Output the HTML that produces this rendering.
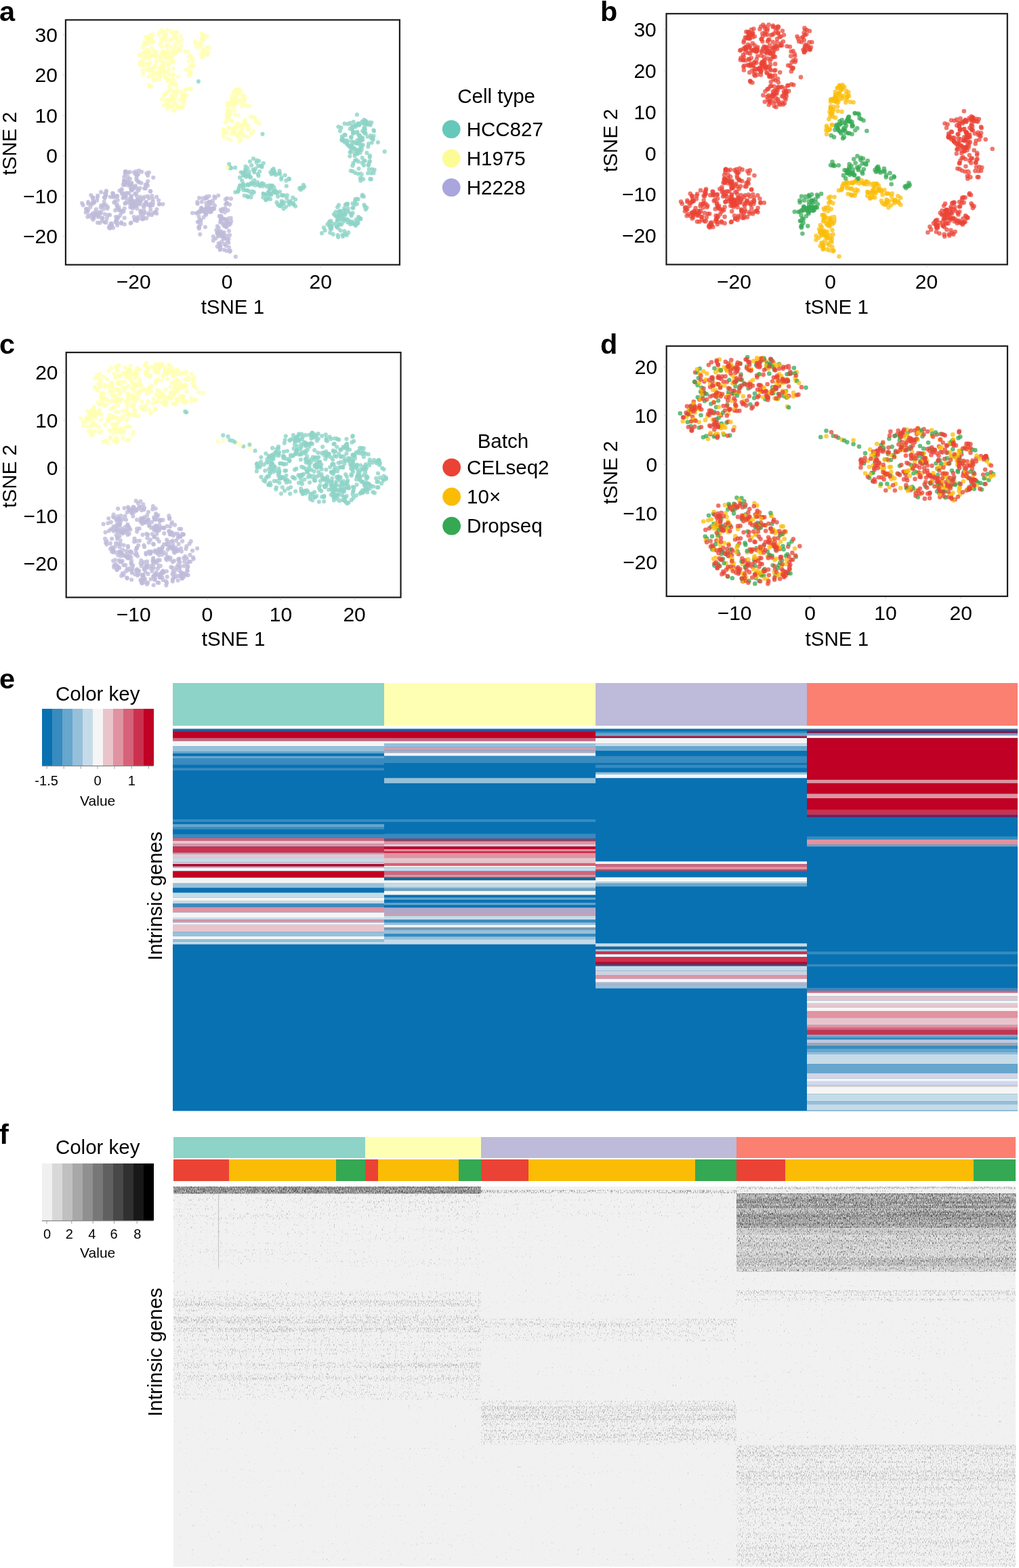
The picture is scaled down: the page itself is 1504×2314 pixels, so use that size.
<!DOCTYPE html>
<html><head><meta charset="utf-8"><title>Figure</title>
<style>
html,body{margin:0;padding:0;background:#fff;}
svg{display:block;}
text{font-family:"Liberation Sans",Arial,Helvetica,sans-serif;fill:#000;}
.tk{font-size:30px;}
.t29{font-size:29.5px;}
.t21{font-size:21px;}
.t20{font-size:20px;}
.pl{font-size:41.5px;font-weight:bold;}
</style></head><body>
<svg width="1504" height="2314" viewBox="0 0 1504 2314">
<rect width="1504" height="2314" fill="#fff"/>
<defs><clipPath id="ca"><rect x="97.9" y="30.4" width="491.0" height="359.3"/></clipPath><clipPath id="cb"><rect x="984.5" y="21.2" width="501.29999999999995" height="368.2"/></clipPath><clipPath id="cc"><rect x="98.7" y="521.1" width="491.8" height="359.5"/></clipPath><clipPath id="cd"><rect x="984.7" y="511.7" width="501.29999999999995" height="367.3"/></clipPath></defs><g class="pa"><g clip-path="url(#ca)" fill="none" stroke-linecap="round" stroke-width="6.2" stroke-opacity="0.8"><path stroke="#8dd3c7" d="M518.8 217.4h0M406.3 281.2h0M363.2 261.0h0M414.4 304.2h0M528.3 183.0h0M496.8 334.6h0M518.7 318.5h0M384.6 244.5h0M545.7 232.3h0M496.2 329.4h0M370.7 271.0h0M358.8 272.7h0M532.1 323.2h0M537.7 195.0h0M523.9 237.0h0M363.1 280.9h0M341.3 248.2h0M404.5 276.6h0M443.9 280.1h0M503.5 188.4h0M367.6 258.1h0M528.6 293.9h0M475.0 344.2h0M412.9 283.0h0M538.3 181.9h0"/><path stroke="#bebada" d="M325.0 328.1h0M219.9 254.6h0M301.1 312.1h0M317.6 292.2h0M153.7 297.7h0M157.7 322.2h0M332.8 294.3h0M209.1 253.7h0M325.8 324.8h0M167.0 336.3h0M339.2 371.3h0M172.2 323.8h0M214.9 277.9h0M303.3 308.5h0M179.5 282.0h0M202.9 320.6h0M194.4 303.9h0M222.4 300.6h0M339.1 347.1h0M134.6 320.5h0M213.6 301.1h0M302.9 335.0h0M179.1 328.2h0M151.4 321.8h0M137.1 291.4h0"/><path stroke="#ffffb3" d="M284.4 89.9h0M362.5 201.2h0M356.0 186.9h0M221.5 127.6h0M308.8 69.8h0M277.6 103.8h0M238.7 44.7h0M223.5 128.1h0M336.4 204.3h0M232.7 109.3h0M235.5 112.8h0M343.9 156.3h0M234.1 51.0h0M269.5 157.9h0M247.5 65.7h0M254.1 77.8h0M259.8 139.0h0M379.5 180.6h0M239.6 97.7h0M355.0 206.8h0M351.4 137.1h0M345.7 193.7h0M249.2 117.9h0M305.7 79.7h0M240.2 75.9h0"/><path stroke="#8dd3c7" d="M375.0 252.0h0M516.7 217.2h0M534.1 206.6h0M488.4 326.2h0M541.4 225.7h0M516.8 327.9h0M385.9 244.7h0M518.9 208.6h0M527.9 226.6h0M362.1 250.1h0M540.5 182.7h0M549.6 204.2h0M377.2 273.4h0M485.6 328.4h0M546.3 264.2h0M374.1 272.6h0M432.2 291.7h0M425.6 297.4h0M415.6 300.2h0M514.8 313.2h0M526.9 169.2h0M365.7 259.8h0M524.2 296.9h0M399.3 254.2h0M357.9 254.8h0"/><path stroke="#bebada" d="M194.6 276.5h0M193.7 279.5h0M322.7 359.1h0M170.2 310.4h0M193.0 297.8h0M217.8 273.9h0M331.4 329.7h0M156.3 287.8h0M194.5 273.5h0M193.5 294.7h0M218.2 267.6h0M136.8 315.7h0M203.8 267.8h0M334.4 370.1h0M192.0 264.0h0M186.7 269.7h0M167.1 285.9h0M320.9 333.8h0M222.3 309.1h0M196.1 279.6h0M200.8 253.1h0M122.7 302.8h0M137.2 324.1h0M188.8 254.9h0M200.1 274.1h0"/><path stroke="#ffffb3" d="M207.0 81.1h0M259.6 50.4h0M258.5 69.8h0M345.3 152.7h0M272.2 143.3h0M345.1 135.7h0M268.6 59.3h0M250.1 59.4h0M228.2 81.3h0M361.3 142.2h0M241.6 47.3h0M335.0 176.6h0M256.3 124.9h0M349.5 199.0h0M243.7 79.7h0M220.2 125.7h0M246.7 146.5h0M350.4 138.8h0M226.5 74.2h0M281.4 108.2h0M279.0 83.2h0M335.5 165.8h0M354.3 205.8h0M260.4 56.7h0M248.6 79.6h0"/><path stroke="#8dd3c7" d="M489.6 334.6h0M412.4 303.9h0M530.2 321.5h0M501.5 315.9h0M428.1 299.3h0M426.9 264.6h0M507.3 322.6h0M518.0 202.6h0M447.8 272.9h0M391.4 287.3h0M352.6 277.0h0M504.4 206.9h0M505.4 204.0h0M530.2 184.8h0M436.0 294.3h0M387.2 270.8h0M388.3 291.3h0M359.2 280.3h0M389.6 271.8h0M534.5 289.5h0M404.0 254.6h0M522.0 209.6h0M427.0 302.0h0M382.2 237.6h0M422.1 305.0h0"/><path stroke="#bebada" d="M320.7 363.8h0M139.3 298.6h0M322.9 342.4h0M337.5 352.8h0M201.4 262.4h0M331.5 351.4h0M222.3 282.4h0M156.7 283.6h0M319.2 339.5h0M196.2 298.7h0M307.4 308.2h0M318.2 352.0h0M162.3 337.0h0M136.5 315.8h0M173.4 320.5h0M218.1 259.1h0M329.7 349.4h0M240.3 301.3h0M335.3 292.7h0M341.0 293.2h0M192.5 300.5h0M150.2 322.0h0M231.4 308.8h0M235.0 301.5h0M327.9 322.2h0"/><path stroke="#ffffb3" d="M307.5 77.2h0M228.1 108.2h0M240.1 91.4h0M249.9 127.2h0M238.9 104.9h0M377.1 179.4h0M345.6 193.6h0M217.7 85.1h0M252.7 146.4h0M251.1 148.8h0M243.7 77.2h0M260.7 127.8h0M330.1 192.7h0M225.8 99.0h0M254.1 90.0h0M241.7 50.1h0M225.7 80.5h0M360.2 148.1h0M236.4 84.3h0M253.6 123.2h0M216.3 64.4h0M298.7 59.3h0M301.3 52.0h0M342.9 190.9h0M358.3 149.8h0"/><path stroke="#8dd3c7" d="M524.4 211.2h0M422.3 266.4h0M410.1 289.9h0M519.3 186.1h0M552.7 250.6h0M407.0 257.9h0M387.9 274.7h0M516.3 230.6h0M423.1 292.4h0M360.6 258.5h0M365.7 272.1h0M517.1 330.9h0M369.0 283.1h0M387.5 197.8h0M402.3 255.1h0M369.4 261.7h0M520.3 307.1h0M510.6 311.3h0M548.3 180.8h0M363.4 258.8h0M372.1 282.4h0M512.7 310.9h0M508.9 210.0h0M426.4 263.5h0M500.0 302.7h0"/><path stroke="#bebada" d="M148.7 306.3h0M289.5 314.5h0M194.6 280.0h0M185.6 252.9h0M330.5 352.5h0M164.3 333.3h0M221.8 282.2h0M296.5 330.3h0M130.1 300.3h0M190.3 285.3h0M336.4 310.4h0M325.7 362.8h0M304.1 316.9h0M171.1 320.0h0M308.5 289.5h0M320.8 343.7h0M219.7 314.4h0M126.9 308.8h0M328.5 344.0h0M293.3 335.6h0M308.2 298.4h0M304.9 290.1h0M121.0 299.8h0M158.4 307.7h0M212.7 311.4h0"/><path stroke="#ffffb3" d="M244.8 137.6h0M213.0 77.5h0M366.3 188.1h0M218.1 62.5h0M266.5 53.5h0M256.1 48.5h0M212.1 103.4h0M362.5 184.2h0M217.3 55.2h0M255.0 110.7h0M206.3 95.5h0M281.8 82.5h0M306.2 80.8h0M275.1 132.1h0M300.1 73.2h0M330.0 202.5h0M210.7 105.0h0M296.1 62.4h0M258.1 75.8h0M298.6 81.7h0M217.2 60.7h0M253.2 148.0h0M255.2 144.9h0M357.8 200.0h0M348.3 132.1h0"/><path stroke="#8dd3c7" d="M521.8 179.8h0M386.6 246.4h0M399.1 293.8h0M520.7 252.9h0M505.2 207.0h0M526.9 227.0h0M544.6 249.9h0M491.7 330.4h0M393.5 274.9h0M502.8 311.7h0M508.2 341.0h0M539.7 309.1h0M546.0 238.1h0M502.5 316.6h0M509.7 316.9h0M498.6 347.0h0M478.0 335.9h0M538.1 196.6h0M541.7 183.8h0M530.8 199.9h0M537.5 302.3h0M537.2 189.7h0M535.2 206.5h0M397.2 287.7h0M415.6 302.6h0"/><path stroke="#bebada" d="M131.4 317.7h0M184.6 300.3h0M141.5 316.5h0M198.9 324.5h0M193.7 280.9h0M202.6 294.8h0M197.5 298.8h0M310.5 313.0h0M183.8 331.0h0M194.9 297.7h0M207.2 290.5h0M169.8 297.1h0M201.2 302.5h0M162.1 317.2h0M203.6 322.8h0M160.8 335.7h0M207.8 311.0h0M179.8 285.8h0M304.8 308.1h0M297.6 308.5h0M293.8 312.1h0M330.5 368.6h0M332.1 313.3h0M219.4 317.1h0M333.3 333.9h0"/><path stroke="#ffffb3" d="M223.7 57.9h0M353.1 151.0h0M351.9 182.0h0M227.6 98.0h0M305.1 69.8h0M245.3 93.2h0M218.1 103.5h0M346.6 196.1h0M371.0 196.7h0M354.8 197.6h0M229.5 94.1h0M238.6 98.7h0M214.6 54.7h0M236.3 110.5h0M263.8 74.3h0M373.7 193.9h0M334.2 170.5h0M350.6 201.2h0M353.2 208.6h0M358.8 153.1h0M290.2 68.7h0M238.3 61.5h0M360.4 180.1h0M230.1 82.2h0M256.9 150.1h0"/><path stroke="#8dd3c7" d="M547.9 255.6h0M531.0 202.3h0M388.9 286.4h0M512.7 213.1h0M399.8 285.5h0M531.7 262.9h0M527.2 329.2h0M520.5 314.4h0M525.0 332.9h0M508.9 315.4h0M498.8 336.4h0M537.0 290.1h0M486.7 326.8h0M512.4 212.2h0M529.0 181.8h0M405.5 255.9h0M518.6 214.1h0M369.8 261.2h0M496.3 319.0h0M532.7 256.3h0M537.9 180.5h0M533.6 257.5h0M359.0 271.2h0M362.5 245.6h0M520.2 330.0h0"/><path stroke="#bebada" d="M172.8 289.1h0M337.6 322.3h0M293.4 319.5h0M334.6 299.7h0M183.7 321.5h0M211.5 293.3h0M166.6 290.6h0M144.1 328.6h0M213.1 278.0h0M204.0 257.0h0M154.4 327.8h0M140.2 315.6h0M310.3 312.2h0M153.5 302.5h0M202.2 257.8h0M141.9 308.9h0M137.7 296.2h0M165.2 333.1h0M199.1 286.1h0M323.8 318.9h0M324.4 364.1h0M340.7 321.9h0M322.2 344.6h0M127.7 308.1h0M205.3 301.5h0"/><path stroke="#ffffb3" d="M256.0 154.9h0M218.5 57.1h0M246.3 66.8h0M217.6 55.2h0M243.7 105.9h0M238.8 146.4h0M250.6 132.9h0M361.8 147.6h0M342.4 154.9h0M269.9 150.5h0M237.9 57.2h0M222.3 58.8h0M221.4 101.2h0M259.5 47.4h0M345.6 162.6h0M297.6 66.8h0M264.3 71.4h0M243.7 113.6h0M285.5 95.8h0M249.6 119.8h0M339.8 166.7h0M266.0 74.4h0M250.4 154.1h0M252.9 91.2h0M347.3 142.7h0"/><path stroke="#8dd3c7" d="M412.5 252.1h0M408.6 285.3h0M532.5 207.0h0M422.8 274.5h0M537.5 176.9h0M538.8 237.3h0M524.9 330.4h0M539.0 191.3h0M395.6 293.6h0M508.7 198.8h0M548.9 249.8h0M360.3 254.6h0M527.6 194.7h0M544.0 243.7h0M551.5 255.2h0M524.4 294.2h0M416.6 298.8h0M511.8 347.0h0M516.6 190.0h0M400.4 274.1h0M527.4 206.8h0M351.0 283.0h0M352.5 280.1h0M548.7 210.6h0M375.5 270.0h0"/><path stroke="#bebada" d="M183.7 307.5h0M300.6 320.7h0M203.8 299.2h0M204.4 281.1h0M179.2 314.0h0M164.4 329.7h0M194.0 289.4h0M333.1 301.7h0M296.0 310.5h0M203.7 294.1h0M147.4 316.7h0M194.0 313.7h0M192.0 272.4h0M174.2 307.3h0M145.7 316.9h0M324.7 368.7h0M198.6 276.0h0M188.8 261.2h0M184.9 267.8h0M192.4 297.0h0M225.7 297.8h0M184.9 254.1h0M207.9 297.1h0M225.9 299.6h0M173.1 307.5h0"/><path stroke="#ffffb3" d="M267.6 68.7h0M335.6 155.6h0M249.1 157.4h0M338.4 177.2h0M252.6 69.2h0M357.0 184.8h0M259.0 79.2h0M296.3 80.8h0M268.6 140.9h0M281.8 106.7h0M250.0 110.3h0M260.7 134.6h0M359.2 182.6h0M205.6 81.8h0M356.2 197.2h0M248.9 133.6h0M289.1 64.6h0M300.2 81.6h0M244.4 85.9h0M298.7 75.3h0M358.2 140.0h0M214.3 83.8h0M356.1 194.0h0M252.6 144.9h0M213.4 85.0h0"/><path stroke="#8dd3c7" d="M514.2 343.2h0M551.4 192.1h0M529.4 199.4h0M373.6 250.3h0M432.5 299.6h0M378.9 236.5h0M380.7 257.0h0M368.9 238.3h0M358.9 258.9h0M403.7 249.2h0M513.1 328.2h0M567.7 223.7h0M358.7 276.9h0M538.2 187.4h0M505.3 346.6h0M512.5 212.5h0M400.3 287.4h0M524.9 187.1h0M504.9 201.4h0M366.0 272.9h0M533.7 213.5h0M380.2 269.2h0M525.8 235.9h0M533.8 217.9h0M540.2 179.3h0"/><path stroke="#bebada" d="M171.4 325.4h0M297.1 306.7h0M202.8 297.3h0M137.0 299.2h0M145.0 320.1h0M147.5 313.0h0M156.3 288.7h0M202.0 278.3h0M198.2 298.3h0M155.0 285.7h0M172.4 303.4h0M214.7 272.9h0M310.1 308.8h0M193.6 328.6h0M231.2 315.1h0M138.6 322.1h0M213.1 290.6h0M229.8 313.0h0M294.2 333.9h0M314.0 296.0h0M197.7 320.0h0M209.1 323.0h0M225.5 293.9h0M135.9 301.1h0M173.7 295.3h0"/><path stroke="#ffffb3" d="M248.5 155.4h0M211.2 110.0h0M346.4 150.1h0M228.7 78.6h0M329.2 196.9h0M283.9 86.6h0M244.6 53.3h0M361.9 177.4h0M232.6 107.9h0M337.3 189.2h0M347.2 188.2h0M218.2 94.0h0M271.2 141.0h0M244.4 148.6h0M279.2 112.0h0M342.3 141.3h0M343.3 150.6h0M257.1 53.5h0M264.4 61.7h0M234.1 106.6h0M210.4 95.8h0M366.4 191.1h0M297.9 84.3h0M269.3 143.5h0M218.9 56.5h0"/><path stroke="#8dd3c7" d="M402.0 273.8h0M542.4 201.5h0M499.2 324.4h0M543.0 255.5h0M506.7 206.3h0M504.7 205.6h0M413.2 256.2h0M417.4 301.2h0M347.3 283.6h0M508.6 182.4h0M524.6 184.7h0M527.3 221.8h0M418.7 308.1h0M508.4 310.1h0M499.4 187.1h0M361.7 273.8h0M520.0 190.8h0M511.1 207.3h0M521.5 195.0h0M547.0 200.1h0M444.3 277.0h0M491.6 345.7h0M534.4 179.3h0M433.3 301.4h0M357.2 266.4h0"/><path stroke="#bebada" d="M341.2 326.6h0M337.9 365.0h0M192.1 305.8h0M229.0 313.2h0M304.9 312.3h0M215.7 298.0h0M153.7 291.3h0M309.8 301.1h0M322.1 348.6h0M212.1 321.4h0M339.0 301.8h0M294.0 292.2h0M225.2 303.0h0M183.5 272.1h0M170.3 328.2h0M198.2 303.4h0M294.5 313.3h0M332.7 323.5h0M309.4 297.9h0M311.7 307.7h0M138.5 299.0h0M216.4 255.7h0M149.4 303.2h0M324.8 347.8h0M193.6 297.4h0"/><path stroke="#ffffb3" d="M342.4 146.0h0M258.0 138.5h0M272.3 147.8h0M242.1 84.4h0M348.7 152.3h0M213.1 62.9h0M260.2 57.1h0M253.0 78.1h0M241.3 155.7h0M258.3 76.1h0M244.8 114.8h0M334.3 196.1h0M206.9 92.6h0M360.5 201.0h0M347.3 145.2h0M305.5 53.6h0M209.9 94.9h0M248.3 74.3h0M261.1 47.6h0M266.4 156.9h0M370.4 172.2h0M349.5 188.1h0M354.6 196.7h0M354.8 193.5h0M258.9 64.9h0"/><path stroke="#8dd3c7" d="M436.0 304.3h0M487.9 336.5h0M536.2 264.5h0M546.7 184.5h0M544.5 180.5h0M492.8 316.1h0M534.7 263.5h0M339.6 246.6h0M366.5 290.6h0M533.6 221.3h0M518.7 202.4h0M523.4 301.9h0M539.6 178.9h0M409.9 301.8h0M526.4 293.5h0M532.2 322.7h0M547.8 264.4h0M526.9 184.3h0M339.0 247.8h0M398.8 278.7h0M502.4 311.7h0M487.4 337.5h0M518.2 224.4h0M524.2 255.0h0M506.0 317.9h0"/><path stroke="#bebada" d="M210.9 316.9h0M302.0 312.0h0M221.3 304.1h0M161.6 333.6h0M175.6 305.8h0M212.3 306.0h0M140.5 314.5h0M200.9 304.1h0M188.3 266.2h0M335.4 300.0h0M195.2 301.4h0M217.8 289.6h0M138.9 319.1h0M293.9 337.2h0M190.7 271.3h0M187.2 296.3h0M216.1 322.1h0M325.9 341.2h0M188.1 268.2h0M162.6 335.2h0M303.5 292.0h0M327.1 311.9h0M291.3 314.3h0M140.0 313.2h0M168.3 298.8h0"/><path stroke="#ffffb3" d="M284.6 98.3h0M340.4 154.8h0M351.7 170.0h0M236.5 101.8h0M220.5 102.1h0M367.7 190.5h0M254.5 133.5h0M238.0 68.8h0M303.6 75.7h0M352.4 133.4h0M220.2 86.3h0M253.0 45.8h0M354.0 195.6h0M293.9 69.4h0M260.8 155.0h0M214.0 96.1h0M358.1 144.5h0M366.2 184.8h0M228.1 83.3h0M264.3 134.8h0M248.6 108.6h0M219.0 95.1h0M250.3 93.8h0M252.9 47.8h0M265.7 134.3h0"/><path stroke="#8dd3c7" d="M504.2 322.7h0M403.5 281.9h0M420.7 258.6h0M504.3 331.1h0M392.7 287.3h0M366.0 259.4h0M362.6 252.8h0M507.2 207.8h0M498.9 323.9h0M364.6 289.6h0M516.6 181.3h0M394.8 291.6h0M499.7 313.2h0M400.7 275.6h0M415.1 264.6h0M519.6 327.0h0M526.6 211.4h0M513.1 208.0h0M419.6 298.7h0M528.5 256.5h0M517.7 252.1h0M354.0 261.9h0M499.2 350.0h0M537.2 237.6h0M506.6 327.0h0"/><path stroke="#bebada" d="M216.7 271.7h0M299.5 292.4h0M126.6 313.6h0M173.1 289.9h0M303.1 314.8h0M330.7 323.3h0M143.6 291.4h0M169.5 290.6h0M224.1 289.2h0M173.4 329.3h0M144.6 318.7h0M303.2 309.7h0M193.6 290.9h0M304.3 299.5h0M322.2 288.5h0M219.8 292.7h0M216.5 302.2h0M156.9 281.6h0M154.7 316.2h0M338.0 332.1h0M301.7 293.3h0M206.6 277.5h0M329.0 308.3h0M338.0 340.8h0M129.3 320.1h0"/><path stroke="#ffffb3" d="M224.1 56.4h0M353.5 147.4h0M217.0 102.5h0M219.3 113.5h0M211.1 91.0h0M222.7 111.2h0M279.8 106.9h0M376.4 174.2h0M235.1 107.5h0M244.7 59.1h0M252.4 59.0h0M346.1 135.8h0M298.1 49.3h0M352.6 131.5h0M353.1 133.2h0M221.7 92.6h0M226.0 116.3h0M273.0 75.5h0M339.9 163.0h0M271.9 140.3h0M229.4 83.4h0M236.1 100.1h0M368.4 156.5h0M249.4 102.3h0M236.3 89.1h0"/><path stroke="#8dd3c7" d="M292.9 120.2h0M523.8 226.5h0M415.8 296.8h0M523.5 219.6h0M535.1 193.4h0M423.8 288.0h0M408.5 298.5h0M535.2 203.3h0M408.4 283.7h0M355.8 273.6h0M488.4 334.5h0M367.8 273.1h0M538.5 304.8h0M530.5 222.3h0M442.1 277.9h0M543.6 243.4h0M392.1 294.2h0M500.6 330.5h0M528.7 329.1h0M397.0 273.7h0M519.5 215.4h0M381.7 272.6h0M528.2 326.1h0M508.6 324.6h0M509.6 345.1h0"/><path stroke="#bebada" d="M220.9 302.8h0M316.3 290.0h0M149.1 283.4h0M339.9 370.1h0M225.7 314.5h0M297.7 298.0h0M312.0 308.6h0M181.4 292.2h0M231.0 290.6h0M144.8 313.6h0M188.5 273.3h0M191.5 253.9h0M322.8 347.7h0M180.5 311.1h0M316.1 308.2h0M166.2 285.1h0M173.2 332.5h0M330.7 343.0h0M189.4 299.3h0M179.1 329.8h0M324.6 319.5h0M325.8 323.3h0M152.5 303.4h0M196.1 305.0h0M183.9 267.0h0"/><path stroke="#ffffb3" d="M275.6 140.3h0M350.9 147.8h0M235.5 112.4h0M336.0 152.7h0M254.5 57.3h0M348.6 143.3h0M335.9 172.8h0M335.8 162.1h0M271.1 144.9h0M301.3 75.1h0M242.2 108.4h0M282.5 131.3h0M278.6 89.8h0M270.4 136.3h0M350.2 134.4h0M222.2 58.2h0M343.1 145.5h0M213.4 79.2h0M227.1 118.4h0M329.9 190.5h0M241.8 140.7h0M342.2 178.5h0M210.1 88.0h0M220.4 125.9h0M248.3 118.4h0"/><path stroke="#8dd3c7" d="M530.1 208.1h0M402.0 251.0h0M523.5 230.0h0M525.6 324.2h0M483.3 331.1h0M397.6 285.3h0M526.2 330.6h0M522.6 218.6h0M428.7 296.9h0M527.8 211.7h0M512.9 300.7h0M378.6 239.6h0M529.6 222.3h0M496.9 334.3h0M374.0 234.1h0M361.6 257.5h0M533.1 203.2h0M381.6 259.4h0M370.6 270.4h0M551.5 200.7h0M521.4 186.4h0M510.2 323.6h0M523.1 331.0h0M359.7 256.1h0M535.8 214.1h0"/><path stroke="#bebada" d="M206.4 300.4h0M308.0 305.0h0M291.3 298.2h0M149.3 313.7h0M325.0 343.5h0M202.2 326.0h0M191.6 293.2h0M183.2 261.3h0M130.2 298.1h0M314.6 300.8h0M183.1 266.4h0M175.1 309.6h0M234.1 295.5h0M327.2 356.7h0M305.2 314.0h0M207.6 317.7h0M305.4 292.3h0M312.2 311.8h0M208.5 270.1h0M330.0 347.7h0M317.0 303.4h0M192.7 276.8h0M129.0 311.7h0M310.0 298.2h0M174.3 321.6h0"/><path stroke="#ffffb3" d="M262.5 62.1h0M342.8 178.8h0M304.9 79.0h0M255.2 139.6h0M258.5 143.7h0M344.1 189.1h0M259.8 152.0h0M221.8 51.8h0M345.9 168.9h0M219.7 76.9h0M230.0 116.8h0M222.3 81.2h0M340.6 206.8h0M218.3 61.3h0M350.0 133.4h0M274.6 103.2h0M226.8 112.5h0M257.6 142.5h0M213.9 80.2h0M332.0 196.8h0M243.1 106.6h0M255.4 74.8h0M223.8 71.2h0M277.3 76.4h0M301.0 58.4h0"/><path stroke="#8dd3c7" d="M375.4 266.0h0M375.4 254.2h0M388.8 240.8h0M386.5 270.7h0M539.7 178.9h0M550.8 205.9h0M524.1 221.5h0M487.2 332.8h0M338.1 242.2h0M530.2 183.3h0M499.5 319.3h0M373.7 267.3h0M371.4 287.0h0M528.2 221.6h0M402.5 251.2h0M383.1 253.2h0M495.5 312.7h0M518.5 220.9h0M449.1 275.6h0M388.6 285.6h0M514.7 325.1h0M400.8 256.9h0M405.1 283.9h0M370.4 291.1h0M506.1 348.9h0"/><path stroke="#bebada" d="M325.8 309.7h0M183.8 272.9h0M152.7 308.4h0M294.9 324.1h0M331.4 360.0h0M184.3 285.3h0M197.1 299.1h0M182.9 268.7h0M224.0 317.3h0M335.7 356.0h0M196.3 307.5h0M194.2 269.9h0M177.3 317.8h0M143.1 295.7h0M321.7 341.6h0M159.0 305.4h0M336.9 329.3h0M183.1 290.5h0M314.8 349.1h0M296.9 312.1h0M194.1 299.7h0M291.8 327.5h0M195.9 302.3h0M167.8 289.2h0M320.5 344.4h0"/><path stroke="#ffffb3" d="M363.4 183.0h0M256.3 110.1h0M214.8 63.6h0M253.3 85.8h0M336.9 152.1h0M247.5 105.5h0M348.1 188.7h0M336.3 152.2h0M249.2 148.0h0M248.6 97.1h0M214.4 76.5h0M282.1 96.0h0M249.2 86.6h0M247.5 119.3h0M267.3 159.7h0M352.6 137.4h0M382.9 182.7h0M230.0 81.5h0M225.3 50.5h0M223.6 81.9h0M245.7 152.5h0M232.2 108.5h0M238.6 78.8h0M235.8 47.3h0M347.8 197.6h0"/><path stroke="#8dd3c7" d="M418.5 288.3h0M360.5 288.6h0M534.7 232.8h0M415.6 288.3h0M365.4 281.1h0M509.7 302.5h0M544.1 212.0h0M354.1 273.6h0M479.7 340.1h0M530.3 200.1h0M537.9 180.3h0M544.9 183.6h0M531.6 225.5h0M365.8 281.0h0M547.5 203.4h0M505.2 318.0h0M512.6 301.9h0M537.0 243.9h0M487.2 343.4h0M397.6 279.1h0M521.9 329.0h0M502.3 340.1h0M404.9 282.1h0M497.6 324.8h0M541.3 306.5h0"/><path stroke="#bebada" d="M172.6 301.6h0M200.0 256.9h0M207.5 312.6h0M235.1 301.1h0M304.7 303.9h0M144.3 288.6h0M154.9 291.9h0M329.1 331.1h0M335.5 328.2h0M295.3 345.8h0M193.6 271.9h0M327.2 345.9h0M159.6 317.3h0M314.3 308.1h0M147.5 328.8h0M199.0 324.3h0M184.7 300.1h0M326.6 318.8h0M181.7 272.5h0M197.2 298.2h0M300.1 309.4h0M181.9 272.3h0M182.5 312.0h0M193.5 271.5h0M136.8 292.2h0"/><path stroke="#ffffb3" d="M263.0 113.3h0M219.7 63.9h0M236.2 65.3h0M343.7 152.0h0M246.2 137.1h0M231.0 89.9h0M231.0 76.9h0M247.5 154.8h0M248.1 117.1h0M345.1 194.9h0M254.5 158.7h0M337.8 188.9h0M246.9 44.6h0M219.6 64.9h0M254.8 162.0h0M240.9 95.8h0M357.2 156.8h0M256.1 117.6h0M225.0 103.3h0M230.7 80.2h0M333.1 180.9h0M236.6 65.6h0M343.5 150.4h0M235.6 116.9h0M254.3 144.5h0"/><path stroke="#8dd3c7" d="M521.4 306.7h0M392.4 295.3h0M501.8 311.6h0M411.2 256.3h0M512.0 323.5h0M539.8 196.8h0M509.7 199.4h0M415.5 261.5h0M529.1 320.0h0M486.3 333.5h0M520.2 191.7h0M514.4 215.1h0M532.0 215.8h0M395.6 284.0h0M545.8 229.7h0M427.7 299.5h0M383.6 274.5h0M502.3 319.7h0M371.2 244.1h0M525.9 195.7h0M498.1 305.8h0M526.8 301.0h0M351.7 281.7h0M521.1 196.9h0M557.9 210.1h0"/><path stroke="#bebada" d="M201.1 285.2h0M297.3 307.7h0M216.1 299.2h0M335.1 351.5h0M192.7 329.5h0M204.5 268.3h0M138.0 318.5h0M284.0 314.3h0M176.8 310.4h0M205.4 269.1h0M332.4 307.7h0M185.6 289.2h0M322.8 336.3h0M334.5 347.8h0M330.9 333.6h0M150.8 326.0h0M182.0 286.8h0M213.7 314.2h0M207.6 312.8h0M314.8 354.9h0M328.2 349.9h0M202.5 258.7h0M194.6 305.4h0M198.6 304.8h0M226.3 262.0h0"/><path stroke="#ffffb3" d="M298.5 78.5h0M355.4 134.3h0M358.0 190.1h0M248.3 83.6h0M360.5 180.4h0M229.3 99.6h0M256.1 101.2h0M279.8 99.0h0M341.9 196.4h0M255.2 80.6h0M348.7 184.0h0M340.2 151.5h0M233.8 108.4h0M375.2 172.7h0M240.7 102.8h0M243.5 104.6h0M242.0 58.5h0M279.5 130.5h0M271.3 152.4h0M255.1 144.2h0M257.4 163.3h0M226.8 61.5h0M219.5 75.3h0M223.8 103.3h0M370.8 172.4h0"/><path stroke="#8dd3c7" d="M365.8 290.5h0M552.0 193.5h0M501.9 193.3h0M367.6 253.6h0M529.0 238.4h0M396.2 283.8h0M521.4 240.9h0M366.9 255.9h0M518.2 316.1h0M383.5 273.2h0M506.8 314.0h0M502.0 324.3h0M535.3 181.9h0M529.5 248.8h0M489.2 337.8h0M377.0 249.1h0M513.3 183.0h0M404.8 252.6h0M365.5 248.4h0M520.4 300.3h0M532.3 266.7h0M531.1 208.2h0M511.0 301.1h0M521.1 195.9h0M530.2 220.9h0"/><path stroke="#bebada" d="M184.6 257.5h0M291.6 300.8h0M162.8 290.5h0M190.1 269.5h0M347.8 378.8h0M184.8 253.3h0M334.8 325.0h0M130.1 310.3h0M156.3 302.6h0M197.7 254.3h0M333.0 333.6h0M333.5 362.6h0M202.2 307.7h0M324.9 367.0h0M337.4 358.2h0M211.6 303.4h0M205.2 251.8h0M293.2 327.6h0M207.3 295.4h0M340.2 330.1h0M324.1 360.3h0M163.3 330.8h0M334.6 327.6h0M185.7 291.5h0M179.8 279.0h0"/><path stroke="#ffffb3" d="M273.8 132.3h0M297.6 84.0h0M348.8 133.1h0M263.3 159.8h0M241.6 55.6h0M263.7 74.6h0M237.5 101.0h0M338.5 170.4h0M335.6 164.5h0M237.3 82.2h0M246.4 83.1h0M362.4 184.0h0M210.6 79.2h0M218.6 78.3h0M346.5 156.6h0M297.4 56.6h0M242.3 76.9h0M287.7 61.4h0M217.1 73.1h0M241.1 100.0h0M225.7 81.7h0M253.4 83.9h0M246.9 160.3h0M223.7 62.4h0M244.0 83.4h0"/><path stroke="#8dd3c7" d="M534.9 287.6h0M501.9 331.2h0M539.3 178.3h0M530.0 210.7h0M516.6 224.5h0M347.1 247.4h0M545.1 239.4h0M534.7 240.4h0M404.5 283.3h0M520.6 244.4h0M499.2 318.1h0M447.3 277.6h0M500.8 312.2h0M374.8 283.7h0M513.7 307.5h0M359.8 257.4h0M508.1 307.6h0M543.4 216.4h0M530.6 205.8h0M381.0 244.9h0M355.6 254.3h0M520.3 244.6h0M528.3 211.5h0M433.1 301.3h0M417.4 288.2h0"/><path stroke="#bebada" d="M314.1 307.9h0M328.2 347.8h0M134.4 301.7h0M296.6 325.2h0M201.7 265.4h0M211.1 323.4h0M172.1 325.8h0M187.8 284.9h0M176.6 281.4h0M196.8 296.2h0M334.3 335.3h0M156.8 327.3h0M202.0 289.5h0M133.2 305.7h0M326.5 326.5h0M156.2 328.4h0M134.3 288.1h0"/><path stroke="#ffffb3" d="M298.7 53.1h0M251.9 118.1h0M240.6 105.1h0M348.5 132.6h0M294.6 63.3h0M238.4 103.4h0M253.0 141.1h0M249.2 86.0h0M241.7 78.8h0M237.7 98.1h0M361.3 177.7h0M334.6 194.9h0M245.4 68.8h0M359.3 183.2h0M220.9 104.2h0M363.9 156.1h0M245.3 50.3h0M267.6 146.8h0M337.9 173.4h0M366.3 202.5h0M211.4 67.7h0M351.0 186.6h0M213.7 78.6h0M341.7 149.4h0M210.9 70.1h0"/><path stroke="#8dd3c7" d="M502.3 315.7h0M495.1 318.3h0"/><path stroke="#ffffb3" d="M261.4 158.4h0M226.3 108.5h0M255.9 90.9h0M335.7 247.1h0M336.6 166.1h0M260.3 134.8h0M259.8 122.7h0M266.0 147.9h0"/></g></g><rect x="96.9" y="29.4" width="493.0" height="361.3" fill="none" stroke="#1c1c1c" stroke-width="2.2"/><line x1="197.2" y1="391.7" x2="197.2" y2="394.7" stroke="#ccc" stroke-width="1"/><text x="197.2" y="426.0" text-anchor="middle" class="tk">−20</text><line x1="335.2" y1="391.7" x2="335.2" y2="394.7" stroke="#ccc" stroke-width="1"/><text x="335.2" y="426.0" text-anchor="middle" class="tk">0</text><line x1="473.2" y1="391.7" x2="473.2" y2="394.7" stroke="#ccc" stroke-width="1"/><text x="473.2" y="426.0" text-anchor="middle" class="tk">20</text><line x1="92.9" y1="51.4" x2="95.9" y2="51.4" stroke="#ccc" stroke-width="1"/><text x="84.9" y="61.9" text-anchor="end" class="tk">30</text><line x1="92.9" y1="110.8" x2="95.9" y2="110.8" stroke="#ccc" stroke-width="1"/><text x="84.9" y="121.3" text-anchor="end" class="tk">20</text><line x1="92.9" y1="170.3" x2="95.9" y2="170.3" stroke="#ccc" stroke-width="1"/><text x="84.9" y="180.8" text-anchor="end" class="tk">10</text><line x1="92.9" y1="229.8" x2="95.9" y2="229.8" stroke="#ccc" stroke-width="1"/><text x="84.9" y="240.3" text-anchor="end" class="tk">0</text><line x1="92.9" y1="289.3" x2="95.9" y2="289.3" stroke="#ccc" stroke-width="1"/><text x="84.9" y="299.8" text-anchor="end" class="tk">−10</text><line x1="92.9" y1="348.8" x2="95.9" y2="348.8" stroke="#ccc" stroke-width="1"/><text x="84.9" y="359.3" text-anchor="end" class="tk">−20</text><text x="343.4" y="463.2" text-anchor="middle" class="t29">tSNE 1</text><text transform="translate(24.1,211.85) rotate(-90)" text-anchor="middle" class="t29">tSNE 2</text><text x="-1" y="31" class="pl">a</text><g class="pb"><g clip-path="url(#cb)" fill="none" stroke-linecap="round" stroke-width="6.6" stroke-opacity="0.72"><path stroke="#ea4335" d="M1414.4 213.3h0M1173.3 82.8h0M1106.9 251.4h0M1424.2 178.1h0M1108.5 121.4h0M1391.7 333.2h0M1038.7 295.5h0M1198.3 62.2h0M1166.2 97.1h0M1414.4 316.7h0M1126.2 36.6h0M1042.8 320.6h0M1110.5 122.0h0M1442.1 228.5h0M1120.0 102.7h0M1095.7 250.4h0M1052.4 335.0h0M1122.9 106.2h0M1391.2 327.9h0M1057.7 322.1h0M1428.1 321.6h0M1121.5 43.0h0M1433.9 190.4h0M1419.6 233.3h0M1101.7 275.2h0"/><path stroke="#fbbc05" d="M1298.6 278.5h0M1215.0 326.6h0M1307.0 302.1h0M1223.0 291.9h0M1215.8 323.2h0M1229.6 370.8h0M1262.0 268.2h0M1249.8 269.9h0M1234.5 150.8h0M1254.2 278.2h0M1229.6 346.0h0M1296.8 273.9h0M1305.4 280.4h0M1212.6 358.3h0M1242.1 131.1h0M1268.7 270.6h0M1221.6 328.2h0M1235.9 147.1h0M1265.6 269.8h0M1325.3 289.3h0M1318.5 295.2h0M1235.7 129.7h0M1308.2 298.0h0M1224.6 369.5h0M1252.3 136.4h0"/><path stroke="#34a853" d="M1254.3 257.9h0M1253.6 196.7h0M1246.9 182.1h0M1190.4 310.2h0M1207.4 289.9h0M1226.7 199.9h0M1276.3 241.0h0M1192.7 306.5h0M1231.8 244.8h0M1337.3 277.4h0M1258.9 255.0h0M1266.5 248.7h0M1271.1 175.7h0M1192.3 333.6h0M1245.9 202.4h0M1277.7 241.2h0M1236.3 189.0h0M1253.2 246.8h0M1256.9 256.7h0M1291.5 250.9h0M1248.9 251.6h0M1240.2 194.5h0M1319.8 261.6h0M1245.1 201.4h0M1341.3 270.1h0"/><path stroke="#ea4335" d="M1065.3 279.5h0M1157.9 152.4h0M1089.4 318.9h0M1080.6 301.8h0M1109.4 298.4h0M1135.3 58.1h0M1019.0 318.8h0M1100.4 299.0h0M1142.0 70.5h0M1398.6 183.6h0M1424.6 291.6h0M1369.4 343.0h0M1434.5 177.0h0M1147.9 133.1h0M1412.2 213.1h0M1430.1 202.3h0M1383.2 324.6h0M1064.9 326.7h0M1036.3 320.2h0M1021.6 289.0h0M1127.1 90.8h0M1080.8 273.8h0M1437.7 221.8h0M1079.9 276.9h0M1412.3 326.4h0"/><path stroke="#fbbc05" d="M1225.3 171.6h0M1210.8 332.4h0M1304.9 301.8h0M1241.2 132.9h0M1321.1 297.1h0M1225.8 160.5h0M1210.6 363.1h0M1212.9 341.2h0M1227.9 351.9h0M1283.3 284.9h0M1243.4 274.3h0M1221.7 350.5h0M1209.0 338.2h0M1329.2 291.9h0M1279.0 268.0h0M1208.1 351.0h0M1280.2 289.0h0M1250.2 277.6h0M1281.5 269.0h0M1219.9 348.4h0M1220.3 188.0h0M1320.0 299.8h0M1225.6 290.4h0M1231.5 290.8h0M1251.2 142.4h0"/><path stroke="#34a853" d="M1196.9 306.3h0M1268.6 174.4h0M1236.2 189.0h0M1296.3 251.3h0M1273.9 234.0h0M1315.2 263.4h0M1233.4 186.2h0M1299.4 254.8h0M1178.5 312.7h0M1257.5 183.3h0M1251.6 255.4h0M1279.3 193.3h0M1185.7 328.9h0M1294.5 251.9h0M1260.7 258.7h0M1253.6 179.3h0M1193.5 315.2h0M1254.5 255.6h0M1198.1 287.1h0M1182.4 334.3h0M1197.7 296.2h0M1194.4 287.7h0M1319.3 260.4h0M1278.4 242.9h0M1200.1 311.1h0"/><path stroke="#ea4335" d="M1414.6 204.3h0M1055.7 308.5h0M1423.8 222.8h0M1137.0 111.5h0M1436.7 177.8h0M1446.1 199.8h0M1079.2 295.6h0M1195.1 72.4h0M1104.7 271.1h0M1127.7 68.6h0M1380.3 326.8h0M1093.5 73.8h0M1147.7 42.5h0M1442.7 261.2h0M1146.6 62.3h0M1041.4 285.4h0M1160.7 137.5h0M1080.8 270.8h0M1079.7 292.4h0M1157.0 51.6h0M1105.1 264.7h0M1021.4 313.9h0M1137.9 51.7h0M1410.3 311.3h0M1115.4 74.0h0"/><path stroke="#fbbc05" d="M1314.9 303.0h0M1302.6 287.5h0M1218.0 320.6h0M1249.3 144.2h0M1279.7 271.9h0M1316.0 290.1h0M1220.7 351.6h0M1256.8 269.3h0M1260.3 280.5h0M1226.7 308.5h0M1215.8 362.1h0M1210.7 342.6h0M1263.5 279.8h0M1218.6 342.9h0M1220.1 198.0h0M1291.3 291.5h0M1285.5 272.1h0M1238.9 126.0h0M1243.9 145.4h0M1289.3 285.2h0M1308.3 300.5h0M1224.5 165.3h0M1280.7 283.9h0M1220.6 368.1h0M1292.0 283.0h0"/><path stroke="#34a853" d="M1248.7 195.5h0M1242.6 177.1h0M1237.2 191.5h0M1262.3 192.2h0M1194.2 306.1h0M1245.7 193.1h0M1265.2 189.2h0M1186.9 306.5h0M1182.9 310.2h0M1241.4 196.7h0M1244.0 204.3h0M1251.4 175.1h0M1182.5 317.7h0M1297.8 252.7h0M1261.2 258.1h0M1199.9 310.3h0M1253.6 242.2h0M1305.0 248.8h0M1315.6 271.7h0M1189.9 319.0h0M1251.4 251.4h0M1185.2 308.6h0M1247.9 180.0h0M1250.1 177.7h0M1247.1 192.7h0"/><path stroke="#ea4335" d="M1090.3 264.9h0M1422.8 164.0h0M1419.9 294.7h0M1078.2 261.0h0M1072.7 266.9h0M1052.5 283.4h0M1129.1 39.2h0M1144.3 118.6h0M1109.3 307.2h0M1131.4 72.4h0M1384.4 333.2h0M1107.2 119.5h0M1426.2 319.8h0M1134.4 140.7h0M1082.3 277.0h0M1396.6 314.0h0M1087.2 249.8h0M1113.7 66.8h0M1006.8 300.7h0M1021.7 322.5h0M1402.6 321.0h0M1170.2 101.6h0M1167.6 76.0h0M1074.8 251.7h0M1148.6 48.9h0"/><path stroke="#fbbc05" d="M1249.8 147.5h0M1222.3 311.5h0M1223.5 332.5h0M1228.0 320.7h0M1224.8 297.5h0M1252.9 141.8h0M1232.9 149.3h0M1213.8 317.2h0M1236.2 157.2h0M1250.0 268.4h0M1301.0 282.8h0M1214.3 363.4h0M1231.2 320.2h0M1212.1 343.5h0M1230.3 161.5h0M1287.7 291.3h0M1238.0 136.9h0M1226.0 150.1h0M1223.3 299.5h0M1228.8 172.2h0M1309.3 296.6h0M1292.6 271.3h0M1241.8 280.5h0M1243.3 277.5h0M1267.0 267.1h0"/><path stroke="#34a853" d="M1265.0 247.0h0M1247.1 189.4h0M1270.5 232.9h0M1272.3 253.8h0M1260.2 234.7h0M1249.9 255.8h0M1296.0 245.8h0M1186.3 304.7h0M1252.9 172.4h0M1237.8 183.5h0M1305.7 253.0h0M1199.7 306.8h0M1337.7 274.3h0M1248.1 263.4h0M1183.3 332.5h0M1257.6 186.4h0M1203.7 293.7h0M1230.0 243.2h0M1251.6 196.5h0M1194.3 310.4h0M1261.7 167.1h0M1240.2 183.3h0M1199.4 299.0h0M1245.5 192.1h0M1245.6 188.8h0"/><path stroke="#ea4335" d="M1086.5 271.3h0M1413.6 198.2h0M1136.4 72.3h0M1196.9 69.8h0M1115.3 101.6h0M1023.9 296.4h0M1127.7 84.4h0M1399.6 202.6h0M1400.6 199.6h0M1426.2 179.9h0M1087.8 259.4h0M1137.8 121.0h0M1109.3 279.8h0M1041.8 281.0h0M1082.5 296.5h0M1126.4 98.2h0M1047.6 335.7h0M1021.1 314.0h0M1059.0 318.8h0M1104.6 78.0h0M1140.6 140.6h0M1138.9 143.1h0M1105.0 256.0h0M1430.6 287.1h0M1131.4 69.8h0"/><path stroke="#fbbc05" d="M1214.7 368.1h0M1249.2 134.1h0M1325.7 297.4h0M1249.6 274.2h0M1237.0 144.4h0M1219.3 192.3h0M1292.5 285.0h0M1257.2 270.1h0M1271.8 266.3h0M1227.6 184.5h0M1294.3 271.0h0M1310.1 299.1h0M1238.0 281.0h0M1311.4 306.2h0M1252.8 271.1h0M1232.8 135.5h0M1233.9 145.0h0M1326.5 299.3h0M1329.3 302.2h0M1232.9 140.2h0M1239.4 146.7h0M1231.6 325.0h0M1257.7 288.2h0M1228.3 364.4h0M1224.6 191.5h0"/><path stroke="#34a853" d="M1229.4 244.4h0M1183.1 289.8h0M1183.7 311.4h0M1198.9 295.7h0M1201.3 305.7h0M1258.9 185.8h0M1191.3 310.1h0M1313.5 255.4h0M1257.2 256.2h0M1253.7 249.5h0M1244.9 191.0h0M1183.0 335.9h0M1307.7 261.6h0M1257.4 179.9h0M1192.9 289.6h0M1180.3 312.5h0M1188.7 290.0h0M1192.5 312.9h0M1267.9 169.1h0M1244.9 258.9h0M1192.6 307.7h0M1193.7 297.3h0M1212.1 286.0h0M1191.1 291.0h0M1335.5 275.3h0"/><path stroke="#ea4335" d="M1148.8 121.6h0M1112.9 92.2h0M1142.0 83.0h0M1417.7 205.3h0M1127.8 299.2h0M1129.3 42.1h0M1112.9 73.2h0M1123.9 77.1h0M1078.7 298.3h0M1035.2 320.3h0M1118.7 306.8h0M1420.2 207.0h0M1141.5 117.0h0M1103.2 56.8h0M1187.9 51.6h0M1122.4 299.4h0M1190.6 44.1h0M1414.9 181.3h0M1449.3 247.3h0M1033.6 304.2h0M1132.5 131.7h0M1411.8 226.8h0M1080.8 277.3h0M1099.7 70.1h0M1071.6 249.6h0"/><path stroke="#fbbc05" d="M1238.0 139.5h0M1302.3 299.7h0M1212.0 347.6h0M1229.4 299.7h0M1290.9 276.1h0M1230.9 149.2h0M1242.5 164.9h0M1222.9 321.9h0M1214.8 346.7h0M1295.8 279.3h0M1243.2 127.4h0M1284.7 284.8h0M1255.8 287.2h0M1286.8 289.2h0M1225.7 297.9h0M1292.9 272.9h0M1249.1 138.7h0M1215.9 340.0h0M1217.1 310.0h0M1312.4 296.5h0M1244.3 141.6h0M1220.9 321.7h0M1236.7 129.9h0M1243.4 125.4h0M1243.9 127.2h0"/><path stroke="#34a853" d="M1206.0 287.6h0M1186.9 295.8h0M1294.3 247.6h0M1201.6 306.6h0M1270.2 236.1h0M1265.4 230.4h0M1252.6 254.4h0M1205.8 306.2h0M1273.2 256.3h0M1234.6 184.3h0M1197.5 303.0h0M1180.4 295.9h0M1231.0 202.4h0M1204.3 298.7h0M1250.7 253.0h0M1266.9 263.1h0M1266.9 251.0h0M1280.7 237.3h0M1194.7 312.1h0M1194.9 289.9h0M1201.8 309.9h0M1206.8 301.4h0M1254.5 178.1h0M1228.5 238.7h0M1199.6 296.0h0"/><path stroke="#ea4335" d="M1412.7 329.4h0M1049.7 331.9h0M1108.9 279.7h0M1105.0 54.8h0M1154.8 45.6h0M1014.5 298.1h0M1076.4 282.7h0M1415.9 305.1h0M1144.1 40.5h0M1098.9 96.7h0M1406.0 309.4h0M1444.8 175.8h0M1104.2 47.4h0M1056.6 318.3h0M1143.0 104.2h0M1092.9 88.6h0M1170.6 75.2h0M1106.6 312.6h0M1011.1 306.8h0M1195.7 73.6h0M1163.7 126.1h0M1189.4 65.8h0M1408.1 309.0h0M1404.2 205.7h0M1005.0 297.6h0"/><path stroke="#fbbc05" d="M1308.5 294.6h0M1316.6 285.5h0M1300.9 296.3h0M1230.3 157.6h0M1228.4 330.7h0M1300.8 281.1h0M1246.7 270.9h0M1259.1 270.3h0M1259.6 151.0h0M1219.1 306.3h0M1228.4 339.6h0M1284.0 291.9h0M1241.7 142.1h0M1289.1 270.9h0M1226.3 147.1h0M1239.2 137.5h0M1226.2 167.6h0M1230.3 369.6h0M1226.1 156.7h0M1273.3 269.8h0M1289.8 282.8h0M1321.7 294.7h0M1240.9 128.4h0M1233.6 139.7h0M1212.8 346.6h0"/><path stroke="#34a853" d="M1265.1 264.4h0M1238.8 183.9h0M1294.8 247.9h0M1274.8 249.9h0M1184.1 322.5h0M1342.7 272.9h0M1293.0 253.7h0M1274.6 177.8h0M1186.1 310.2h0M1180.9 326.0h0M1194.1 301.8h0M1238.4 193.0h0M1235.7 190.3h0M1184.4 344.7h0M1303.7 253.1h0M1204.0 306.1h0M1249.0 185.4h0M1308.1 258.4h0M1251.6 175.5h0M1232.4 191.8h0M1239.4 179.1h0M1189.4 307.4h0M1262.6 240.6h0M1266.7 167.6h0M1186.5 305.7h0"/><path stroke="#ea4335" d="M1097.4 98.4h0M1395.1 300.6h0M1417.5 174.8h0M1185.3 54.7h0M1146.2 68.4h0M1043.6 305.7h0M1099.4 309.5h0M1187.9 74.4h0M1015.8 316.0h0M1104.1 53.0h0M1070.6 298.1h0M1416.3 249.6h0M1400.4 202.7h0M1026.2 314.8h0M1085.2 322.9h0M1079.9 278.3h0M1089.1 292.5h0M1083.8 296.6h0M1141.1 142.4h0M1143.2 139.2h0M1422.8 223.2h0M1441.0 246.5h0M1386.5 328.9h0M1397.9 309.8h0M1069.7 329.6h0"/><path stroke="#fbbc05" d="M1220.0 185.8h0M1232.7 173.5h0M1220.9 341.9h0M1233.3 173.8h0M1214.6 317.8h0M1262.0 267.5h0M1215.8 321.7h0M1236.5 163.7h0M1215.0 342.3h0M1240.7 127.3h0M1222.2 192.3h0M1217.3 355.9h0M1278.3 267.8h0M1220.2 346.7h0M1227.3 146.5h0M1215.8 307.8h0M1262.8 284.5h0M1226.6 146.6h0M1221.5 359.2h0M1226.0 355.2h0M1280.4 283.1h0M1243.4 131.4h0M1211.6 340.3h0M1227.3 327.8h0M1204.5 348.0h0"/><path stroke="#34a853" d="M1172.8 312.5h0M1258.9 250.3h0M1262.2 167.3h0M1258.1 252.7h0M1253.5 179.2h0M1268.5 245.8h0M1180.6 298.7h0M1297.1 249.3h0M1256.7 245.0h0M1252.4 172.7h0M1237.7 244.0h0M1250.3 178.3h0M1182.3 326.1h0M1340.9 274.9h0M1203.8 305.9h0M1257.5 198.0h0M1185.8 323.6h0M1250.8 254.3h0M1241.8 181.8h0M1272.7 241.4h0M1246.5 251.1h0M1226.0 243.7h0"/><path stroke="#ea4335" d="M1081.2 295.5h0M1093.8 288.1h0M1055.3 294.9h0M1087.7 300.4h0M1403.5 339.8h0M1435.9 307.1h0M1110.8 50.1h0M1442.4 234.5h0M1397.7 314.9h0M1047.3 315.5h0M1090.1 321.1h0M1114.8 91.1h0M1046.1 334.3h0M1194.5 62.3h0M1133.0 86.3h0M1405.0 315.1h0M1393.6 345.9h0M1372.4 334.6h0M1105.0 96.8h0M1094.4 309.1h0M1434.3 192.0h0M1438.0 178.9h0M1426.8 195.4h0M1065.6 283.3h0M1116.8 87.2h0"/><path stroke="#fbbc05" d="M1297.4 281.4h0M1261.7 288.7h0M1311.2 285.8h0M1251.6 286.2h0M1210.3 343.3h0M1308.3 285.8h0M1256.5 278.4h0M1245.0 270.8h0M1219.3 329.6h0M1234.2 146.4h0M1225.8 326.6h0M1257.0 278.3h0M1289.7 276.5h0M1228.2 184.1h0M1297.2 279.5h0M1284.3 293.0h0M1248.2 151.3h0M1217.3 344.8h0M1223.4 176.0h0M1234.1 144.8h0M1246.2 128.3h0M1287.6 281.5h0M1216.7 317.1h0M1320.7 297.3h0M1275.3 271.8h0"/><path stroke="#ea4335" d="M1126.1 91.9h0M1433.6 300.2h0M1101.4 46.9h0M1123.7 103.9h0M1152.0 66.9h0M1433.4 185.0h0M1431.3 202.2h0M1444.3 252.4h0M1426.9 197.9h0M1408.2 208.9h0M1106.3 315.4h0M1179.2 61.2h0M1427.7 259.9h0M1423.0 327.7h0M1125.8 53.8h0M1117.4 75.0h0M1058.4 286.7h0M1416.2 312.5h0M1420.8 331.5h0M1404.2 313.5h0M1069.6 319.9h0M1098.2 290.9h0M1144.9 144.4h0M1393.8 335.1h0M1144.0 149.3h0"/><path stroke="#fbbc05" d="M1230.6 145.9h0M1242.5 279.1h0M1257.0 288.1h0M1225.4 350.5h0M1288.3 281.3h0M1239.5 127.0h0M1222.6 305.7h0M1228.9 165.2h0M1275.2 270.4h0M1225.9 159.2h0M1212.7 335.0h0M1224.8 346.8h0M1221.0 332.3h0M1237.1 151.1h0M1204.5 354.0h0M1218.3 348.9h0M1238.5 378.5h0M1225.0 323.4h0M1239.2 126.6h0M1223.2 332.2h0M1223.7 361.9h0M1224.8 190.3h0M1214.9 366.4h0M1227.8 357.3h0M1296.8 280.8h0"/><path stroke="#ea4335" d="M1105.4 49.3h0M1052.0 288.2h0M1433.1 287.7h0M1134.0 59.2h0M1381.4 325.2h0M1407.8 208.0h0M1424.9 176.9h0M1104.5 47.3h0M1028.9 327.1h0M1099.8 275.3h0M1414.3 209.9h0M1131.3 99.2h0M1090.5 253.8h0M1126.3 140.6h0M1138.5 126.8h0M1039.5 326.2h0M1024.9 313.8h0M1158.3 144.8h0M1125.3 49.4h0M1038.5 300.4h0M1088.6 254.7h0M1109.3 51.1h0M1026.6 307.0h0M1022.3 293.9h0M1391.2 317.3h0"/><path stroke="#fbbc05" d="M1255.0 150.6h0M1230.7 328.7h0M1214.1 359.5h0M1224.9 326.0h0M1266.2 281.1h0M1218.3 346.7h0M1228.3 168.3h0M1232.2 143.8h0M1224.5 333.9h0M1216.5 324.9h0M1326.3 299.1h0M1310.0 285.7h0M1226.9 160.8h0"/><path stroke="#ea4335" d="M1108.4 94.4h0M1050.6 331.7h0M1147.7 39.4h0M1428.7 253.1h0M1085.4 283.6h0M1434.0 175.6h0M1429.6 254.4h0M1415.9 328.5h0M1186.8 59.2h0M1428.5 202.6h0M1152.6 64.0h0M1131.4 107.1h0M1012.0 306.1h0M1174.3 88.9h0M1137.4 113.5h0M1091.8 299.3h0M1069.6 305.5h0M1433.7 171.9h0M1435.0 233.7h0M1420.7 329.0h0M1435.2 186.6h0M1090.3 297.0h0M1090.9 278.5h0M1404.0 194.3h0M1154.3 67.0h0"/><path stroke="#ea4335" d="M1445.3 246.4h0M1065.0 312.2h0M1138.3 148.6h0M1423.5 190.1h0M1140.8 84.2h0M1049.8 328.2h0M1155.9 61.2h0M1136.9 151.9h0M1080.2 287.0h0M1440.4 240.2h0M1448.1 252.0h0M1420.2 291.9h0M1090.1 291.8h0M1407.2 345.9h0M1140.5 61.7h0M1032.3 314.9h0M1412.2 185.3h0M1147.1 71.9h0M1185.5 73.5h0M1156.9 135.0h0M1080.2 311.9h0M1423.3 202.4h0M1170.6 100.0h0M1078.1 269.5h0M1137.8 103.7h0"/><path stroke="#ea4335" d="M1148.8 128.6h0M1445.2 206.3h0M1409.7 342.1h0M1092.2 74.6h0M1059.8 305.3h0M1030.6 315.1h0M1448.0 187.4h0M1085.0 273.3h0M1136.7 127.6h0M1178.1 57.0h0M1189.5 74.4h0M1132.0 78.8h0M1187.9 67.9h0M1074.9 258.2h0M1101.1 76.6h0M1070.9 264.9h0M1425.4 194.9h0M1078.6 294.8h0M1112.9 295.5h0M1140.5 139.2h0M1070.8 250.9h0M1100.2 77.8h0M1094.5 294.8h0M1408.6 326.7h0M1464.7 219.8h0"/><path stroke="#ea4335" d="M1113.0 297.5h0M1434.4 182.6h0M1136.2 149.9h0M1097.9 103.4h0M1400.6 345.5h0M1115.9 71.2h0M1058.7 305.5h0M1056.9 323.8h0M1089.3 295.1h0M1407.9 208.3h0M1420.7 182.3h0M1400.2 197.0h0M1429.8 209.3h0M1172.7 79.5h0M1132.3 45.4h0M1021.6 297.0h0M1029.8 318.4h0M1421.7 232.2h0M1032.3 311.1h0M1429.9 213.8h0M1120.0 101.3h0M1436.4 174.3h0M1438.7 197.1h0M1041.4 286.2h0M1394.3 322.8h0"/><path stroke="#ea4335" d="M1439.3 252.2h0M1402.0 201.9h0M1399.9 201.3h0M1088.5 275.6h0M1084.5 296.1h0M1040.1 283.2h0M1058.0 301.3h0M1105.1 87.0h0M1101.5 270.1h0M1079.8 327.0h0M1404.0 177.6h0M1159.7 135.1h0M1420.4 179.9h0M1423.2 217.8h0M1132.0 142.9h0M1118.5 313.3h0M1403.7 308.1h0M1394.5 182.3h0M1167.8 105.5h0M1415.7 186.1h0M1023.2 320.5h0M1406.5 203.0h0M1417.2 190.4h0M1443.5 195.6h0M1386.5 344.6h0"/><path stroke="#ea4335" d="M1099.9 288.2h0M1430.5 174.3h0M1145.1 45.6h0M1152.6 54.0h0M1117.0 311.1h0M1121.4 99.9h0M1097.1 88.9h0M1382.6 335.2h0M1187.1 77.2h0M1084.0 318.3h0M1157.7 137.7h0M1432.4 261.5h0M1095.7 321.4h0M1443.2 179.6h0M1112.7 291.6h0M1105.9 48.6h0M1020.5 298.9h0M1059.3 293.0h0M1440.9 175.5h0M1146.0 132.6h0M1160.7 142.1h0M1129.7 77.2h0M1387.7 314.3h0M1430.8 260.5h0M1099.8 55.2h0"/><path stroke="#ea4335" d="M1148.4 49.3h0M1140.9 70.8h0M1128.8 150.2h0M1146.3 68.8h0M1429.6 217.3h0M1132.5 108.3h0M1414.4 197.9h0M1419.2 299.8h0M1078.3 303.8h0M1093.5 85.6h0M1435.8 173.9h0M1116.3 311.3h0M1194.9 45.7h0M1096.6 88.0h0M1136.1 66.9h0M1102.5 295.8h0M1422.2 291.2h0M1038.7 288.9h0M1149.2 39.6h0M1154.7 151.4h0M1428.2 321.1h0M1444.3 261.4h0M1422.7 179.4h0M1147.0 57.2h0M1098.8 319.7h0"/><path stroke="#ea4335" d="M1173.5 91.5h0M1397.5 309.8h0M1112.4 300.9h0M1069.4 269.2h0M1123.9 95.1h0M1107.4 95.3h0M1055.8 326.7h0M1084.6 301.3h0M1382.1 336.2h0M1023.1 296.8h0M1413.8 220.4h0M1420.0 251.8h0M1103.2 252.5h0M1034.3 301.1h0M1142.5 127.5h0M1079.8 295.1h0M1401.3 316.2h0M1097.6 315.1h0M1399.4 321.0h0M1125.4 61.3h0M1108.3 302.1h0M1193.0 68.3h0M1399.5 329.7h0M1107.2 79.2h0M1046.9 332.2h0"/><path stroke="#ea4335" d="M1061.3 303.8h0M1099.1 304.0h0M1025.2 312.7h0M1087.3 302.0h0M1140.9 37.7h0M1074.3 263.3h0M1402.5 203.5h0M1183.0 61.9h0M1394.0 322.3h0M1412.2 176.4h0M1149.0 149.4h0M1100.7 89.2h0M1081.4 299.3h0M1104.7 287.2h0M1023.5 317.3h0M1394.8 311.3h0M1076.8 268.4h0M1073.2 294.0h0M1103.0 320.4h0M1074.1 265.3h0M1047.9 333.9h0M1415.3 325.5h0M1422.4 207.2h0M1115.3 76.1h0M1152.5 128.8h0"/><path stroke="#ea4335" d="M1136.4 102.0h0M1408.6 203.7h0M1106.0 88.2h0M1138.1 86.8h0M1140.8 39.8h0M1024.6 311.3h0M1053.7 296.6h0M1103.6 268.8h0M1154.0 128.3h0M1111.2 48.6h0M1424.4 253.3h0M1103.9 95.8h0M1010.9 311.8h0M1058.7 287.5h0M1106.3 107.0h0M1097.8 84.0h0M1109.8 104.6h0M1413.3 248.8h0M1168.5 100.2h0M1122.5 100.8h0M1394.2 349.0h0M1028.3 289.0h0M1055.0 288.2h0M1433.4 234.0h0M1132.3 51.3h0"/><path stroke="#ea4335" d="M1111.2 286.8h0M1140.3 51.2h0M1401.9 325.5h0M1182.0 113.9h0M1187.4 41.3h0M1059.0 327.8h0M1029.4 316.9h0M1419.6 222.6h0M1079.8 288.5h0M1106.7 290.3h0M1419.3 215.6h0M1103.4 300.1h0M1042.1 279.0h0M1431.2 188.7h0M1108.8 85.6h0M1039.8 314.4h0M1113.1 109.9h0M1161.5 68.2h0M1431.3 198.9h0M1160.3 134.5h0M1116.7 76.2h0M1123.6 93.3h0M1383.2 333.1h0M1434.7 302.7h0M1426.4 218.4h0"/><path stroke="#ea4335" d="M1093.1 274.8h0M1137.2 95.6h0M1440.0 239.9h0M1013.7 318.4h0M1123.7 82.0h0M1164.2 134.4h0M1395.7 329.1h0M1424.6 327.6h0M1107.8 300.7h0M1122.9 105.9h0M1142.4 49.5h0M1034.0 280.9h0M1415.1 211.2h0M1112.8 312.7h0M1424.1 324.5h0M1159.5 139.1h0M1403.9 323.0h0M1404.9 344.0h0M1426.0 203.8h0M1190.7 67.7h0M1419.3 226.2h0M1421.4 322.6h0M1377.9 329.6h0M1129.8 101.8h0M1171.3 125.2h0"/><path stroke="#ea4335" d="M1422.0 329.1h0M1418.3 214.5h0M1167.2 82.8h0M1158.8 130.3h0M1423.7 207.5h0M1109.2 50.4h0M1408.4 298.5h0M1067.2 289.9h0M1118.3 288.3h0M1425.5 218.3h0M1100.2 71.9h0M1029.6 311.8h0M1074.6 270.5h0M1114.3 112.0h0M1077.7 250.6h0M1391.9 332.9h0M1129.4 134.8h0M1066.3 309.2h0M1096.8 80.9h0M1429.2 198.8h0M1107.4 119.7h0M1136.1 112.0h0M1051.6 282.6h0M1058.8 331.1h0M1075.5 297.1h0"/><path stroke="#ea4335" d="M1150.7 54.5h0M1064.9 328.4h0M1194.3 71.7h0M1143.2 133.7h0M1037.5 301.3h0M1082.4 302.9h0M1069.8 264.0h0M1146.5 137.9h0M1147.9 146.4h0M1448.1 196.2h0M1108.8 43.9h0M1417.1 181.6h0M1092.9 298.3h0M1405.6 322.0h0M1106.7 69.6h0M1117.3 110.4h0M1109.3 73.9h0M1034.2 311.8h0M1105.3 53.6h0M1418.9 329.5h0M1088.6 324.4h0M1163.1 96.5h0M1077.8 290.9h0M1069.1 258.2h0M1113.9 106.0h0"/><path stroke="#ea4335" d="M1014.5 295.9h0M1145.7 136.6h0M1100.7 73.0h0M1069.0 263.5h0M1060.7 307.6h0M1130.7 99.9h0M1431.9 209.9h0M1143.4 67.4h0M1121.4 293.2h0M1110.8 63.7h0M1165.9 69.1h0M1094.3 315.9h0M1435.9 173.9h0M1095.2 267.3h0M1447.4 201.5h0M1190.3 50.6h0M1144.3 103.5h0M1101.6 56.0h0M1419.8 217.5h0M1078.9 274.1h0M1141.2 78.7h0M1381.9 331.4h0M1013.3 309.8h0M1426.1 178.4h0M1394.6 317.5h0"/><path stroke="#ea4335" d="M1059.9 319.9h0M1135.3 98.9h0M1069.7 270.1h0M1037.7 306.4h0M1424.1 217.6h0M1137.0 142.3h0M1070.2 282.7h0M1136.4 90.2h0M1083.4 296.9h0M1101.2 69.1h0M1170.9 89.1h0M1068.8 265.8h0M1390.4 310.8h0M1137.0 79.5h0M1414.1 216.9h0M1111.1 315.6h0M1135.3 112.9h0M1082.6 305.5h0M1155.7 154.3h0M1080.4 267.0h0M1410.2 323.5h0M1063.0 316.1h0M1027.9 293.5h0M1044.2 303.4h0M1069.0 288.1h0"/><path stroke="#ea4335" d="M1117.2 74.3h0M1080.3 297.5h0M1401.3 347.8h0M1082.1 300.2h0M1053.2 286.7h0M1112.4 42.6h0M1430.8 229.1h0M1110.6 74.6h0M1133.4 146.9h0M1058.2 299.4h0M1086.4 253.7h0M1119.5 101.9h0M1405.1 300.4h0M1094.1 310.8h0M1122.5 299.0h0M1440.5 207.8h0M1126.1 71.5h0M1029.1 286.2h0M1040.0 289.6h0M1374.2 338.9h0M1426.2 195.6h0M1123.2 39.3h0M1434.1 175.3h0M1151.2 106.8h0M1106.6 56.2h0"/><path stroke="#ea4335" d="M1123.6 57.7h0M1441.3 178.7h0M1427.6 221.6h0M1134.0 131.1h0M1118.3 82.8h0M1443.9 199.0h0M1118.2 69.5h0M1400.4 316.3h0M1408.1 299.8h0M1135.2 149.3h0M1135.9 110.7h0M1433.2 240.4h0M1381.9 342.3h0M1142.5 153.3h0M1417.6 327.5h0M1134.6 36.5h0M1397.4 338.9h0M1079.8 269.0h0M1106.6 57.2h0M1142.8 156.6h0M1392.6 323.2h0M1437.6 304.4h0M1128.5 88.9h0M1417.1 304.7h0M1397.0 309.7h0"/><path stroke="#ea4335" d="M1144.1 111.2h0M1112.1 96.5h0M1118.0 72.9h0M1044.8 315.5h0M1407.4 321.9h0M1124.1 57.9h0M1123.0 110.5h0M1142.3 138.7h0M1187.7 71.1h0M1436.0 192.3h0M1405.0 194.9h0M1136.1 76.4h0M1425.0 318.3h0M1116.5 92.8h0M1381.0 332.1h0M1144.1 94.4h0M1415.8 187.0h0M1168.5 92.1h0M1409.9 211.0h0M1032.4 327.3h0M1143.2 73.4h0M1428.1 211.7h0M1085.3 322.7h0M1442.2 225.9h0M1070.6 297.9h0"/><path stroke="#ea4335" d="M1067.6 269.7h0M1397.4 318.0h0M1121.2 101.8h0M1083.6 296.0h0M1421.8 191.1h0M1067.7 269.5h0M1393.1 303.7h0M1422.6 298.9h0M1068.4 310.2h0M1079.7 268.7h0M1021.3 289.8h0M1087.5 282.7h0M1416.8 192.4h0M1128.3 96.1h0M1131.1 97.9h0M1103.0 297.0h0M1129.6 50.7h0M1454.7 205.8h0M1168.2 124.4h0M1159.7 146.8h0M1078.9 328.0h0M1091.0 265.4h0M1448.6 188.9h0M1397.0 188.7h0M1143.0 138.4h0"/><path stroke="#ea4335" d="M1145.5 158.0h0M1022.6 316.7h0M1113.9 53.8h0M1106.4 67.9h0M1424.9 234.8h0M1062.5 308.4h0M1110.9 96.5h0M1417.1 237.4h0M1162.3 126.3h0M1186.8 76.8h0M1092.0 266.2h0M1151.5 154.4h0M1129.2 47.8h0M1151.9 67.2h0M1125.0 94.2h0M1071.5 286.8h0M1413.8 314.4h0M1402.1 312.2h0M1124.7 74.9h0M1397.2 322.7h0M1134.2 75.9h0M1097.3 71.9h0M1035.8 324.5h0M1431.4 177.0h0M1067.8 284.3h0"/><path stroke="#ea4335" d="M1425.4 245.5h0M1105.6 71.0h0M1100.4 312.3h0M1094.2 310.9h0M1186.6 48.8h0M1129.9 69.6h0M1088.9 255.6h0M1080.9 303.3h0M1176.6 53.7h0M1383.9 336.5h0M1084.9 302.8h0M1104.0 65.7h0M1128.7 93.2h0M1113.4 259.0h0M1112.8 74.4h0M1408.7 178.1h0M1141.3 76.7h0M1070.5 254.3h0M1134.7 154.8h0M1048.1 288.1h0M1110.8 54.7h0M1131.6 76.2h0M1187.9 45.2h0M1416.0 298.1h0M1076.1 266.6h0"/><path stroke="#ea4335" d="M1428.3 263.7h0M1427.1 203.9h0M1139.8 111.7h0M1406.4 299.0h0M1416.8 191.3h0M1070.8 250.0h0M1426.2 216.9h0M1128.2 98.4h0M1014.4 308.4h0M1183.7 55.6h0M1431.0 285.2h0M1397.0 329.7h0M1041.4 300.5h0M1435.5 173.3h0M1084.1 251.1h0M1125.9 96.7h0M1140.9 135.3h0M1425.9 206.4h0M1137.0 78.9h0M1129.3 71.5h0M1125.2 91.3h0M1088.6 305.8h0M1412.2 220.6h0M1441.5 235.8h0M1133.1 61.2h0"/><path stroke="#ea4335" d="M1107.9 97.5h0M1098.3 301.3h0M1430.8 236.9h0M1416.3 241.0h0M1091.7 248.5h0M1093.9 293.1h0M1048.6 329.3h0M1071.7 289.2h0M1133.0 42.3h0M1394.3 316.3h0M1156.0 141.1h0M1395.9 310.3h0M1065.5 276.4h0M1409.2 305.5h0M1098.1 60.1h0M1018.8 299.6h0M1403.4 305.6h0M1088.1 262.4h0M1097.8 321.8h0M1100.5 71.3h0M1439.7 212.3h0M1426.6 201.5h0M1057.7 324.2h0M1073.8 282.3h0M1062.3 278.8h0"/><path stroke="#ea4335" d="M1083.0 294.0h0M1042.0 325.7h0M1097.6 62.6h0M1088.4 287.1h0M1149.6 152.9h0M1017.6 303.7h0M1113.5 101.9h0M1041.3 326.8h0M1018.8 285.7h0M1415.9 241.1h0M1143.9 83.9h0M1424.2 207.3h0M1397.4 313.9h0M1148.4 128.8h0M1148.0 116.4h0M1390.0 316.6h0M1154.3 142.2h0"/></g></g><rect x="983.5" y="20.2" width="503.29999999999995" height="370.2" fill="none" stroke="#1c1c1c" stroke-width="2.2"/><line x1="1083.5" y1="391.4" x2="1083.5" y2="394.4" stroke="#ccc" stroke-width="1"/><text x="1083.5" y="425.7" text-anchor="middle" class="tk">−20</text><line x1="1225.5" y1="391.4" x2="1225.5" y2="394.4" stroke="#ccc" stroke-width="1"/><text x="1225.5" y="425.7" text-anchor="middle" class="tk">0</text><line x1="1367.5" y1="391.4" x2="1367.5" y2="394.4" stroke="#ccc" stroke-width="1"/><text x="1367.5" y="425.7" text-anchor="middle" class="tk">20</text><line x1="979.5" y1="43.4" x2="982.5" y2="43.4" stroke="#ccc" stroke-width="1"/><text x="968.8" y="53.9" text-anchor="end" class="tk">30</text><line x1="979.5" y1="104.3" x2="982.5" y2="104.3" stroke="#ccc" stroke-width="1"/><text x="968.8" y="114.8" text-anchor="end" class="tk">20</text><line x1="979.5" y1="165.1" x2="982.5" y2="165.1" stroke="#ccc" stroke-width="1"/><text x="968.8" y="175.6" text-anchor="end" class="tk">10</text><line x1="979.5" y1="226.0" x2="982.5" y2="226.0" stroke="#ccc" stroke-width="1"/><text x="968.8" y="236.5" text-anchor="end" class="tk">0</text><line x1="979.5" y1="286.9" x2="982.5" y2="286.9" stroke="#ccc" stroke-width="1"/><text x="968.8" y="297.4" text-anchor="end" class="tk">−10</text><line x1="979.5" y1="347.7" x2="982.5" y2="347.7" stroke="#ccc" stroke-width="1"/><text x="968.8" y="358.2" text-anchor="end" class="tk">−20</text><text x="1235.15" y="463.2" text-anchor="middle" class="t29">tSNE 1</text><text transform="translate(910.9,207.29999999999998) rotate(-90)" text-anchor="middle" class="t29">tSNE 2</text><text x="886" y="31" class="pl">b</text><g class="pc"><g clip-path="url(#cc)" fill="none" stroke-linecap="round" stroke-width="6.2" stroke-opacity="0.8"><path stroke="#ffffb3" d="M174.5 623.4h0M266.6 584.4h0M251.1 584.7h0M140.8 557.8h0M217.2 581.0h0M171.9 629.9h0M131.7 618.6h0M242.8 552.4h0M173.4 565.5h0M261.6 560.6h0M172.5 652.5h0M255.1 549.2h0M140.5 572.1h0M162.6 647.3h0M206.2 568.3h0M194.7 584.8h0M153.8 571.1h0M236.4 585.3h0M140.0 571.4h0M220.3 571.5h0M260.3 588.8h0M153.2 587.3h0M242.2 584.9h0M146.8 609.3h0M173.7 547.1h0"/><path stroke="#8dd3c7" d="M492.5 655.4h0M438.2 665.5h0M479.2 717.6h0M468.5 681.0h0M447.6 689.9h0M513.9 717.0h0M442.1 702.2h0M453.9 695.7h0M273.2 607.3h0M496.6 723.4h0M434.9 656.4h0M383.5 689.5h0M413.8 683.8h0M399.4 688.9h0M488.7 730.1h0M508.3 678.8h0M443.9 678.3h0M403.2 670.8h0M521.6 671.1h0M482.7 707.2h0M492.7 685.0h0M447.1 727.5h0M557.4 680.5h0M495.6 730.9h0M534.0 726.9h0"/><path stroke="#bebada" d="M172.3 840.6h0M212.8 840.1h0M173.7 762.0h0M210.7 848.1h0M252.5 785.8h0M176.3 782.4h0M237.7 811.5h0M178.3 761.0h0M291.1 809.3h0M235.7 852.2h0M152.6 773.4h0M172.4 779.1h0M222.9 778.7h0M180.9 811.4h0M261.0 836.9h0M167.4 777.0h0M198.1 799.6h0M163.5 781.0h0M276.7 842.4h0M192.9 813.8h0M223.0 839.1h0M279.6 802.4h0M171.8 781.7h0M268.2 846.3h0M238.1 814.0h0"/><path stroke="#ffffb3" d="M171.0 592.0h0M177.1 578.3h0M236.0 585.4h0M136.0 642.0h0M243.0 592.1h0M138.1 604.9h0M148.5 585.8h0M158.5 621.3h0M178.1 637.1h0M138.0 627.1h0M161.3 613.0h0M136.9 622.1h0M185.9 630.6h0M215.4 576.2h0M185.5 593.8h0M155.8 568.2h0M150.6 587.5h0M285.4 569.8h0M215.9 535.6h0M177.7 555.2h0M131.4 612.8h0M145.5 565.9h0M225.6 594.9h0M162.4 592.7h0M252.0 579.2h0"/><path stroke="#8dd3c7" d="M490.0 706.0h0M565.4 706.8h0M471.9 681.7h0M566.4 702.5h0M433.4 704.8h0M533.6 661.1h0M420.4 694.7h0M469.7 640.0h0M494.4 716.4h0M456.0 655.6h0M500.1 648.9h0M417.0 683.9h0M502.3 663.4h0M482.4 669.4h0M385.3 674.8h0M379.6 683.8h0M398.1 696.6h0M420.1 724.0h0M413.8 706.2h0M457.9 732.6h0M396.7 692.6h0M511.6 732.0h0M459.4 647.1h0M485.7 710.5h0M478.0 667.8h0"/><path stroke="#bebada" d="M240.6 842.3h0M240.5 767.3h0M167.7 759.4h0M235.0 815.1h0M264.5 824.7h0M209.0 860.0h0M262.5 813.1h0M251.8 808.7h0M233.2 826.5h0M215.6 818.1h0M174.1 750.7h0M245.3 863.8h0M219.4 814.0h0M167.7 783.7h0M257.8 787.7h0M170.9 776.1h0M232.8 783.5h0M195.7 838.9h0M167.0 762.4h0M194.0 832.7h0M230.1 781.0h0M209.9 765.4h0M190.9 820.3h0M207.6 748.5h0M237.8 767.9h0"/><path stroke="#ffffb3" d="M232.7 561.4h0M197.6 587.0h0M267.3 549.9h0M178.0 619.9h0M286.6 557.4h0M123.2 622.7h0M159.3 654.1h0M275.4 578.1h0M274.0 568.0h0M174.1 636.6h0M245.1 593.6h0M246.3 552.4h0M130.8 636.8h0M197.4 613.1h0M154.8 588.3h0M268.4 592.0h0M188.4 589.7h0M170.2 557.6h0M229.7 564.9h0M174.4 575.3h0M188.8 610.5h0M221.4 553.6h0M192.6 540.0h0M266.0 568.3h0M146.8 597.2h0"/><path stroke="#8dd3c7" d="M419.0 685.4h0M485.4 669.7h0M521.1 680.9h0M412.0 697.8h0M488.4 647.7h0M490.6 684.8h0M329.3 642.4h0M458.4 728.5h0M504.0 723.7h0M542.2 726.4h0M498.9 703.9h0M514.5 741.7h0M441.6 648.8h0M513.9 719.8h0M389.3 685.7h0M502.7 704.4h0M491.6 664.9h0M545.3 682.2h0M459.9 703.7h0M555.2 705.9h0M459.8 640.6h0M496.6 673.6h0M462.5 702.4h0M499.5 683.1h0M475.5 703.9h0"/><path stroke="#bebada" d="M223.1 835.1h0M216.2 787.9h0M265.5 842.9h0M184.7 782.9h0M232.5 765.9h0M168.5 763.8h0M187.7 853.5h0M255.5 843.3h0M218.6 846.9h0M225.5 828.8h0M245.0 824.2h0M173.3 773.1h0M268.6 854.0h0M232.1 778.1h0M249.4 784.3h0M165.1 795.1h0M260.0 797.8h0M203.1 820.8h0M213.2 807.2h0M266.1 792.2h0M200.7 739.2h0M259.8 813.8h0M214.3 771.4h0M176.6 767.8h0M217.5 833.7h0"/><path stroke="#ffffb3" d="M271.3 584.8h0M242.7 542.0h0M256.9 565.2h0M141.2 627.2h0M207.9 568.8h0M164.3 565.4h0M143.5 557.8h0M271.3 592.5h0M259.4 564.8h0M196.0 572.3h0M169.6 649.2h0M253.1 587.8h0M204.4 613.5h0M193.6 588.8h0M171.5 625.4h0M234.7 538.0h0M261.5 577.6h0M184.3 542.4h0M241.7 596.7h0M174.4 563.5h0M201.3 556.3h0M218.8 543.0h0M152.9 581.1h0M275.7 559.9h0M254.4 584.5h0"/><path stroke="#8dd3c7" d="M422.4 701.8h0M396.8 674.7h0M466.6 685.2h0M491.2 727.2h0M436.1 669.3h0M540.5 716.3h0M453.1 673.4h0M539.5 692.5h0M443.3 705.3h0M509.5 680.2h0M526.8 704.0h0M483.9 708.1h0M505.4 738.0h0M505.8 725.5h0M402.9 692.8h0M440.4 701.4h0M398.7 698.8h0M485.6 670.3h0M432.9 642.1h0M489.1 697.2h0M412.4 695.4h0M523.5 671.2h0M541.3 723.1h0M410.7 698.3h0M474.7 668.7h0"/><path stroke="#bebada" d="M242.3 779.4h0M236.9 852.1h0M176.3 791.6h0M280.4 818.9h0M228.9 848.1h0M276.3 838.6h0M210.0 857.0h0M264.6 780.6h0M274.3 848.1h0M246.0 843.1h0M284.1 812.7h0M246.7 804.2h0M191.4 753.4h0M204.1 804.8h0M211.2 744.4h0M210.7 852.2h0M230.2 781.4h0M276.2 842.1h0M175.4 764.9h0M271.9 846.4h0M180.2 817.7h0M198.5 794.8h0M236.9 767.3h0M224.8 788.1h0M213.5 859.4h0"/><path stroke="#ffffb3" d="M240.0 580.5h0M135.3 642.1h0M352.0 655.2h0M267.5 570.5h0M128.8 619.5h0M171.8 540.5h0M179.6 563.8h0M156.7 649.9h0M188.4 580.6h0M167.5 616.8h0M185.9 553.2h0M134.3 635.7h0M182.8 576.8h0M168.4 633.8h0M215.0 539.2h0M153.0 586.1h0M239.8 539.0h0M246.8 588.3h0M186.5 571.4h0M209.7 592.5h0M152.8 556.3h0M249.4 538.6h0M254.9 554.0h0M221.4 553.9h0M141.2 610.1h0"/><path stroke="#8dd3c7" d="M512.7 663.6h0M509.6 734.5h0M519.3 652.8h0M527.6 701.7h0M559.1 681.1h0M479.7 707.0h0M445.0 725.5h0M451.3 653.7h0M467.0 643.2h0M436.2 725.1h0M481.4 693.0h0M491.2 678.6h0M538.8 720.4h0M429.1 671.5h0M411.1 672.4h0M482.3 712.2h0M501.0 716.5h0M537.8 713.8h0M532.9 726.9h0M506.4 689.7h0M435.2 649.5h0M499.4 723.1h0M457.9 736.4h0M339.3 649.7h0M384.1 686.2h0"/><path stroke="#bebada" d="M217.5 837.7h0M166.8 810.2h0M205.7 780.0h0M262.6 856.5h0M274.4 810.0h0M194.0 756.6h0M193.4 822.3h0M171.6 767.7h0M202.9 842.1h0M157.5 798.3h0M262.6 793.7h0M256.3 852.0h0M247.8 799.7h0M170.8 832.7h0M204.2 845.5h0M155.1 795.2h0M202.1 767.0h0M180.9 846.1h0M203.8 846.9h0M191.0 814.5h0M171.1 801.5h0M267.2 850.6h0M208.6 835.2h0M233.2 760.4h0M227.2 763.4h0"/><path stroke="#ffffb3" d="M166.1 583.4h0M188.4 617.8h0M272.8 560.5h0M229.1 604.0h0M169.5 590.4h0M236.2 540.6h0M144.2 576.3h0M160.1 547.0h0M190.6 649.0h0M247.7 546.9h0M134.6 615.2h0M172.8 575.5h0M256.7 579.2h0M149.8 579.9h0M127.5 616.2h0M321.2 651.5h0M190.5 549.6h0M204.0 580.3h0M269.2 569.2h0M154.3 599.1h0M162.2 578.8h0M282.2 592.5h0M205.2 577.6h0M199.7 570.8h0M174.0 588.7h0"/><path stroke="#8dd3c7" d="M494.0 672.9h0M531.3 728.5h0M518.8 701.8h0M411.4 669.7h0M448.0 699.8h0M464.7 675.2h0M478.5 705.8h0M472.4 716.4h0M552.9 727.4h0M452.2 655.7h0M412.9 706.0h0M498.8 736.9h0M450.9 728.2h0M431.3 647.5h0M447.9 724.6h0M275.3 608.5h0M410.9 661.6h0M500.8 738.9h0M413.5 703.1h0M467.8 688.2h0M537.1 691.4h0M467.7 650.5h0M399.4 716.0h0M427.5 679.8h0M515.1 680.8h0"/><path stroke="#bebada" d="M236.8 835.2h0M212.9 829.7h0M188.3 841.4h0M181.0 787.2h0M209.8 860.8h0M239.2 778.7h0M177.4 780.9h0M199.3 847.5h0M276.2 832.4h0M266.9 809.3h0M234.8 799.0h0M228.2 855.7h0M232.5 859.6h0M216.5 836.2h0M234.5 834.5h0M230.3 848.5h0M213.0 839.1h0M208.8 753.1h0M247.4 821.9h0M179.2 780.2h0M173.5 835.3h0M172.3 780.3h0M241.8 803.3h0M185.6 843.3h0M265.1 838.0h0"/><path stroke="#ffffb3" d="M200.9 546.8h0M177.9 638.6h0M150.1 583.1h0M171.1 574.2h0M192.5 546.2h0M175.9 588.5h0M151.2 592.0h0M165.3 616.3h0M215.0 549.2h0M246.5 547.9h0M242.7 585.0h0M215.2 598.6h0M176.7 580.3h0M201.9 543.5h0M190.4 581.4h0M147.3 552.4h0M173.3 633.7h0M129.8 617.8h0M243.5 591.0h0M229.4 562.3h0M256.0 554.9h0M157.2 589.2h0M165.9 567.1h0M174.7 555.0h0M136.1 639.5h0"/><path stroke="#8dd3c7" d="M436.5 670.1h0M469.8 647.5h0M417.6 673.1h0M428.1 728.7h0M473.0 709.9h0M420.6 649.3h0M461.6 728.5h0M445.1 702.4h0M402.1 661.2h0M398.6 712.5h0M408.1 694.7h0M453.0 723.5h0M499.3 703.0h0M508.8 738.7h0M521.3 690.4h0M543.7 670.4h0M478.9 708.1h0M525.7 667.9h0M492.9 738.3h0M411.4 691.4h0M527.3 692.2h0M444.9 710.4h0M488.7 722.2h0M525.8 688.1h0M427.5 649.8h0"/><path stroke="#bebada" d="M270.7 788.3h0M250.3 764.7h0M263.4 791.2h0M194.6 755.8h0M178.9 784.6h0M194.7 756.9h0M177.7 797.6h0M271.3 847.4h0M252.8 799.6h0M228.7 814.8h0M218.6 770.5h0M208.0 764.8h0M259.4 808.0h0M271.5 835.1h0M253.9 770.8h0M234.3 810.0h0M186.1 767.0h0M281.8 798.9h0M177.0 815.3h0M227.5 828.7h0M271.2 851.5h0M255.4 803.2h0M173.1 795.3h0M277.7 848.8h0M189.7 750.1h0"/><path stroke="#ffffb3" d="M167.8 615.0h0M175.9 618.3h0M136.5 604.6h0M132.1 610.9h0M284.6 565.5h0M198.3 604.3h0M140.6 612.0h0M148.9 562.5h0M206.0 563.3h0M223.5 577.1h0M198.4 558.6h0M217.5 553.9h0M150.0 589.6h0M275.5 592.0h0M178.1 567.4h0M179.8 589.1h0M218.1 574.5h0M188.1 629.2h0M171.2 587.5h0M258.9 568.9h0M199.1 571.8h0M199.6 606.6h0M234.1 586.0h0M234.4 582.7h0M181.5 571.2h0"/><path stroke="#8dd3c7" d="M499.0 706.3h0M503.8 673.7h0M473.2 688.7h0M524.0 676.4h0M551.9 678.9h0M445.2 667.2h0M460.8 638.5h0M494.6 720.9h0M478.3 731.9h0M396.8 703.0h0M532.1 686.6h0M543.6 714.0h0M520.3 644.4h0M476.3 706.8h0M441.4 650.7h0M423.9 665.5h0M556.0 683.6h0M491.1 696.7h0M525.2 689.6h0M394.3 677.5h0M520.6 681.2h0M507.5 661.4h0M467.3 690.1h0M515.0 720.5h0M446.5 645.1h0"/><path stroke="#bebada" d="M229.3 781.3h0M159.4 772.0h0M262.8 833.4h0M167.6 812.4h0M196.5 748.1h0M179.1 828.8h0M236.8 846.7h0M267.2 780.7h0M229.0 782.8h0M221.8 814.6h0M230.1 758.0h0M227.6 792.1h0M202.2 784.6h0M185.6 821.1h0M187.3 852.6h0M192.3 781.5h0M218.2 859.5h0M224.1 770.4h0M160.2 765.0h0M285.7 824.8h0M178.1 770.0h0M194.1 855.5h0M273.4 821.0h0M199.9 818.4h0M187.9 775.9h0"/><path stroke="#ffffb3" d="M238.9 561.1h0M275.5 550.9h0M262.2 574.5h0M197.9 598.5h0M148.1 596.7h0M261.5 545.8h0M232.0 591.7h0M214.0 605.7h0M174.8 553.3h0M149.7 611.5h0M162.9 636.0h0M238.6 579.3h0M163.8 613.3h0M197.9 610.1h0M173.3 650.5h0M275.0 548.8h0M257.3 547.3h0M159.3 618.1h0M175.9 575.7h0M255.1 595.5h0M183.8 637.7h0M237.8 593.5h0M175.6 538.9h0M254.2 544.4h0M249.3 538.5h0"/><path stroke="#8dd3c7" d="M470.2 696.3h0M493.6 654.9h0M504.4 712.0h0M511.9 655.1h0M503.7 718.9h0M468.4 689.9h0M429.2 673.5h0M437.4 691.7h0M492.8 666.8h0M495.2 734.4h0M464.2 664.4h0M464.8 645.6h0M530.7 702.2h0M438.9 644.7h0M514.6 679.7h0M445.6 648.2h0M481.2 666.3h0M508.3 684.5h0M399.3 675.4h0M520.7 643.0h0M526.9 685.8h0M481.2 717.3h0M435.1 706.2h0M458.1 654.9h0M506.5 659.7h0"/><path stroke="#bebada" d="M251.5 823.2h0M235.3 812.5h0M201.1 752.7h0M207.6 770.0h0M186.0 785.8h0M188.7 782.4h0M187.7 756.0h0M251.5 807.9h0M239.1 809.0h0M203.8 742.5h0M218.3 766.7h0M222.1 796.5h0M250.0 765.6h0M223.3 814.0h0M212.3 850.1h0M227.7 792.6h0M201.6 816.9h0M240.6 856.0h0M168.5 834.4h0M263.6 802.8h0M232.9 839.0h0M185.2 833.8h0M254.9 829.3h0M263.6 827.4h0M235.1 779.5h0"/><path stroke="#ffffb3" d="M160.7 568.9h0M148.6 568.3h0M220.3 574.9h0M144.4 593.8h0M252.2 541.5h0M259.9 595.4h0M173.7 637.0h0M146.4 608.7h0M187.4 550.3h0M165.5 564.8h0M248.2 586.5h0M233.3 550.1h0M172.8 616.7h0M277.6 557.0h0M329.3 650.2h0M173.8 636.1h0M170.9 608.0h0M173.3 546.0h0M175.5 565.9h0M138.6 600.1h0M285.8 562.4h0M277.6 559.7h0M173.7 574.6h0M185.6 551.3h0M162.9 615.6h0"/><path stroke="#8dd3c7" d="M464.2 726.0h0M437.9 663.7h0M416.6 704.7h0M515.6 676.4h0M493.5 693.0h0M560.1 686.2h0M444.2 721.1h0M396.9 672.5h0M528.8 697.2h0M359.3 658.8h0M483.0 650.8h0M521.7 734.7h0M385.0 681.5h0M536.8 667.5h0M379.4 689.9h0M540.8 706.7h0M564.1 690.8h0M478.1 740.0h0M416.8 719.1h0M500.4 704.5h0M465.1 734.0h0M485.1 722.6h0M403.5 696.3h0M534.9 726.8h0M497.7 731.1h0"/><path stroke="#bebada" d="M208.9 767.7h0M241.5 814.9h0M176.5 766.7h0M250.0 807.4h0M219.6 800.6h0M173.4 793.0h0M254.8 855.2h0M177.0 773.2h0M250.7 788.6h0M228.3 765.8h0M263.3 825.0h0M285.0 822.7h0M231.9 813.4h0M231.3 788.1h0M217.1 862.2h0M218.3 788.9h0M207.5 739.8h0M235.0 811.8h0M197.9 748.9h0M194.1 842.4h0M252.4 836.9h0M244.8 817.1h0M235.7 826.7h0M189.0 748.3h0M229.2 766.9h0"/><path stroke="#ffffb3" d="M218.6 554.7h0M173.1 647.0h0M186.2 606.6h0M139.6 609.1h0M169.9 630.3h0M128.8 606.7h0M260.5 570.0h0M187.4 649.5h0M262.6 591.8h0M140.4 607.0h0M147.5 559.5h0M282.9 551.5h0M248.5 547.0h0M210.8 603.1h0M155.1 626.8h0M240.0 554.3h0M146.7 572.8h0M167.4 632.7h0M266.6 586.6h0M274.1 570.2h0M236.3 537.8h0M220.0 604.1h0M223.5 607.8h0M198.5 604.5h0M137.7 611.4h0"/><path stroke="#8dd3c7" d="M454.4 725.8h0M491.2 724.9h0M401.5 671.5h0M492.6 721.8h0M479.4 718.9h0M510.4 659.8h0M475.2 733.2h0M396.4 715.4h0M391.3 710.6h0M443.9 700.8h0M531.0 661.1h0M467.6 703.3h0M448.7 652.3h0M498.1 729.8h0M520.7 718.7h0M438.3 645.7h0M440.3 642.8h0M511.4 669.2h0M491.5 716.5h0M463.9 709.0h0M531.3 708.2h0M407.2 722.1h0M461.2 738.3h0M418.3 676.0h0M499.9 690.7h0"/><path stroke="#bebada" d="M160.8 783.5h0M257.5 815.8h0M179.1 849.8h0M251.0 825.7h0M207.6 856.4h0M220.1 776.1h0M172.3 783.7h0M226.0 747.0h0M253.8 806.9h0M229.7 750.5h0M266.5 850.4h0M239.4 852.0h0M208.3 827.0h0M182.4 782.8h0M239.0 845.0h0M165.1 808.2h0M215.4 816.2h0M155.6 785.6h0M185.9 782.6h0M258.2 811.1h0M156.1 800.7h0M269.1 798.7h0M210.0 773.1h0M202.1 808.5h0M176.3 814.1h0"/><path stroke="#ffffb3" d="M198.5 577.7h0M368.4 661.6h0M180.9 616.2h0M272.5 568.2h0M262.0 546.9h0M199.5 587.6h0M204.0 587.2h0M123.9 623.0h0M168.2 640.5h0M157.4 597.0h0M233.0 544.4h0M168.2 626.6h0M267.3 573.0h0M203.5 585.1h0M197.1 566.3h0M210.7 599.4h0M218.4 592.2h0M161.4 634.8h0M195.6 641.6h0M258.7 562.7h0M202.7 552.3h0M183.4 612.9h0M247.3 549.1h0M146.7 611.3h0M128.2 622.4h0"/><path stroke="#8dd3c7" d="M533.2 710.6h0M511.8 660.7h0M497.2 659.5h0M528.5 667.4h0M483.2 703.3h0M459.0 653.8h0M399.9 683.3h0M419.8 653.8h0M505.0 730.8h0M536.9 661.6h0M441.3 640.3h0M495.1 666.1h0M396.3 681.9h0M450.5 665.6h0M512.7 711.8h0M531.1 708.1h0M413.3 684.1h0M517.9 691.2h0M495.8 717.0h0M444.2 670.5h0M530.5 697.2h0M452.2 677.5h0M405.3 688.4h0M472.4 687.5h0M380.3 688.3h0"/><path stroke="#bebada" d="M194.9 845.4h0M176.9 774.7h0M281.2 828.8h0M208.1 768.5h0M277.5 836.2h0M177.9 802.9h0M200.4 811.8h0M251.8 788.4h0M202.1 780.3h0M203.2 751.3h0M267.6 845.2h0M268.7 788.2h0M217.4 793.9h0M249.5 804.4h0M246.7 851.2h0M259.7 841.0h0M274.6 848.2h0M194.0 827.4h0M228.9 853.9h0M209.8 769.6h0M222.2 816.7h0M186.3 813.3h0M212.5 752.1h0M228.7 812.3h0M271.3 823.4h0"/><path stroke="#ffffb3" d="M205.4 545.0h0M251.9 570.8h0M254.6 579.0h0M237.2 537.0h0M206.5 560.8h0M233.8 548.3h0M211.7 574.8h0M138.6 625.9h0M167.6 601.3h0M289.3 590.0h0M119.1 617.1h0M230.3 549.5h0M220.9 555.4h0M242.9 547.9h0M177.9 591.0h0M148.9 619.7h0M157.6 559.4h0M200.6 554.7h0M191.0 611.0h0M188.6 586.4h0M167.6 650.6h0M187.6 598.7h0M252.3 583.7h0M253.7 565.1h0M147.1 605.6h0"/><path stroke="#8dd3c7" d="M444.5 724.8h0M508.0 725.5h0M540.7 691.0h0M404.8 709.8h0M560.9 683.4h0M535.4 692.7h0M545.7 678.4h0M539.9 685.3h0M421.6 707.1h0M550.4 726.3h0M421.8 677.0h0M457.2 655.6h0M456.1 683.4h0M536.9 674.2h0M531.8 703.7h0M558.4 719.2h0M521.1 725.5h0M495.5 714.1h0M400.3 692.7h0M456.4 659.0h0M535.0 723.7h0M538.4 691.8h0M558.3 710.8h0M558.9 679.0h0M403.5 677.4h0"/><path stroke="#bebada" d="M184.5 761.5h0M262.0 787.6h0M254.8 798.1h0M234.9 819.3h0M212.4 804.7h0M239.4 818.5h0M230.6 760.3h0M256.8 811.3h0M173.3 766.7h0M235.2 782.3h0M168.3 837.2h0M214.6 844.0h0M211.5 771.1h0M209.2 848.5h0M215.2 835.7h0M183.5 749.8h0M249.3 761.2h0M166.8 780.5h0M174.4 802.5h0M257.5 846.8h0M219.0 755.5h0M226.0 802.7h0M235.6 850.5h0M188.7 805.9h0M254.9 838.2h0"/><path stroke="#ffffb3" d="M132.7 613.4h0M260.7 573.6h0M205.9 567.9h0M162.3 574.1h0M287.4 570.2h0M224.7 541.3h0M170.6 646.8h0M165.9 626.2h0M229.5 537.0h0M181.9 647.8h0M255.8 579.0h0M244.3 544.4h0M229.7 602.9h0M182.3 550.5h0M205.3 580.0h0M219.9 579.3h0M270.5 584.9h0M161.2 619.4h0M187.8 549.5h0M186.3 620.4h0M300.1 579.9h0M138.6 614.0h0M228.4 547.2h0M181.0 646.1h0M149.5 636.9h0"/><path stroke="#8dd3c7" d="M521.0 696.2h0M496.4 710.8h0M518.3 685.6h0M496.7 704.3h0M470.2 674.6h0M518.7 737.9h0M343.4 650.4h0M535.2 710.9h0M516.0 663.5h0M502.7 674.1h0M533.5 665.0h0M402.6 685.0h0M411.0 702.1h0M457.0 712.0h0M510.1 700.0h0M392.4 669.3h0M480.8 641.3h0M436.7 666.9h0M425.9 677.5h0M497.9 695.4h0M512.2 742.9h0M520.6 688.8h0M529.7 665.6h0M418.9 666.7h0M399.9 680.0h0"/><path stroke="#bebada" d="M214.1 854.7h0M181.6 765.9h0M193.5 830.7h0M175.1 765.8h0M266.0 835.5h0M174.4 819.4h0M227.0 803.4h0M210.5 789.2h0M254.6 809.6h0M181.5 786.0h0M257.1 827.5h0M207.9 855.9h0M272.4 828.7h0M233.7 848.3h0M226.2 823.6h0M235.6 769.3h0M211.7 764.8h0M227.5 777.4h0M217.1 760.4h0M176.4 807.2h0M210.6 768.8h0M163.8 770.6h0M201.2 753.6h0M246.1 796.5h0M220.4 774.4h0"/><path stroke="#ffffb3" d="M143.3 553.5h0M257.3 595.4h0M151.9 596.0h0M213.3 539.2h0M134.4 615.9h0M167.6 600.6h0M266.9 567.1h0M181.3 606.3h0M141.3 627.9h0M284.1 559.1h0M171.5 542.2h0M171.9 592.0h0M181.7 635.0h0M194.3 550.4h0M239.5 537.2h0M178.8 631.9h0M173.9 598.6h0M189.7 611.6h0M230.5 593.6h0M136.3 627.4h0M166.3 591.2h0M216.7 549.8h0M194.2 562.1h0M267.1 552.4h0M196.3 588.4h0"/><path stroke="#8dd3c7" d="M451.6 682.6h0M481.3 649.6h0M474.3 685.5h0M403.3 675.1h0M509.4 658.6h0M453.9 697.3h0M480.3 677.4h0M446.4 700.6h0M522.5 719.4h0M542.1 721.2h0M559.7 680.2h0M422.2 694.6h0M391.2 694.6h0M444.3 656.2h0M478.3 733.4h0M488.3 715.9h0M419.3 673.5h0M469.2 668.0h0M472.4 688.6h0M378.7 685.1h0M408.8 709.9h0M451.0 656.7h0M420.9 708.3h0M411.8 667.2h0M536.2 725.8h0"/><path stroke="#bebada" d="M194.5 815.8h0M188.5 789.2h0M213.1 749.3h0M171.6 789.8h0M162.8 801.9h0M231.6 780.0h0M196.3 761.8h0M183.6 819.9h0M230.3 775.5h0M189.5 776.8h0M226.8 832.3h0M249.5 783.6h0M177.5 829.2h0M167.2 814.9h0M182.4 848.6h0M214.0 769.6h0M182.2 833.9h0M242.3 787.2h0M196.0 752.0h0M217.1 828.5h0M224.5 842.9h0M239.9 807.2h0M191.6 838.9h0M163.0 809.9h0M190.0 823.8h0"/><path stroke="#ffffb3" d="M139.8 571.2h0M243.9 548.4h0M189.9 548.8h0M130.4 617.9h0M186.4 556.0h0M173.5 589.1h0M355.1 656.3h0M270.9 587.6h0M189.8 568.8h0M201.3 569.1h0M199.3 551.5h0M229.8 540.8h0M205.5 545.4h0M200.8 613.6h0M168.4 551.8h0M189.1 593.7h0M193.3 550.4h0M233.1 576.0h0M239.1 586.3h0M250.9 588.2h0M274.3 570.4h0M191.8 559.4h0M165.5 577.0h0M207.8 601.0h0M244.7 574.9h0"/><path stroke="#8dd3c7" d="M534.9 711.0h0M464.3 707.0h0M508.7 721.6h0M493.5 696.1h0M526.9 687.2h0M414.9 728.6h0M392.9 705.3h0M500.1 669.5h0M453.4 681.3h0M465.2 709.3h0M509.9 740.5h0M519.7 685.5h0M432.8 672.1h0M454.7 655.8h0M570.0 706.8h0M490.3 685.7h0M448.6 669.0h0M494.6 689.8h0M438.1 646.5h0M463.2 733.1h0M464.8 641.3h0M461.3 645.5h0M520.0 693.5h0M427.6 711.2h0M488.7 675.0h0"/><path stroke="#bebada" d="M228.5 848.4h0M254.5 847.4h0M186.9 818.6h0M232.2 816.6h0M245.7 802.5h0M165.1 813.9h0M232.3 795.2h0M188.2 773.8h0M258.6 851.7h0M241.1 778.9h0M231.4 830.3h0M226.4 850.0h0M241.5 845.2h0M225.2 751.5h0M255.9 811.3h0M255.7 808.4h0M256.6 814.1h0M187.7 839.3h0M234.3 860.2h0M262.4 811.2h0M187.9 820.7h0M211.9 855.4h0M246.3 776.6h0M244.9 857.8h0M275.4 806.2h0"/><path stroke="#ffffb3" d="M169.5 636.1h0M229.9 544.3h0M193.9 550.8h0M290.0 573.2h0M218.9 546.6h0M234.4 542.6h0M132.5 613.4h0M282.2 587.3h0M211.4 573.8h0M196.9 584.3h0M163.4 603.5h0M178.3 634.8h0M187.3 592.1h0M250.1 539.7h0M191.0 553.2h0M134.9 607.5h0M251.5 549.3h0M170.9 593.1h0M191.3 554.8h0M207.9 576.7h0M193.6 598.8h0M257.6 581.6h0M245.7 594.4h0M259.4 596.4h0M152.2 651.7h0"/><path stroke="#8dd3c7" d="M468.4 675.8h0M503.5 722.0h0M389.0 708.8h0M522.2 651.0h0M558.0 679.8h0M436.3 646.8h0M541.3 720.8h0M447.6 655.7h0M492.8 729.5h0M537.8 715.7h0M511.4 647.8h0M406.6 667.6h0M463.7 695.5h0M394.6 703.0h0M466.9 675.4h0M415.2 705.5h0M438.8 663.5h0M512.5 659.3h0M407.3 671.6h0M539.4 669.6h0M449.5 707.5h0M444.6 659.5h0M470.8 701.5h0M445.1 688.8h0M450.7 654.0h0"/><path stroke="#bebada" d="M175.6 826.9h0M195.6 751.3h0M278.7 829.0h0M177.1 814.7h0M205.5 747.4h0M207.5 831.3h0M201.0 842.4h0M225.8 826.1h0M251.1 777.1h0M180.7 827.8h0M255.8 790.4h0M182.6 804.6h0M226.7 863.5h0M246.0 826.3h0M190.8 778.9h0M174.8 837.7h0M209.5 831.7h0M169.9 806.6h0M219.0 766.8h0M178.6 820.7h0M180.0 817.0h0M253.0 773.6h0M270.7 789.0h0M222.7 854.6h0M226.8 851.2h0"/><path stroke="#ffffb3" d="M245.3 597.7h0M268.7 586.6h0M256.7 581.9h0M190.2 611.9h0M146.1 629.9h0M217.1 542.9h0M286.9 590.6h0M197.0 571.7h0M162.9 645.2h0M146.3 637.9h0M177.4 592.6h0M271.7 550.0h0M165.5 571.1h0M209.3 603.8h0M191.8 629.6h0M201.1 591.4h0M232.1 576.3h0M140.5 615.9h0M261.5 552.4h0M264.5 563.2h0M122.9 628.5h0M194.7 573.6h0M139.9 636.2h0M164.2 543.1h0M190.7 546.1h0"/><path stroke="#8dd3c7" d="M540.1 712.3h0M421.7 643.5h0M506.2 714.7h0M461.1 639.0h0M385.4 703.9h0M401.6 683.5h0M475.2 643.4h0M543.2 713.3h0M436.9 651.4h0M498.2 648.0h0M509.2 720.3h0M542.0 713.6h0M445.3 640.7h0M522.2 685.5h0M457.1 701.5h0M569.6 704.9h0M396.5 715.3h0M537.3 688.9h0M443.0 670.5h0M547.0 716.9h0M456.4 641.9h0M481.7 715.3h0M559.1 678.9h0M556.9 719.2h0M450.3 724.3h0"/><path stroke="#bebada" d="M201.9 798.3h0M265.6 829.8h0M196.2 834.4h0M232.0 782.2h0M213.2 763.4h0M235.2 775.2h0M248.3 822.8h0M228.4 766.0h0M174.4 774.9h0M179.1 785.9h0M246.3 860.0h0M275.6 824.2h0M189.0 807.8h0M238.1 846.9h0M206.0 798.1h0M231.4 761.0h0M231.9 777.4h0M227.0 781.6h0M254.8 857.9h0M190.4 752.4h0M193.3 752.0h0M258.1 774.7h0M247.5 811.1h0M202.3 840.0h0M157.4 803.6h0"/><path stroke="#ffffb3" d="M224.0 568.7h0M166.8 577.1h0M257.6 573.4h0M271.5 571.6h0M134.8 628.9h0M133.8 606.6h0M232.8 560.2h0M273.8 593.7h0M188.2 544.8h0M248.6 545.3h0M261.7 589.3h0M230.4 582.7h0M186.8 604.7h0M214.9 551.6h0M266.7 571.0h0M235.2 537.9h0M229.8 545.5h0M278.5 559.3h0M129.8 629.7h0M195.8 552.6h0M170.5 583.7h0M226.5 588.5h0M200.7 550.2h0M172.4 587.3h0M200.1 566.5h0"/><path stroke="#8dd3c7" d="M454.9 703.8h0M376.6 665.2h0M436.5 645.7h0M541.3 702.8h0M450.9 677.7h0M459.6 693.4h0M436.0 648.4h0M478.8 717.2h0M488.8 696.5h0M532.7 692.9h0M407.9 719.3h0M470.8 719.8h0M481.9 672.3h0M464.5 688.3h0M521.2 673.7h0M502.5 689.1h0M427.1 680.3h0M512.2 661.4h0M441.0 712.6h0M456.7 687.6h0M526.6 715.3h0M435.1 651.5h0M399.7 686.5h0M458.7 682.5h0M378.9 695.4h0"/><path stroke="#bebada" d="M205.4 842.3h0M167.2 827.7h0M169.8 826.4h0M184.2 778.1h0M267.9 813.8h0M203.0 849.2h0M229.0 779.9h0M190.6 787.5h0M226.9 838.1h0M266.5 791.6h0M253.1 785.5h0M239.7 845.5h0M197.5 756.1h0M188.0 823.4h0M172.8 841.1h0M237.2 811.4h0M221.2 817.3h0M230.7 844.6h0M269.0 852.6h0M239.6 843.8h0M216.5 769.4h0M176.1 838.2h0M174.8 786.3h0M230.7 828.0h0M171.4 815.4h0"/><path stroke="#ffffb3" d="M138.6 603.1h0M293.7 579.2h0M272.4 594.2h0M197.0 637.0h0M134.8 611.9h0M184.1 563.5h0M174.7 607.8h0M186.2 552.4h0M177.6 554.7h0M247.2 559.6h0M254.7 552.9h0M196.7 595.4h0M235.1 576.7h0M222.1 610.0h0"/><path stroke="#8dd3c7" d="M393.3 682.7h0M451.0 658.1h0M510.1 714.4h0M407.0 667.6h0M539.2 697.2h0M461.0 655.1h0M451.5 667.8h0M346.6 652.5h0M491.8 699.6h0M545.8 721.0h0M507.1 710.2h0M503.0 664.0h0M566.6 692.6h0M422.8 712.0h0M513.2 709.0h0M453.9 663.7h0M550.1 682.7h0M438.5 658.4h0M526.1 707.6h0M513.6 676.4h0M425.3 721.1h0M493.6 724.8h0M545.0 686.7h0M493.0 734.5h0M481.7 646.5h0"/><path stroke="#bebada" d="M201.8 808.7h0M236.1 812.5h0M262.7 849.9h0"/><path stroke="#8dd3c7" d="M518.5 700.2h0M499.9 730.3h0M541.6 713.5h0M429.1 719.1h0M533.1 726.7h0M493.7 647.0h0M489.5 716.4h0M535.0 670.0h0M525.7 731.2h0M450.9 642.2h0M518.3 678.3h0M476.1 659.4h0M478.9 706.9h0M474.3 724.7h0M495.9 647.0h0M511.6 714.2h0M422.4 684.5h0M451.2 691.7h0M507.7 733.4h0M538.2 724.2h0M556.4 711.2h0M517.2 685.8h0M410.9 659.2h0M505.7 714.6h0M520.3 671.4h0"/><path stroke="#8dd3c7" d="M491.8 732.8h0M455.2 680.5h0M463.2 678.8h0M478.2 671.6h0M558.0 698.5h0M536.2 726.4h0M502.0 709.2h0M565.8 709.1h0M412.4 712.5h0M505.4 689.7h0M561.0 704.9h0M537.0 701.4h0M486.6 644.5h0M512.0 655.4h0M534.6 727.5h0M542.5 704.6h0M445.9 714.2h0M507.5 673.4h0M483.8 673.5h0M530.9 668.8h0M368.4 656.1h0M501.6 724.9h0M441.1 670.5h0M521.7 723.9h0M408.3 662.9h0"/><path stroke="#8dd3c7" d="M539.8 688.0h0M512.0 703.6h0M452.8 696.1h0M523.3 672.6h0M428.2 649.6h0M510.7 656.8h0M398.9 674.6h0M458.6 678.0h0M470.9 740.5h0M490.4 719.6h0M432.2 672.8h0M435.0 693.2h0M431.8 704.2h0M456.3 692.3h0M405.3 689.4h0M474.5 699.8h0M520.4 729.4h0M467.3 732.0h0M472.0 681.8h0M460.9 641.5h0M490.1 710.8h0M461.8 674.7h0M474.9 692.4h0M556.2 681.2h0M467.0 686.2h0"/><path stroke="#8dd3c7" d="M446.7 729.1h0M563.1 713.6h0M472.2 723.0h0M424.3 708.7h0M470.6 682.7h0M489.0 711.2h0M503.0 682.2h0M433.5 662.0h0M529.0 701.2h0M336.6 644.2h0M551.1 717.9h0M417.6 704.3h0M487.2 689.3h0M464.6 686.5h0M443.2 662.4h0M438.2 665.5h0M545.3 715.0h0"/></g></g><rect x="97.7" y="520.1" width="493.8" height="361.5" fill="none" stroke="#1c1c1c" stroke-width="2.2"/><line x1="197.3" y1="882.6" x2="197.3" y2="885.6" stroke="#ccc" stroke-width="1"/><text x="197.3" y="916.9" text-anchor="middle" class="tk">−10</text><line x1="305.9" y1="882.6" x2="305.9" y2="885.6" stroke="#ccc" stroke-width="1"/><text x="305.9" y="916.9" text-anchor="middle" class="tk">0</text><line x1="414.5" y1="882.6" x2="414.5" y2="885.6" stroke="#ccc" stroke-width="1"/><text x="414.5" y="916.9" text-anchor="middle" class="tk">10</text><line x1="523.1" y1="882.6" x2="523.1" y2="885.6" stroke="#ccc" stroke-width="1"/><text x="523.1" y="916.9" text-anchor="middle" class="tk">20</text><line x1="93.7" y1="549.8" x2="96.7" y2="549.8" stroke="#ccc" stroke-width="1"/><text x="85.5" y="560.3" text-anchor="end" class="tk">20</text><line x1="93.7" y1="620.3" x2="96.7" y2="620.3" stroke="#ccc" stroke-width="1"/><text x="85.5" y="630.8" text-anchor="end" class="tk">10</text><line x1="93.7" y1="690.8" x2="96.7" y2="690.8" stroke="#ccc" stroke-width="1"/><text x="85.5" y="701.3" text-anchor="end" class="tk">0</text><line x1="93.7" y1="761.3" x2="96.7" y2="761.3" stroke="#ccc" stroke-width="1"/><text x="85.5" y="771.8" text-anchor="end" class="tk">−10</text><line x1="93.7" y1="831.8" x2="96.7" y2="831.8" stroke="#ccc" stroke-width="1"/><text x="85.5" y="842.3" text-anchor="end" class="tk">−20</text><text x="344.6" y="953.2" text-anchor="middle" class="t29">tSNE 1</text><text transform="translate(24.1,702.85) rotate(-90)" text-anchor="middle" class="t29">tSNE 2</text><text x="-1" y="521.5" class="pl">c</text><g class="pd"><g clip-path="url(#cd)" fill="none" stroke-linecap="round" stroke-width="6.6" stroke-opacity="0.75"><path stroke="#34a853" d="M1060.7 616.5h0M1373.2 712.5h0M1140.8 782.1h0M1104.5 573.2h0M1327.8 650.1h0M1275.1 683.9h0M1306.2 678.1h0M1291.5 683.2h0M1383.1 725.3h0M1387.1 679.3h0M1453.5 674.7h0M1148.8 581.2h0M1384.4 700.7h0M1057.1 584.5h0M1149.5 834.2h0M1326.3 699.5h0M1053.4 773.1h0M1049.5 777.2h0M1034.1 578.1h0M1023.3 620.2h0M1376.6 663.4h0M1277.0 668.9h0M1168.6 799.1h0M1057.9 777.9h0M1072.4 623.8h0"/><path stroke="#fbbc05" d="M1386.9 649.1h0M1155.1 576.7h0M1097.9 845.7h0M1408.9 711.9h0M1162.0 600.0h0M1150.1 552.4h0M1391.2 718.5h0M1143.3 540.8h0M1093.2 560.2h0M1123.4 849.8h0M1403.2 673.0h0M1124.2 577.6h0M1025.4 563.5h0M1107.6 563.5h0M1416.8 665.1h0M1376.9 701.9h0M1340.4 722.6h0M1038.2 769.5h0M1461.7 701.5h0M1365.8 676.0h0M1312.9 689.2h0M1044.3 614.3h0M1064.4 630.5h0M1312.7 719.0h0M1288.6 687.1h0"/><path stroke="#ea4335" d="M1331.2 659.4h0M1058.5 838.0h0M1100.0 837.5h0M1362.3 675.2h0M1139.2 577.0h0M1026.1 549.6h0M1059.8 757.8h0M1340.8 684.3h0M1335.2 696.8h0M1058.1 623.1h0M1016.8 611.5h0M1130.8 544.0h0M1062.6 778.6h0M1125.6 808.3h0M1347.3 690.2h0M1059.5 557.4h0M1058.6 646.1h0M1064.6 756.8h0M1025.8 564.1h0M1048.5 640.8h0M1081.4 577.1h0M1180.3 806.1h0M1039.5 563.1h0M1337.0 672.4h0M1295.3 664.8h0"/><path stroke="#34a853" d="M1372.1 661.8h0M1416.3 675.1h0M1103.2 527.0h0M1219.5 635.8h0M1437.9 721.5h0M1031.0 557.9h0M1113.2 587.4h0M1140.2 571.4h0M1084.5 579.3h0M1120.5 779.8h0M1053.0 758.3h0M1060.3 629.9h0M1094.6 744.1h0M1157.0 584.4h0M1103.5 784.3h0M1360.3 679.4h0M1074.2 851.1h0M1113.0 826.0h0M1160.0 577.1h0M1095.0 560.8h0M1028.9 549.6h0M1051.0 791.5h0M1100.4 803.9h0M1087.5 734.6h0M1383.4 691.7h0"/><path stroke="#fbbc05" d="M1156.8 843.8h0M1406.5 727.2h0M1041.5 560.2h0M1311.5 679.7h0M1053.8 755.2h0M1304.4 692.3h0M1174.4 561.8h0M1064.0 546.9h0M1016.5 605.6h0M1351.9 723.7h0M1393.5 698.5h0M1102.9 815.0h0M1281.1 680.0h0M1053.8 779.9h0M1120.5 553.2h0M1146.2 784.0h0M1057.0 772.2h0M1175.7 549.2h0M1080.7 829.9h0M1045.1 647.7h0M1117.8 777.2h0M1162.8 560.0h0M1353.4 698.3h0M1134.4 544.1h0M1353.4 634.0h0"/><path stroke="#ea4335" d="M1390.1 726.1h0M1429.4 722.0h0M1058.6 775.2h0M1038.9 579.7h0M1110.3 774.8h0M1130.1 577.2h0M1032.3 602.1h0M1059.9 538.7h0M1462.7 697.1h0M1063.4 570.5h0M1123.8 577.8h0M1067.3 808.2h0M1021.2 635.4h0M1429.1 654.9h0M1131.0 584.5h0M1023.4 597.6h0M1085.0 796.2h0M1363.6 633.4h0M1388.9 711.3h0M1165.6 839.8h0M1079.6 810.7h0M1349.4 649.3h0M1394.7 642.5h0M1110.5 836.4h0M1047.1 605.9h0"/><path stroke="#34a853" d="M1141.3 580.2h0M1436.9 718.1h0M1057.6 618.5h0M1414.4 646.4h0M1423.0 696.3h0M1116.6 845.6h0M1129.6 589.2h0M1360.7 636.7h0M1164.5 551.7h0M1434.4 715.4h0M1321.9 665.5h0M1013.9 612.5h0M1042.4 643.5h0M1428.3 722.0h0M1401.2 684.1h0M1098.4 739.8h0M1229.8 643.3h0M1019.5 629.0h0M1117.9 777.6h0M1054.5 627.1h0M1413.9 696.4h0M1038.6 578.4h0M1043.3 794.8h0M1151.1 790.1h0M1144.6 849.6h0"/><path stroke="#fbbc05" d="M1074.9 582.1h0M1056.3 549.4h0M1071.2 779.1h0M1315.1 696.4h0M1288.8 668.8h0M1346.5 667.5h0M1075.4 603.3h0M1108.8 545.2h0M1133.0 821.2h0M1130.7 533.4h0M1404.4 674.4h0M1026.5 620.4h0M1400.6 720.6h0M1160.0 585.0h0M1082.8 564.4h0M1154.7 788.6h0M1304.8 689.9h0M1148.2 810.7h0M1418.7 665.2h0M1303.0 692.9h0M1130.2 775.6h0M1124.7 849.7h0M1062.5 788.0h0M1404.4 729.8h0M1329.2 720.2h0"/><path stroke="#ea4335" d="M1309.4 678.1h0M1396.9 657.2h0M1271.1 678.1h0M1290.1 691.1h0M1306.2 700.9h0M1351.5 727.8h0M1022.1 615.1h0M1126.0 810.8h0M1102.6 568.3h0M1128.6 839.7h0M1353.0 640.6h0M1071.9 586.2h0M1128.4 763.2h0M1379.9 705.3h0M1379.6 663.7h0M1122.8 812.0h0M1036.1 579.8h0M1153.0 821.7h0M1096.1 857.8h0M1151.0 809.9h0M1382.7 641.3h0M1384.9 679.1h0M1140.0 805.4h0M1398.7 718.8h0M1120.9 823.6h0"/><path stroke="#34a853" d="M1448.9 722.5h0M1091.1 843.0h0M1040.8 791.7h0M1137.6 530.0h0M1143.1 545.7h0M1341.2 719.7h0M1077.6 811.4h0M1164.1 601.3h0M1161.5 552.3h0M1395.4 734.2h0M1361.5 644.1h0M1124.0 532.0h0M1029.6 568.4h0M1077.2 642.6h0M1135.8 538.4h0M1338.3 697.1h0M1035.4 572.1h0M1211.2 645.1h0M1346.4 718.5h0M1091.0 572.5h0M1040.0 591.7h0M1439.4 664.4h0M1092.2 569.7h0M1086.5 562.8h0M1155.5 806.0h0"/><path stroke="#fbbc05" d="M1142.7 576.8h0M1127.9 572.8h0M1242.8 648.9h0M1097.2 854.7h0M1156.1 562.5h0M1153.1 776.8h0M1173.1 809.5h0M1328.1 643.1h0M1394.0 718.1h0M1097.8 849.8h0M1069.2 568.9h0M1085.3 791.2h0M1341.3 694.4h0M1134.9 580.7h0M1372.5 700.5h0M1345.6 649.4h0M1305.3 700.7h0M1096.9 584.9h0M1038.4 548.0h0M1108.8 545.6h0M1026.6 602.9h0M1052.1 575.6h0M1303.2 655.4h0M1095.7 832.5h0M1074.9 610.8h0"/><path stroke="#ea4335" d="M1048.3 585.1h0M1409.5 737.2h0M1334.7 642.3h0M1060.3 746.3h0M1408.9 714.8h0M1133.4 861.6h0M1106.8 810.8h0M1397.4 699.0h0M1385.9 658.8h0M1155.9 541.5h0M1064.3 612.9h0M1082.4 836.2h0M1008.1 615.7h0M1441.0 676.4h0M1164.2 570.3h0M1097.0 761.3h0M1077.5 817.3h0M1133.2 586.1h0M1015.9 630.2h0M1451.2 700.6h0M1084.2 606.0h0M1040.5 580.7h0M1125.6 763.9h0M1110.6 832.3h0M1391.1 667.6h0"/><path stroke="#34a853" d="M1115.8 853.3h0M1120.2 857.3h0M1100.2 836.4h0M1398.5 667.7h0M1036.8 584.4h0M1051.2 609.2h0M1065.5 776.4h0M1102.3 540.8h0M1059.7 832.6h0M1134.6 539.4h0M1288.7 697.7h0M1032.8 544.0h0M1014.9 610.7h0M1316.6 659.4h0M1042.9 581.5h0M1051.9 559.1h0M1385.5 691.2h0M1053.9 607.9h0M1402.3 655.2h0M1410.0 715.5h0M1339.8 638.6h0M1399.2 706.8h0M1362.2 684.2h0M1357.9 658.2h0M1409.6 673.9h0"/><path stroke="#fbbc05" d="M1361.5 682.5h0M1320.2 674.0h0M1410.1 675.0h0M1074.8 838.8h0M1096.9 858.6h0M1059.0 567.6h0M1294.2 655.0h0M1300.3 689.2h0M1393.9 697.7h0M1077.1 541.2h0M1171.2 584.9h0M1064.2 632.0h0M1383.0 717.2h0M1421.1 682.4h0M1035.7 575.4h0M1057.2 566.3h0M1079.2 537.7h0M1393.5 701.0h0M1058.5 776.5h0M1354.4 631.9h0M1153.7 835.3h0M1138.5 760.6h0M1334.5 644.3h0M1061.0 546.7h0M1286.2 671.7h0"/><path stroke="#ea4335" d="M1356.1 697.0h0M1154.1 840.3h0M1394.1 677.4h0M1369.4 698.5h0M1120.2 761.8h0M1054.6 759.6h0M1385.6 722.3h0M1117.4 556.8h0M1329.0 663.3h0M1060.6 567.4h0M1436.1 711.2h0M1435.1 687.0h0M1079.3 531.4h0M1143.9 840.8h0M1106.0 844.4h0M1154.6 560.2h0M1032.3 589.7h0M1059.5 769.1h0M1336.4 699.9h0M1157.2 851.7h0M1422.1 698.6h0M1378.1 702.8h0M1145.2 557.1h0M1119.8 774.2h0M1400.1 733.4h0"/><path stroke="#34a853" d="M1375.3 712.3h0M1166.6 846.3h0M1330.9 657.6h0M1076.3 745.7h0M1150.0 537.3h0M1151.3 830.6h0M1250.3 652.6h0M1083.3 743.6h0M1116.7 779.1h0M1072.1 818.1h0M1105.6 857.3h0M1309.3 714.0h0M1046.0 760.8h0M1174.8 821.8h0M1064.4 766.0h0M1347.8 720.9h0M1080.8 853.2h0M1162.2 818.0h0M1387.0 716.8h0M1373.5 713.8h0M1139.7 820.2h0M1288.4 710.2h0M1283.1 705.3h0M1087.9 748.3h0M1094.7 766.0h0"/><path stroke="#fbbc05" d="M1062.2 611.3h0M1021.7 597.2h0M1141.1 796.2h0M1017.2 603.7h0M1105.9 766.5h0M1173.7 557.5h0M1406.8 648.8h0M1147.8 804.7h0M1160.2 832.4h0M1035.6 582.0h0M1387.2 660.7h0M1358.5 639.1h0M1426.1 696.9h0M1072.6 762.9h0M1147.3 560.9h0M1338.8 641.8h0M1063.3 812.2h0M1291.3 669.5h0M1121.9 578.3h0M1351.6 648.6h0M1401.3 653.5h0M1059.2 791.8h0M1150.7 566.6h0M1309.1 699.4h0M1410.6 670.6h0"/><path stroke="#ea4335" d="M1295.0 687.3h0M1333.4 696.0h0M1050.3 557.3h0M1137.5 780.6h0M1148.4 794.3h0M1290.7 693.3h0M1147.8 556.7h0M1379.8 664.3h0M1055.7 642.8h0M1090.0 817.8h0M1325.7 635.5h0M1101.6 767.4h0M1062.8 763.8h0M1104.8 830.9h0M1368.7 662.6h0M1091.4 606.3h0M1407.7 657.5h0M1080.3 581.2h0M1169.3 815.9h0M1455.2 675.3h0M1373.7 701.7h0M1338.2 720.6h0M1122.5 529.3h0M1149.9 569.7h0M1070.8 533.9h0"/><path stroke="#34a853" d="M1029.8 586.3h0M1074.3 751.7h0M1127.0 805.7h0M1392.7 725.0h0M1415.8 713.6h0M1148.4 587.9h0M1406.3 663.1h0M1088.5 813.8h0M1354.8 733.7h0M1310.8 670.1h0M1057.0 600.8h0M1312.3 647.5h0M1122.9 775.6h0M1343.8 659.5h0M1407.6 706.6h0M1059.6 789.4h0M1115.8 761.7h0M1337.7 719.8h0M1094.5 735.1h0M1457.1 677.6h0M1171.9 543.1h0M1140.6 834.2h0M1136.6 538.5h0M1132.8 814.0h0M1075.6 743.8h0"/><path stroke="#fbbc05" d="M1387.9 687.4h0M1456.3 680.6h0M1117.0 777.5h0M1033.6 589.2h0M1045.2 768.0h0M1061.0 545.0h0M1053.6 809.3h0M1416.9 730.0h0M1124.6 844.2h0M1155.8 776.9h0M1126.5 571.5h0M1084.7 602.9h0M1436.4 701.5h0M1115.2 788.5h0M1089.1 780.8h0M1460.3 685.2h0M1145.6 538.8h0M1062.2 567.8h0M1358.8 729.3h0M1143.4 588.1h0M1111.5 766.3h0M1070.3 631.0h0M1125.6 586.0h0M1061.8 530.3h0M1142.5 535.9h0"/><path stroke="#ea4335" d="M1344.7 647.3h0M1060.6 555.4h0M1088.2 548.1h0M1106.2 534.4h0M1038.6 573.3h0M1375.5 687.4h0M1385.5 672.8h0M1165.1 836.0h0M1020.5 635.5h0M1303.4 666.4h0M1376.5 707.0h0M1163.1 845.6h0M1057.9 531.9h0M1395.7 711.5h0M1065.9 555.6h0M1433.4 708.6h0M1134.1 840.6h0M1134.8 800.9h0M1075.0 572.9h0M1053.5 609.8h0M1351.5 731.7h0M1078.0 749.1h0M1091.1 801.5h0M1072.4 544.9h0M1165.0 839.5h0"/><path stroke="#34a853" d="M1314.2 701.9h0M1350.7 649.3h0M1349.6 677.7h0M1094.7 854.1h0M1107.4 596.8h0M1085.4 569.9h0M1259.6 655.4h0M1067.2 609.1h0M1127.3 849.6h0M1068.8 779.0h0M1126.9 842.5h0M1102.7 813.1h0M1072.4 778.8h0M1089.0 805.2h0M1404.9 694.6h0M1318.6 671.7h0M1092.4 536.5h0M1291.9 674.2h0M1148.1 838.4h0M1163.4 845.7h0M1404.2 652.4h0M1096.9 765.6h0M1093.6 552.6h0M1099.7 747.8h0M1116.4 809.1h0"/><path stroke="#fbbc05" d="M1086.8 815.3h0M1405.2 653.6h0M1337.1 695.4h0M1072.5 782.1h0M1361.4 698.0h0M1075.3 778.6h0M1139.7 804.7h0M1090.8 737.9h0M1109.5 793.0h0M1138.2 761.5h0M1136.3 578.9h0M1115.3 789.0h0M1299.4 717.2h0M1219.5 643.8h0M1128.5 853.7h0M1152.1 799.5h0M1394.5 685.1h0M1428.7 705.4h0M1377.4 698.0h0M1071.7 831.0h0M1291.9 677.5h0M1143.2 826.4h0M1389.6 660.0h0M1288.3 676.2h0M1138.1 804.1h0"/><path stroke="#ea4335" d="M1061.6 760.7h0M1160.7 843.9h0M1275.8 680.5h0M1388.5 666.9h0M1066.5 814.6h0M1426.7 723.7h0M1303.8 663.7h0M1124.8 763.2h0M1112.3 784.4h0M1100.7 857.1h0M1104.8 835.0h0M1102.2 530.6h0M1052.9 807.0h0M1358.4 669.3h0M1092.7 776.1h0M1151.1 854.2h0M1127.7 530.4h0M1163.2 806.7h0M1080.7 752.3h0M1080.1 819.3h0M1057.8 763.7h0M1089.9 839.5h0M1366.3 711.4h0M1135.9 796.3h0M1073.0 563.5h0"/><path stroke="#34a853" d="M1160.0 820.4h0M1003.8 610.0h0M1363.0 662.0h0M1366.3 682.9h0M1034.5 612.7h0M1099.5 801.4h0M1304.1 661.1h0M1430.4 705.8h0M1075.2 578.7h0M1403.5 716.7h0M1053.7 644.2h0M1123.0 778.5h0M1054.4 834.6h0M1017.8 606.2h0M1341.8 663.0h0M1389.0 684.1h0M1358.5 634.7h0M1137.4 757.0h0M1362.1 669.9h0M1176.5 562.3h0M1417.3 644.6h0M1329.3 640.3h0M1123.4 848.0h0M1068.3 641.4h0M1286.5 697.7h0"/><path stroke="#fbbc05" d="M1426.5 702.9h0M1305.6 678.3h0M1413.0 685.6h0M1072.1 542.9h0M1390.3 711.9h0M1138.8 785.0h0M1105.9 546.4h0M1059.2 640.6h0M1119.6 810.2h0M1033.0 551.3h0M1441.5 672.5h0M1080.9 839.8h0M1040.9 619.9h0M1032.2 564.9h0M1314.4 671.2h0M1416.2 720.6h0M1390.0 708.9h0M1434.0 686.2h0M1454.4 705.6h0M1058.4 780.0h0M1085.3 597.2h0M1113.6 742.6h0M1117.3 746.1h0M1413.3 679.9h0M1150.5 538.4h0"/><path stroke="#ea4335" d="M1056.9 829.9h0M1393.4 732.2h0M1089.0 762.9h0M1344.2 723.3h0M1324.1 641.0h0M1067.3 843.6h0M1090.7 844.4h0M1057.3 798.1h0M1155.8 848.2h0M1305.8 697.8h0M1432.7 685.8h0M1291.4 710.9h0M1121.0 756.2h0M1114.8 759.2h0M1124.7 832.5h0M1116.7 596.7h0M1100.1 826.9h0M1329.5 664.1h0M1363.6 641.1h0M1310.1 667.2h0M1055.6 582.8h0M1320.8 723.8h0M1067.4 783.5h0M1045.9 538.6h0M1367.0 704.7h0"/><path stroke="#34a853" d="M1132.4 535.9h0M1435.0 663.6h0M1401.0 709.5h0M1189.5 572.1h0M1116.0 538.7h0M1417.4 679.8h0M1350.6 696.1h0M1466.0 699.5h0M1442.8 711.8h0M1173.1 550.9h0M1453.0 714.2h0M1348.3 698.5h0M1268.0 659.1h0M1081.0 542.0h0M1127.4 528.6h0M1065.1 625.1h0M1060.1 591.2h0M1436.9 697.4h0M1300.1 714.2h0M1083.0 580.7h0M1083.1 757.7h0M1025.1 563.2h0M1117.9 771.6h0M1131.9 539.9h0M1328.0 645.1h0"/><path stroke="#fbbc05" d="M1086.4 579.9h0M1091.0 579.6h0M1364.0 668.7h0M1041.8 797.2h0M1157.8 795.3h0M1155.9 565.0h0M1083.9 558.3h0M1097.8 592.0h0M1284.2 663.3h0M1375.0 634.8h0M1407.1 738.4h0M1087.3 808.6h0M1032.2 604.1h0M1013.3 615.5h0M1425.1 659.5h0M1375.4 643.1h0M1368.3 679.8h0M1142.9 571.2h0M1080.7 824.6h0M1116.5 851.5h0M1109.7 813.6h0M1339.6 695.2h0M1125.0 528.4h0M1314.8 689.1h0M1023.9 619.0h0"/><path stroke="#ea4335" d="M1313.1 642.9h0M1355.2 723.7h0M1019.7 608.1h0M1127.1 774.8h0M1290.6 707.4h0M1145.1 571.3h0M1012.6 609.1h0M1403.7 734.1h0M1416.4 684.7h0M1063.7 777.1h0M1086.1 845.1h0M1165.0 829.6h0M1157.8 561.2h0M1048.1 571.0h0M1373.0 702.9h0M1421.0 661.9h0M1387.3 733.6h0M1060.2 581.0h0M1087.8 538.3h0M1303.7 685.9h0M1122.5 795.5h0M1422.6 686.6h0M1338.1 705.2h0M1103.8 833.5h0M1122.3 831.8h0"/><path stroke="#34a853" d="M1246.0 650.0h0M1068.6 831.1h0M1076.4 560.8h0M1088.2 561.1h0M1237.2 646.1h0M1054.5 543.5h0M1051.1 810.7h0M1163.1 562.4h0M1144.2 808.1h0M1375.8 640.0h0M1413.6 694.7h0M1144.9 811.0h0M1394.5 725.5h0M1388.1 640.5h0M1074.5 817.7h0M1370.1 653.2h0M1164.2 802.8h0M1098.6 565.9h0M1049.4 596.1h0M1094.5 828.5h0M1138.2 531.1h0M1020.1 600.3h0M1139.3 773.2h0M1315.0 678.8h0M1067.0 824.9h0"/><path stroke="#fbbc05" d="M1283.0 689.0h0M1337.5 649.9h0M1071.0 757.3h0M1130.9 539.5h0M1064.2 583.4h0M1043.3 551.2h0M1122.6 816.3h0M1387.9 690.6h0M1422.2 681.6h0M1284.7 700.0h0M1325.7 666.1h0M1466.4 701.5h0M1149.2 565.7h0M1098.7 767.1h0M1096.4 846.0h0M1069.9 745.4h0M1354.9 639.0h0M1320.3 706.0h0M1052.8 776.7h0M1048.2 566.2h0M1060.6 799.2h0M1112.2 532.7h0M1056.7 640.4h0M1051.9 619.3h0M1117.2 528.4h0"/><path stroke="#ea4335" d="M1117.9 846.0h0M1320.3 643.3h0M1062.1 580.9h0M1095.9 748.7h0M1135.5 818.9h0M1367.1 683.1h0M1419.2 670.5h0M1447.8 673.1h0M1338.4 661.1h0M1130.7 577.3h0M1129.8 799.9h0M1389.1 715.9h0M1102.5 591.1h0M1063.0 572.5h0M1072.1 840.8h0M1372.4 727.1h0M1088.8 535.0h0M1077.1 573.6h0M1159.4 784.6h0M1427.6 681.0h0M1439.4 708.8h0M1059.5 627.0h0M1415.4 637.9h0M1151.9 787.6h0M1131.5 583.4h0"/><path stroke="#34a853" d="M1139.7 540.9h0M1344.6 686.2h0M1452.5 706.0h0M1114.3 861.4h0M1077.4 775.1h0M1037.9 645.3h0M1386.2 728.1h0M1356.9 673.0h0M1056.0 803.3h0M1064.9 817.6h0M1145.0 574.1h0M1066.3 813.9h0M1031.8 631.3h0M1457.2 699.6h0M1154.2 827.0h0M1432.5 696.0h0M1380.9 638.0h0M1088.0 583.8h0M1100.4 759.3h0M1136.4 819.8h0M1300.6 656.8h0M1418.5 666.6h0M1320.9 643.2h0M1405.6 650.5h0M1119.6 773.5h0"/><path stroke="#fbbc05" d="M1406.3 641.4h0M1075.3 802.6h0M1331.8 657.3h0M1101.3 852.3h0M1068.7 542.1h0M1342.8 702.2h0M1159.2 577.2h0M1277.1 698.5h0M1145.5 824.6h0M1067.3 639.6h0M1338.5 634.1h0M1161.2 825.8h0M1121.5 845.8h0M1113.7 820.7h0M1028.8 545.1h0M1432.9 683.3h0M1019.5 608.8h0M1053.6 593.2h0M1123.4 765.3h0M1375.8 710.2h0M1098.8 760.6h0M1062.7 803.9h0M1058.1 584.5h0M1343.6 719.4h0M1068.1 628.3h0"/><path stroke="#ea4335" d="M1117.0 554.1h0M1370.3 701.5h0M1144.4 546.6h0M1081.3 751.5h0M1065.2 780.9h0M1081.5 752.6h0M1452.1 677.9h0M1064.0 794.1h0M1021.3 632.9h0M1420.4 684.0h0M1415.7 675.4h0M1160.0 844.9h0M1361.0 684.5h0M1116.3 811.7h0M1095.1 760.7h0M1364.0 690.8h0M1388.1 648.6h0M1085.2 597.0h0M1025.9 604.8h0M1034.5 554.4h0M1093.1 555.2h0M1398.4 713.8h0M1111.0 569.2h0M1085.2 550.4h0M1104.8 545.6h0"/><path stroke="#34a853" d="M1384.7 714.5h0M1120.5 552.0h0M1114.6 777.8h0M1136.7 536.8h0M1073.4 597.4h0M1327.9 687.6h0M1167.4 551.1h0M1014.9 622.9h0M1156.6 810.7h0M1114.4 835.5h0M1155.1 788.0h0M1084.3 751.8h0M1459.4 708.5h0M1366.1 718.0h0M1114.0 580.8h0M1127.5 841.2h0M1397.7 676.4h0M1161.1 586.7h0M1447.0 712.9h0M1062.3 835.5h0M1061.0 782.6h0M1063.9 546.4h0M1381.5 683.7h0M1358.3 680.9h0M1135.3 551.4h0"/><path stroke="#fbbc05" d="M1097.7 764.7h0M1049.8 766.6h0M1107.8 770.4h0M1021.5 620.6h0M1383.1 691.0h0M1075.0 785.5h0M1104.0 541.4h0M1081.0 554.0h0M1119.3 776.2h0M1416.4 667.8h0M1397.2 683.5h0M1076.1 772.9h0M1350.2 682.0h0M1072.9 547.8h0M1053.3 811.8h0M1421.9 710.2h0M1059.7 581.4h0M1104.4 825.6h0M1112.0 840.3h0M1159.6 579.9h0M1354.6 648.7h0M1076.6 820.9h0M1116.1 845.9h0M1117.4 532.2h0M1142.8 844.9h0"/><path stroke="#ea4335" d="M1322.0 667.5h0M1330.4 686.1h0M1164.3 584.4h0M1389.7 729.6h0M1142.2 766.8h0M1064.4 559.3h0M1066.1 581.5h0M1122.0 806.8h0M1105.4 566.6h0M1074.7 622.4h0M1331.9 638.2h0M1057.3 579.9h0M1170.8 795.5h0M1375.3 660.2h0M1085.9 563.8h0M1403.1 678.8h0M1415.9 636.4h0M1115.1 825.9h0M1086.5 599.3h0M1422.2 680.1h0M1159.9 849.1h0M1122.1 574.9h0M1067.9 563.2h0M1126.7 552.9h0M1328.0 700.9h0"/><path stroke="#34a853" d="M1441.1 709.8h0"/><path stroke="#fbbc05" d="M1119.9 813.5h0M1441.6 716.0h0M1315.4 706.8h0M1074.7 769.8h0M1080.0 542.0h0M1147.0 849.3h0M1446.0 676.9h0M1388.0 719.9h0M1387.4 729.7h0M1321.9 714.1h0M1428.5 721.8h0M1150.9 808.0h0M1080.6 542.4h0M1179.2 565.2h0M1430.5 663.9h0M1132.9 855.6h0M1413.4 672.5h0M1017.6 606.3h0M1171.1 579.6h0M1082.4 746.9h0M1064.6 628.1h0M1073.8 584.6h0M1077.7 544.9h0M1113.3 823.2h0M1144.1 786.7h0"/><path stroke="#ea4335" d="M1164.3 542.6h0M1143.7 799.8h0M1084.7 591.1h0M1357.9 721.1h0M1337.3 716.1h0M1288.9 666.5h0M1119.7 584.2h0M1101.3 598.4h0M1424.1 691.8h0M1377.2 644.4h0M1035.3 604.3h0M1065.4 825.9h0M1276.6 675.7h0M1432.4 661.4h0M1270.9 684.2h0M1048.8 629.3h0M1109.2 811.5h0M1049.8 606.1h0M1117.8 753.8h0M1073.8 850.2h0M1079.0 777.7h0M1059.5 644.1h0M1163.8 540.4h0M1045.2 611.1h0M1372.1 735.3h0"/><path stroke="#fbbc05" d="M1402.5 728.7h0M1433.8 719.3h0M1069.0 801.2h0M1412.3 680.1h0M1080.3 591.4h0M1400.5 709.5h0M1147.8 589.0h0M1415.4 665.4h0M1157.3 578.9h0M1348.7 674.7h0M1396.7 704.0h0M1031.6 623.1h0M1462.1 703.9h0M1048.8 638.7h0M1159.3 785.4h0M1083.0 831.6h0M1406.9 649.1h0M1078.4 622.8h0M1025.8 608.8h0M1153.0 555.0h0M1402.3 667.5h0M1007.8 621.7h0M1259.6 649.8h0M1396.3 720.0h0M1116.0 761.9h0"/><path stroke="#ea4335" d="M1395.0 699.2h0M1379.3 717.7h0M1295.6 690.8h0M1430.4 721.9h0M1392.2 726.3h0M1385.5 719.9h0M1293.6 665.6h0M1074.5 772.0h0M1137.4 529.9h0M1369.2 728.5h0M1123.0 809.3h0M1046.6 560.9h0M1034.2 560.3h0M1107.7 567.0h0M1426.4 654.9h0M1140.4 533.0h0M1342.0 646.0h0M1105.6 762.6h0M1331.3 639.2h0M1059.9 630.3h0M1333.4 636.2h0M1031.9 601.5h0M1074.0 541.9h0M1110.8 810.9h0M1051.5 556.7h0"/><path stroke="#fbbc05" d="M1334.2 664.5h0M1060.6 770.9h0M1416.9 719.0h0M1081.4 565.7h0M1346.2 690.6h0M1290.9 668.7h0M1077.3 537.7h0M1111.4 560.7h0M1126.0 844.4h0M1146.0 565.5h0M1119.1 756.8h0M1162.5 586.1h0M1080.0 747.6h0M1135.6 807.9h0M1415.5 724.6h0M1053.2 824.8h0M1123.0 529.3h0M1354.5 635.0h0M1055.8 823.4h0M1141.3 781.8h0M1056.6 576.0h0M1125.0 808.2h0M1360.8 680.5h0M1339.9 724.3h0M1316.9 703.4h0"/><path stroke="#ea4335" d="M1099.4 847.6h0M1385.9 711.4h0M1121.1 541.7h0M1357.5 703.8h0M1426.7 703.0h0M1059.0 609.6h0M1166.4 548.8h0M1060.0 629.4h0M1054.5 831.7h0M1406.7 654.5h0M1120.6 836.4h0M1391.7 653.2h0M1423.9 661.3h0M1352.6 647.5h0M1399.8 726.0h0M1059.5 537.5h0M1061.7 557.8h0M1023.9 592.7h0M1152.1 824.5h0M1174.9 554.2h0M1432.4 655.4h0M1334.4 633.7h0M1096.0 763.7h0M1166.4 551.5h0M1129.4 811.8h0"/><path stroke="#fbbc05" d="M1118.3 842.0h0M1424.4 695.8h0M1023.9 595.8h0M1083.8 630.4h0M1060.9 600.5h0M1072.7 544.0h0M1118.4 825.1h0M1088.8 805.5h0M1123.9 809.3h0M1151.2 847.4h0"/><path stroke="#ea4335" d="M1062.8 762.6h0M1106.9 797.2h0M1059.9 566.7h0M1143.1 852.9h0M1063.3 769.3h0M1048.8 608.5h0M1337.4 664.5h0M1425.9 691.7h0M1345.5 671.6h0M1297.5 682.8h0M1366.3 681.8h0M1151.8 822.1h0M1271.8 682.6h0M1402.8 720.5h0M1174.0 819.7h0M1072.7 599.3h0M1025.0 601.9h0M1436.4 685.4h0M1056.0 623.5h0M1013.9 599.5h0M1148.9 562.0h0M1118.9 784.5h0M1073.9 643.1h0M1104.4 860.0h0M1151.0 584.2h0"/><path stroke="#ea4335" d="M1025.7 599.7h0M1105.7 785.3h0M1122.8 808.6h0M1296.9 704.5h0M1430.9 687.2h0M1084.8 744.5h0M1123.5 823.8h0M1097.9 595.8h0M1127.9 546.0h0M1435.5 679.6h0M1446.3 721.4h0M1116.9 762.8h0M1046.7 779.8h0M1145.9 812.7h0M1432.5 668.3h0M1053.4 625.9h0M1427.3 698.3h0M1155.2 578.9h0M1162.9 562.2h0M1454.6 714.2h0M1065.4 847.4h0M1139.2 822.8h0M1292.3 687.2h0M1349.9 652.7h0M1430.6 718.8h0"/><path stroke="#ea4335" d="M1124.1 529.1h0M1107.4 772.2h0M1455.0 673.1h0M1111.0 600.6h0M1295.6 671.5h0M1022.9 604.2h0M1416.2 690.7h0M1390.9 705.6h0M1142.1 803.6h0M1155.1 848.0h0M1161.3 560.2h0M1391.2 699.0h0M1095.3 824.1h0M1051.0 804.9h0M1041.3 781.9h0M1413.8 733.2h0M1008.8 616.0h0M1234.0 644.0h0M1430.7 705.7h0M1054.3 633.9h0M1146.5 807.9h0M1411.0 657.4h0M1043.2 589.5h0M1397.3 668.2h0M1120.8 535.9h0"/><path stroke="#ea4335" d="M1097.2 769.1h0M1054.3 619.7h0M1429.0 658.9h0M1294.7 679.3h0M1090.5 577.4h0M1303.3 696.7h0M1350.5 706.9h0M1062.5 811.0h0M1105.8 584.7h0M1047.3 628.1h0M1081.6 842.8h0M1063.2 770.8h0M1329.7 660.9h0M1170.2 826.0h0M1095.2 764.4h0M1166.3 833.5h0M1082.4 635.0h0M1064.2 799.5h0M1147.1 554.5h0M1392.4 689.9h0M1089.6 544.0h0M1069.9 605.7h0M1135.4 540.7h0M1140.0 784.7h0M1089.0 776.4h0"/><path stroke="#ea4335" d="M1090.1 746.9h0M1415.7 683.2h0M1156.2 842.6h0M1157.3 784.5h0M1104.7 790.4h0M1137.7 801.0h0M1311.4 660.6h0M1134.8 848.8h0M1344.9 676.9h0M1140.1 562.8h0M1295.4 669.2h0M1347.3 691.8h0M1374.4 671.5h0M1072.8 810.2h0M1417.7 714.4h0M1437.8 716.2h0M1121.5 539.9h0M1455.8 674.4h0M1098.9 566.9h0M1053.6 594.0h0M1372.3 728.6h0M1382.6 710.8h0M1311.8 667.6h0M1178.5 582.4h0M1118.0 541.1h0"/><path stroke="#ea4335" d="M1108.3 547.1h0M1270.2 679.4h0M1150.5 783.9h0M1143.1 794.6h0M1301.1 704.6h0M1344.3 650.4h0M1313.4 703.1h0M1127.3 815.5h0M1118.2 756.1h0M1431.7 720.9h0M1145.2 808.1h0M1087.5 546.4h0M1077.7 603.8h0M1059.5 762.6h0M1358.0 701.7h0M1074.2 591.2h0M1307.3 723.7h0M1140.6 576.0h0M1394.7 663.5h0M1346.8 675.6h0M1359.0 704.1h0M1141.9 557.0h0M1032.6 598.3h0M1404.8 735.9h0M1101.9 841.4h0"/><path stroke="#ea4335" d="M1414.8 679.8h0M1348.1 649.5h0M1384.6 680.0h0M1102.5 833.0h0M1331.1 640.0h0M1356.8 728.4h0M1415.1 688.0h0M1383.1 669.1h0M1092.9 559.8h0M1398.2 717.0h0M1280.8 703.6h0M1454.1 674.0h0M1145.9 844.3h0M1437.0 715.8h0M1340.9 649.4h0M1106.3 751.2h0M1113.5 799.4h0M1387.3 724.7h0M1433.4 710.6h0M1298.7 661.6h0M1357.3 690.0h0M1144.1 571.2h0M1360.6 669.5h0M1307.6 700.2h0M1407.5 653.0h0"/><path stroke="#ea4335" d="M1117.4 595.5h0M1299.5 665.6h0M1143.2 835.5h0M1068.0 761.8h0M1080.2 827.9h0M1061.3 761.7h0M1154.5 832.8h0M1060.6 816.3h0M1092.4 572.2h0M1337.7 653.3h0M1364.6 696.1h0M1107.3 571.5h0M1338.3 683.1h0M1344.0 647.7h0M1114.6 800.0h0M1435.7 707.1h0M1314.3 636.9h0M1047.1 612.4h0M1097.6 785.6h0M1074.4 541.1h0M1142.9 806.3h0M1072.8 613.4h0M1354.7 632.4h0M1067.9 782.3h0M1293.7 677.7h0"/><path stroke="#ea4335" d="M1023.9 606.9h0M1369.1 636.8h0M1438.9 708.1h0M1329.9 645.1h0M1392.8 641.5h0M1404.1 715.3h0M1437.7 708.5h0M1094.9 853.6h0M1288.5 710.2h0M1035.0 630.2h0M1145.6 587.9h0M1037.6 588.5h0M1100.5 530.5h0M1336.2 664.5h0M1349.9 635.3h0M1155.5 559.0h0M1455.3 673.1h0M1067.7 599.1h0M1026.6 621.0h0M1115.1 773.5h0M1057.6 533.7h0M1104.4 756.2h0M1329.4 639.2h0M1076.3 604.4h0M1344.3 671.9h0"/><path stroke="#ea4335" d="M1118.2 586.1h0M1088.1 749.3h0M1134.1 793.0h0M1081.3 812.7h0M1353.1 687.8h0M1052.3 583.7h0M1329.0 641.9h0M1372.9 712.2h0M1428.1 687.3h0M1100.3 744.9h0M1057.7 786.2h0M1048.7 798.5h0M1364.6 714.8h0M1155.7 544.1h0M1376.1 666.4h0M1358.2 682.7h0M1319.8 674.5h0M1407.2 655.2h0M1070.1 816.9h0M1334.1 707.4h0M1114.4 829.5h0M1076.5 540.4h0M1015.5 610.8h0M1137.6 779.9h0M1063.8 826.3h0"/><path stroke="#ea4335" d="M1068.8 846.1h0M1291.8 680.8h0M1352.3 676.7h0M1101.3 765.6h0M1270.4 689.9h0M1285.2 677.0h0M1130.2 783.5h0M1344.3 651.8h0M1405.0 709.3h0M1082.8 747.6h0M1127.8 803.9h0M1078.3 836.3h0M1299.2 661.6h0M1434.8 691.8h0M1048.9 806.7h0M1086.1 543.1h0M1344.9 661.7h0M1073.5 815.5h0M1092.5 536.9h0M1386.2 694.2h0M1087.7 606.5h0M1133.7 799.1h0M1401.9 705.0h0M1397.6 657.9h0M1120.0 791.7h0"/><path stroke="#ea4335" d="M1462.9 687.0h0M1408.1 703.8h0M1075.7 586.2h0M1347.3 657.5h0M1331.5 652.2h0M1421.4 702.4h0M1120.8 568.2h0M1126.9 578.6h0M1408.5 670.5h0M1129.0 775.0h0M1139.1 580.6h0M1318.0 716.1h0M1119.1 827.4h0M1114.0 847.5h0M1078.4 551.2h0M1129.4 842.7h0M1440.7 681.0h0M1112.8 747.1h0M1144.0 805.1h0M1051.5 569.1h0M1094.9 593.6h0M1437.3 708.3h0M1132.7 567.0h0M1074.3 836.6h0M1122.1 857.9h0"/><path stroke="#ea4335" d="M1055.6 629.4h0M1383.9 711.3h0M1117.5 535.8h0M1106.2 538.2h0M1099.0 853.0h0M1420.9 726.4h0M1122.2 534.0h0M1134.4 772.7h0M1344.2 635.6h0M1372.9 701.6h0M1061.8 824.0h0M1167.6 826.2h0M1368.3 719.8h0M1063.4 811.6h0M1083.7 576.5h0M1092.6 742.9h0M1390.4 640.5h0M1406.5 709.1h0M1087.9 839.9h0M1057.0 585.6h0M1078.0 546.5h0M1095.0 568.8h0M1146.0 573.8h0M1133.8 586.9h0M1303.2 652.9h0"/><path stroke="#ea4335" d="M1134.0 823.4h0M1133.4 590.2h0M1061.0 835.0h0M1096.6 828.9h0M1106.4 762.7h0M1372.2 665.6h0M1454.1 693.1h0M1431.7 721.5h0M1076.8 604.7h0M1104.4 534.3h0M1304.7 707.4h0M1176.0 583.0h0M1083.8 563.7h0M1141.3 769.6h0M1110.2 852.2h0M1400.1 684.1h0M1114.3 848.8h0M1088.8 794.8h0M1063.7 585.0h0M1160.4 541.6h0M1051.5 563.1h0M1096.4 596.5h0M1119.7 778.4h0M1430.1 722.6h0M1438.2 699.3h0"/><path stroke="#ea4335" d="M1339.1 709.1h0M1119.8 568.5h0M1149.9 544.1h0M1378.0 667.6h0M1426.3 662.8h0M1123.0 771.2h0M1065.4 782.2h0M1435.5 682.4h0M1406.9 698.3h0M1025.2 629.6h0M1050.1 534.5h0M1134.4 857.8h0M1164.4 821.2h0M1352.2 672.1h0M1075.6 804.6h0M1364.8 735.9h0M1093.0 794.6h0M1052.9 569.3h0M1160.2 563.6h0M1020.0 622.0h0M1019.0 599.3h0M1074.8 536.3h0M1143.1 855.6h0M1325.1 666.8h0M1077.0 748.0h0"/><path stroke="#ea4335" d="M1150.1 581.7h0M1118.0 575.0h0M1146.5 770.8h0M1324.7 698.9h0M1349.8 686.7h0M1297.4 683.7h0M1368.5 694.3h0M1102.1 543.2h0M1089.3 837.4h0M1155.3 563.0h0M1361.1 727.2h0M1043.1 800.2h0M1092.4 839.7h0M1365.9 676.0h0M1117.4 537.0h0M1070.6 774.2h0M1090.0 846.7h0M1116.6 776.1h0M1077.3 783.8h0M1384.5 705.6h0M1082.5 544.3h0M1355.4 668.7h0M1368.8 686.8h0M1127.6 843.0h0M1452.2 675.4h0"/><path stroke="#ea4335" d="M1074.6 820.4h0M1058.9 838.4h0M1108.6 814.2h0M1364.5 677.0h0M1383.4 706.0h0M1087.6 541.8h0M1157.7 850.3h0M1058.6 579.6h0M1087.0 558.4h0M1326.3 655.8h0M1227.0 637.7h0M1183.0 571.4h0M1103.8 765.4h0M1020.0 604.7h0M1070.6 555.4h0M1310.1 699.0h0M1057.6 812.3h0M1336.4 656.2h0M1142.9 544.6h0M1331.2 659.4h0M1083.5 587.9h0M1122.9 568.9h0M1109.5 602.8h0"/></g></g><rect x="983.7" y="510.7" width="503.29999999999995" height="369.3" fill="none" stroke="#1c1c1c" stroke-width="2.2"/><line x1="1084.1" y1="881" x2="1084.1" y2="884" stroke="#ccc" stroke-width="1"/><text x="1084.1" y="915.3" text-anchor="middle" class="tk">−10</text><line x1="1195.5" y1="881" x2="1195.5" y2="884" stroke="#ccc" stroke-width="1"/><text x="1195.5" y="915.3" text-anchor="middle" class="tk">0</text><line x1="1306.9" y1="881" x2="1306.9" y2="884" stroke="#ccc" stroke-width="1"/><text x="1306.9" y="915.3" text-anchor="middle" class="tk">10</text><line x1="1418.3" y1="881" x2="1418.3" y2="884" stroke="#ccc" stroke-width="1"/><text x="1418.3" y="915.3" text-anchor="middle" class="tk">20</text><line x1="979.7" y1="541.4" x2="982.7" y2="541.4" stroke="#ccc" stroke-width="1"/><text x="970.2" y="551.9" text-anchor="end" class="tk">20</text><line x1="979.7" y1="613.3" x2="982.7" y2="613.3" stroke="#ccc" stroke-width="1"/><text x="970.2" y="623.8" text-anchor="end" class="tk">10</text><line x1="979.7" y1="685.2" x2="982.7" y2="685.2" stroke="#ccc" stroke-width="1"/><text x="970.2" y="695.7" text-anchor="end" class="tk">0</text><line x1="979.7" y1="757.1" x2="982.7" y2="757.1" stroke="#ccc" stroke-width="1"/><text x="970.2" y="767.6" text-anchor="end" class="tk">−10</text><line x1="979.7" y1="829.0" x2="982.7" y2="829.0" stroke="#ccc" stroke-width="1"/><text x="970.2" y="839.5" text-anchor="end" class="tk">−20</text><text x="1235.35" y="953.2" text-anchor="middle" class="t29">tSNE 1</text><text transform="translate(910.9,697.35) rotate(-90)" text-anchor="middle" class="t29">tSNE 2</text><text x="886" y="521.5" class="pl">d</text><text x="732.6" y="152" class="t29" text-anchor="middle">Cell type</text><circle cx="666.2" cy="190.7" r="13.4" fill="#66c8b9"/><text x="688.7" y="200.7" class="t29">HCC827</text><circle cx="666.2" cy="233.7" r="13.4" fill="#fcfc96"/><text x="688.7" y="243.7" class="t29">H1975</text><circle cx="666.2" cy="276.7" r="13.4" fill="#aaa5dc"/><text x="688.7" y="286.7" class="t29">H2228</text><text x="742.4" y="661" class="t29" text-anchor="middle">Batch</text><circle cx="666.6" cy="689.8" r="13.4" fill="#ea4335"/><text x="689.1" y="699.8" class="t29">CELseq2</text><circle cx="666.6" cy="733.0" r="13.4" fill="#fbbc05"/><text x="689.1" y="743.0" class="t29">10×</text><circle cx="666.6" cy="776.1999999999999" r="13.4" fill="#34a853"/><text x="689.1" y="786.1999999999999" class="t29">Dropseq</text><g shape-rendering="crispEdges"><rect x="255" y="1007.5" width="312.0" height="63.5" fill="#8dd3c7"/><rect x="567" y="1007.5" width="312.0" height="63.5" fill="#ffffb3"/><rect x="879" y="1007.5" width="312.0" height="63.5" fill="#bebada"/><rect x="1191" y="1007.5" width="311.0" height="63.5" fill="#fb8072"/></g><g><rect x="255" y="1075.5" width="312.0" height="564.0" fill="#0871b2"/><rect x="255" y="1078.2" width="312.0" height="1.9" fill="#5a3a80"/><rect x="255" y="1080.1" width="312.0" height="9.1" fill="#c00024"/><rect x="255" y="1089.2" width="312.0" height="4.5" fill="#d56278"/><rect x="255" y="1093.7" width="312.0" height="7.8" fill="#f5f5f5"/><rect x="255" y="1101.5" width="312.0" height="7.8" fill="#96c0da"/><rect x="255" y="1109.3" width="312.0" height="2.6" fill="#67a6cd"/><rect x="255" y="1115.8" width="312.0" height="3.8" fill="#67a6cd"/><rect x="255" y="1119.6" width="312.0" height="9.1" fill="#378bbf"/><rect x="255" y="1133.3" width="312.0" height="3.8" fill="#378bbf"/><rect x="255" y="1209.1" width="312.0" height="3.9" fill="#378bbf"/><rect x="255" y="1216.2" width="312.0" height="4.6" fill="#67a6cd"/><rect x="255" y="1220.8" width="312.0" height="3.2" fill="#378bbf"/><rect x="255" y="1231.1" width="312.0" height="5.9" fill="#378bbf"/><rect x="255" y="1237.0" width="312.0" height="3.9" fill="#d56278"/><rect x="255" y="1240.9" width="312.0" height="4.5" fill="#eac4cb"/><rect x="255" y="1245.4" width="312.0" height="3.9" fill="#e093a1"/><rect x="255" y="1249.3" width="312.0" height="9.1" fill="#cb314e"/><rect x="255" y="1258.4" width="312.0" height="1.9" fill="#e093a1"/><rect x="255" y="1260.3" width="312.0" height="5.8" fill="#eac4cb"/><rect x="255" y="1266.1" width="312.0" height="6.5" fill="#c6dbe8"/><rect x="255" y="1272.6" width="312.0" height="2.6" fill="#eac4cb"/><rect x="255" y="1275.2" width="312.0" height="3.3" fill="#c00024"/><rect x="255" y="1278.5" width="312.0" height="1.9" fill="#e093a1"/><rect x="255" y="1280.4" width="312.0" height="5.2" fill="#f5f5f5"/><rect x="255" y="1285.6" width="312.0" height="9.7" fill="#c00024"/><rect x="255" y="1295.3" width="312.0" height="8.4" fill="#f5f5f5"/><rect x="255" y="1303.7" width="312.0" height="6.5" fill="#96c0da"/><rect x="255" y="1317.4" width="312.0" height="7.1" fill="#c6dbe8"/><rect x="255" y="1324.5" width="312.0" height="4.5" fill="#f5f5f5"/><rect x="255" y="1329.0" width="312.0" height="4.6" fill="#c6dbe8"/><rect x="255" y="1333.6" width="312.0" height="5.1" fill="#378bbf"/><rect x="255" y="1338.7" width="312.0" height="7.8" fill="#e093a1"/><rect x="255" y="1346.5" width="312.0" height="7.5" fill="#f5f5f5"/><rect x="255" y="1354.0" width="312.0" height="3.4" fill="#c6dbe8"/><rect x="255" y="1357.4" width="312.0" height="4.0" fill="#e093a1"/><rect x="255" y="1361.4" width="312.0" height="3.4" fill="#f5f5f5"/><rect x="255" y="1364.8" width="312.0" height="10.7" fill="#eac4cb"/><rect x="255" y="1375.5" width="312.0" height="6.0" fill="#96c0da"/><rect x="255" y="1381.5" width="312.0" height="4.7" fill="#f5f5f5"/><rect x="255" y="1386.2" width="312.0" height="3.4" fill="#96c0da"/><rect x="255" y="1389.6" width="312.0" height="4.0" fill="#c6dbe8"/><rect x="567" y="1075.5" width="312.0" height="564.0" fill="#0871b2"/><rect x="567" y="1078.2" width="312.0" height="1.9" fill="#5a3a80"/><rect x="567" y="1080.1" width="312.0" height="9.1" fill="#c00024"/><rect x="567" y="1089.2" width="312.0" height="4.5" fill="#d56278"/><rect x="567" y="1093.7" width="312.0" height="3.3" fill="#f5f5f5"/><rect x="567" y="1097.0" width="312.0" height="5.8" fill="#96c0da"/><rect x="567" y="1102.8" width="312.0" height="4.5" fill="#d0a0b0"/><rect x="567" y="1107.3" width="312.0" height="3.9" fill="#a8b0c8"/><rect x="567" y="1111.2" width="312.0" height="4.5" fill="#f5f5f5"/><rect x="567" y="1115.7" width="312.0" height="10.4" fill="#378bbf"/><rect x="567" y="1148.2" width="312.0" height="7.7" fill="#96c0da"/><rect x="567" y="1209.1" width="312.0" height="3.9" fill="#378bbf"/><rect x="567" y="1230.5" width="312.0" height="7.1" fill="#378bbf"/><rect x="567" y="1237.6" width="312.0" height="3.9" fill="#904060"/><rect x="567" y="1241.5" width="312.0" height="3.9" fill="#e093a1"/><rect x="567" y="1245.4" width="312.0" height="3.9" fill="#eac4cb"/><rect x="567" y="1249.3" width="312.0" height="3.9" fill="#c00024"/><rect x="567" y="1253.2" width="312.0" height="3.2" fill="#e093a1"/><rect x="567" y="1256.4" width="312.0" height="2.6" fill="#cb314e"/><rect x="567" y="1259.0" width="312.0" height="7.1" fill="#e093a1"/><rect x="567" y="1266.1" width="312.0" height="7.8" fill="#eac4cb"/><rect x="567" y="1273.9" width="312.0" height="3.9" fill="#d56278"/><rect x="567" y="1277.8" width="312.0" height="2.6" fill="#f5f5f5"/><rect x="567" y="1280.4" width="312.0" height="5.2" fill="#c6dbe8"/><rect x="567" y="1285.6" width="312.0" height="5.2" fill="#d56278"/><rect x="567" y="1290.8" width="312.0" height="3.9" fill="#e093a1"/><rect x="567" y="1294.7" width="312.0" height="4.5" fill="#1a6890"/><rect x="567" y="1299.2" width="312.0" height="4.5" fill="#f5f5f5"/><rect x="567" y="1303.7" width="312.0" height="5.3" fill="#c6dbe8"/><rect x="567" y="1309.0" width="312.0" height="2.5" fill="#96c0da"/><rect x="567" y="1311.5" width="312.0" height="3.3" fill="#70a0b8"/><rect x="567" y="1314.8" width="312.0" height="5.8" fill="#f5f5f5"/><rect x="567" y="1324.5" width="312.0" height="3.3" fill="#67a6cd"/><rect x="567" y="1332.3" width="312.0" height="3.2" fill="#67a6cd"/><rect x="567" y="1339.4" width="312.0" height="8.6" fill="#b0a8c8"/><rect x="567" y="1348.0" width="312.0" height="3.4" fill="#c8a0b0"/><rect x="567" y="1351.4" width="312.0" height="6.0" fill="#c6dbe8"/><rect x="567" y="1357.4" width="312.0" height="4.0" fill="#378bbf"/><rect x="567" y="1361.4" width="312.0" height="3.4" fill="#96c0da"/><rect x="567" y="1364.8" width="312.0" height="4.0" fill="#f5f5f5"/><rect x="567" y="1368.8" width="312.0" height="3.4" fill="#7898b0"/><rect x="567" y="1372.2" width="312.0" height="6.0" fill="#96c0da"/><rect x="567" y="1378.2" width="312.0" height="4.0" fill="#378bbf"/><rect x="567" y="1382.2" width="312.0" height="4.0" fill="#96c0da"/><rect x="567" y="1386.2" width="312.0" height="7.4" fill="#c6dbe8"/><rect x="879" y="1075.5" width="312.0" height="564.0" fill="#0871b2"/><rect x="879" y="1079.4" width="312.0" height="2.6" fill="#378bbf"/><rect x="879" y="1082.0" width="312.0" height="3.3" fill="#67a6cd"/><rect x="879" y="1085.3" width="312.0" height="1.3" fill="#a0a0b0"/><rect x="879" y="1086.6" width="312.0" height="2.6" fill="#c00024"/><rect x="879" y="1089.2" width="312.0" height="8.4" fill="#f5f5f5"/><rect x="879" y="1097.6" width="312.0" height="3.9" fill="#c6dbe8"/><rect x="879" y="1101.5" width="312.0" height="6.5" fill="#67a6cd"/><rect x="879" y="1115.8" width="312.0" height="10.3" fill="#378bbf"/><rect x="879" y="1128.7" width="312.0" height="4.6" fill="#378bbf"/><rect x="879" y="1139.7" width="312.0" height="3.3" fill="#96c0da"/><rect x="879" y="1143.0" width="312.0" height="5.2" fill="#f5f5f5"/><rect x="879" y="1271.3" width="312.0" height="3.9" fill="#f5f5f5"/><rect x="879" y="1275.2" width="312.0" height="3.9" fill="#d56278"/><rect x="879" y="1279.1" width="312.0" height="3.9" fill="#e093a1"/><rect x="879" y="1283.0" width="312.0" height="2.6" fill="#a05070"/><rect x="879" y="1294.7" width="312.0" height="6.5" fill="#f5f5f5"/><rect x="879" y="1301.2" width="312.0" height="2.5" fill="#c6dbe8"/><rect x="879" y="1303.7" width="312.0" height="4.6" fill="#67a6cd"/><rect x="879" y="1392.2" width="312.0" height="4.7" fill="#c6dbe8"/><rect x="879" y="1396.9" width="312.0" height="4.1" fill="#1a6898"/><rect x="879" y="1401.0" width="312.0" height="3.3" fill="#96c0da"/><rect x="879" y="1404.3" width="312.0" height="4.0" fill="#cb314e"/><rect x="879" y="1408.3" width="312.0" height="4.0" fill="#f5f5f5"/><rect x="879" y="1412.3" width="312.0" height="7.4" fill="#cb314e"/><rect x="879" y="1419.7" width="312.0" height="3.3" fill="#c00024"/><rect x="879" y="1423.0" width="312.0" height="2.7" fill="#3a4a80"/><rect x="879" y="1425.7" width="312.0" height="6.7" fill="#c6dbe8"/><rect x="879" y="1432.4" width="312.0" height="6.7" fill="#d0d0e0"/><rect x="879" y="1439.1" width="312.0" height="5.4" fill="#e093a1"/><rect x="879" y="1444.5" width="312.0" height="5.3" fill="#f5f5f5"/><rect x="879" y="1449.8" width="312.0" height="4.1" fill="#b0b4cc"/><rect x="879" y="1453.9" width="312.0" height="4.7" fill="#96c0da"/><rect x="1191" y="1075.5" width="311.0" height="564.0" fill="#0871b2"/><rect x="1191" y="1078.2" width="311.0" height="3.8" fill="#802050"/><rect x="1191" y="1082.0" width="311.0" height="3.3" fill="#8098c0"/><rect x="1191" y="1085.3" width="311.0" height="3.9" fill="#f5f5f5"/><rect x="1191" y="1089.2" width="311.0" height="61.6" fill="#c00024"/><rect x="1191" y="1150.8" width="311.0" height="5.1" fill="#e093a1"/><rect x="1191" y="1155.9" width="311.0" height="15.6" fill="#c00024"/><rect x="1191" y="1171.5" width="311.0" height="6.5" fill="#e093a1"/><rect x="1191" y="1178.0" width="311.0" height="16.8" fill="#c00024"/><rect x="1191" y="1194.8" width="311.0" height="7.8" fill="#cb314e"/><rect x="1191" y="1202.6" width="311.0" height="3.3" fill="#702060"/><rect x="1191" y="1234.4" width="311.0" height="4.5" fill="#378bbf"/><rect x="1191" y="1238.9" width="311.0" height="7.8" fill="#e093a1"/><rect x="1191" y="1246.7" width="311.0" height="2.6" fill="#67a6cd"/><rect x="1191" y="1404.3" width="311.0" height="4.0" fill="#378bbf"/><rect x="1191" y="1423.0" width="311.0" height="3.4" fill="#378bbf"/><rect x="1191" y="1457.9" width="311.0" height="4.0" fill="#378bbf"/><rect x="1191" y="1461.9" width="311.0" height="3.3" fill="#d56278"/><rect x="1191" y="1465.2" width="311.0" height="5.4" fill="#f5f5f5"/><rect x="1191" y="1470.6" width="311.0" height="6.0" fill="#eac4cb"/><rect x="1191" y="1476.6" width="311.0" height="3.4" fill="#f5f5f5"/><rect x="1191" y="1480.0" width="311.0" height="2.0" fill="#c6dbe8"/><rect x="1191" y="1482.0" width="311.0" height="4.7" fill="#eac4cb"/><rect x="1191" y="1486.7" width="311.0" height="5.3" fill="#f5f5f5"/><rect x="1191" y="1492.0" width="311.0" height="10.1" fill="#e093a1"/><rect x="1191" y="1502.1" width="311.0" height="10.7" fill="#eac4cb"/><rect x="1191" y="1512.8" width="311.0" height="4.0" fill="#e093a1"/><rect x="1191" y="1516.8" width="311.0" height="3.4" fill="#d56278"/><rect x="1191" y="1520.2" width="311.0" height="6.7" fill="#cb314e"/><rect x="1191" y="1526.9" width="311.0" height="2.0" fill="#a0a8b8"/><rect x="1191" y="1528.9" width="311.0" height="2.7" fill="#67a6cd"/><rect x="1191" y="1531.6" width="311.0" height="2.6" fill="#378bbf"/><rect x="1191" y="1534.2" width="311.0" height="5.4" fill="#c0c8e0"/><rect x="1191" y="1539.6" width="311.0" height="4.0" fill="#98a8b8"/><rect x="1191" y="1543.6" width="311.0" height="4.0" fill="#378bbf"/><rect x="1191" y="1547.6" width="311.0" height="5.4" fill="#67a6cd"/><rect x="1191" y="1553.0" width="311.0" height="2.7" fill="#96c0da"/><rect x="1191" y="1555.7" width="311.0" height="14.7" fill="#c6dbe8"/><rect x="1191" y="1570.4" width="311.0" height="13.4" fill="#67a6cd"/><rect x="1191" y="1583.8" width="311.0" height="8.0" fill="#d4d4e6"/><rect x="1191" y="1591.8" width="311.0" height="4.1" fill="#f5f5f5"/><rect x="1191" y="1595.9" width="311.0" height="5.3" fill="#d0d8f0"/><rect x="1191" y="1601.2" width="311.0" height="2.7" fill="#e0d0c8"/><rect x="1191" y="1603.9" width="311.0" height="10.7" fill="#f5f5f5"/><rect x="1191" y="1614.6" width="311.0" height="10.7" fill="#c6dbe8"/><rect x="1191" y="1625.3" width="311.0" height="4.1" fill="#96c0da"/><rect x="1191" y="1629.4" width="311.0" height="8.6" fill="#c6dbe8"/><rect x="1191" y="1638.0" width="311.0" height="1.5" fill="#96c0da"/></g><g shape-rendering="crispEdges"><rect x="61.80" y="1045.6" width="15.28" height="84.5" fill="#0871b2"/><rect x="76.78" y="1045.6" width="15.28" height="84.5" fill="#378bbf"/><rect x="91.76" y="1045.6" width="15.28" height="84.5" fill="#67a6cd"/><rect x="106.75" y="1045.6" width="15.28" height="84.5" fill="#96c0da"/><rect x="121.73" y="1045.6" width="15.28" height="84.5" fill="#c6dbe8"/><rect x="136.71" y="1045.6" width="15.28" height="84.5" fill="#f5f5f5"/><rect x="151.69" y="1045.6" width="15.28" height="84.5" fill="#eac4cb"/><rect x="166.67" y="1045.6" width="15.28" height="84.5" fill="#e093a1"/><rect x="181.65" y="1045.6" width="15.28" height="84.5" fill="#d56278"/><rect x="196.64" y="1045.6" width="15.28" height="84.5" fill="#cb314e"/><rect x="211.62" y="1045.6" width="15.28" height="84.5" fill="#c00024"/></g><line x1="61.8" y1="1130.3999999999999" x2="226.6" y2="1130.3999999999999" stroke="#888" stroke-width="1.2"/><line x1="69.2" y1="1130.6" x2="69.2" y2="1134.6" stroke="#999" stroke-width="1"/><line x1="94.2" y1="1130.6" x2="94.2" y2="1134.6" stroke="#999" stroke-width="1"/><line x1="119.2" y1="1130.6" x2="119.2" y2="1134.6" stroke="#999" stroke-width="1"/><line x1="143.9" y1="1130.6" x2="143.9" y2="1134.6" stroke="#999" stroke-width="1"/><line x1="169" y1="1130.6" x2="169" y2="1134.6" stroke="#999" stroke-width="1"/><line x1="194.2" y1="1130.6" x2="194.2" y2="1134.6" stroke="#999" stroke-width="1"/><line x1="219.3" y1="1130.6" x2="219.3" y2="1134.6" stroke="#999" stroke-width="1"/><text x="68.6" y="1158.7" text-anchor="middle" class="t20">-1.5</text><text x="144" y="1158.7" text-anchor="middle" class="t20">0</text><text x="194.2" y="1158.7" text-anchor="middle" class="t20">1</text><text x="144.2" y="1034" text-anchor="middle" class="t29">Color key</text><text x="144.2" y="1189" text-anchor="middle" class="t21">Value</text><g shape-rendering="crispEdges"><rect x="61.80" y="1716.8" width="15.28" height="84.5" fill="#f0f0f0"/><rect x="76.78" y="1716.8" width="15.28" height="84.5" fill="#d8d8d8"/><rect x="91.76" y="1716.8" width="15.28" height="84.5" fill="#c0c0c0"/><rect x="106.75" y="1716.8" width="15.28" height="84.5" fill="#a8a8a8"/><rect x="121.73" y="1716.8" width="15.28" height="84.5" fill="#909090"/><rect x="136.71" y="1716.8" width="15.28" height="84.5" fill="#787878"/><rect x="151.69" y="1716.8" width="15.28" height="84.5" fill="#606060"/><rect x="166.67" y="1716.8" width="15.28" height="84.5" fill="#484848"/><rect x="181.65" y="1716.8" width="15.28" height="84.5" fill="#303030"/><rect x="196.64" y="1716.8" width="15.28" height="84.5" fill="#181818"/><rect x="211.62" y="1716.8" width="15.28" height="84.5" fill="#000000"/></g><line x1="61.8" y1="1801.6" x2="226.6" y2="1801.6" stroke="#888" stroke-width="1.2"/><line x1="69" y1="1801.8" x2="69" y2="1805.8" stroke="#999" stroke-width="1"/><line x1="105.8" y1="1801.8" x2="105.8" y2="1805.8" stroke="#999" stroke-width="1"/><line x1="137.2" y1="1801.8" x2="137.2" y2="1805.8" stroke="#999" stroke-width="1"/><line x1="168.5" y1="1801.8" x2="168.5" y2="1805.8" stroke="#999" stroke-width="1"/><line x1="202.2" y1="1801.8" x2="202.2" y2="1805.8" stroke="#999" stroke-width="1"/><text x="69.6" y="1827.6" text-anchor="middle" class="t20">0</text><text x="102.4" y="1827.6" text-anchor="middle" class="t20">2</text><text x="135.9" y="1827.6" text-anchor="middle" class="t20">4</text><text x="168.1" y="1827.6" text-anchor="middle" class="t20">6</text><text x="202.9" y="1827.6" text-anchor="middle" class="t20">8</text><text x="144.2" y="1702.5" text-anchor="middle" class="t29">Color key</text><text x="144.2" y="1856" text-anchor="middle" class="t21">Value</text><text x="-1" y="1016.3" class="pl">e</text><text x="-1" y="1688" class="pl">f</text><text transform="translate(238.5,1322.4) rotate(-90)" text-anchor="middle" class="t29">Intrinsic genes</text><text transform="translate(238.5,1995.5) rotate(-90)" text-anchor="middle" class="t29">Intrinsic genes</text><g shape-rendering="crispEdges"><rect x="255.9" y="1678.4" width="283.1" height="30.8" fill="#8dd3c7"/><rect x="539" y="1678.4" width="171.0" height="30.8" fill="#ffffb3"/><rect x="710" y="1678.4" width="377.0" height="30.8" fill="#bebada"/><rect x="1087" y="1678.4" width="412.4" height="30.8" fill="#fb8072"/><rect x="255.9" y="1711" width="82.1" height="31.5" fill="#ea4335"/><rect x="338" y="1711" width="158.3" height="31.5" fill="#fbbc05"/><rect x="496.3" y="1711" width="42.7" height="31.5" fill="#34a853"/><rect x="539" y="1711" width="18.9" height="31.5" fill="#ea4335"/><rect x="557.9" y="1711" width="118.6" height="31.5" fill="#fbbc05"/><rect x="676.5" y="1711" width="33.5" height="31.5" fill="#34a853"/><rect x="710" y="1711" width="70.0" height="31.5" fill="#ea4335"/><rect x="780" y="1711" width="246.0" height="31.5" fill="#fbbc05"/><rect x="1026" y="1711" width="61.0" height="31.5" fill="#34a853"/><rect x="1087" y="1711" width="71.8" height="31.5" fill="#ea4335"/><rect x="1158.8" y="1711" width="278.2" height="31.5" fill="#fbbc05"/><rect x="1437" y="1711" width="62.4" height="31.5" fill="#34a853"/><rect x="255.9" y="1750.9" width="1243.5" height="560.9" fill="#f1f1f1"/></g><defs><filter id="z1" x="0" y="0" width="1" height="1" color-interpolation-filters="sRGB"><feTurbulence type="fractalNoise" baseFrequency="0.9 0.3" numOctaves="2" seed="8" result="a"/><feTurbulence type="fractalNoise" baseFrequency="0.004 0.25" numOctaves="1" seed="18" result="b"/><feColorMatrix in="a" type="matrix" values="0 0 0 0 0 0 0 0 0 0 0 0 0 0 0 1 0 0 0 0" result="a1"/><feColorMatrix in="b" type="matrix" values="0 0 0 0 0 0 0 0 0 0 0 0 0 0 0 1 0 0 0 0" result="b1"/><feComposite in="a1" in2="b1" operator="arithmetic" k1="0" k2="6" k3="1.5" k4="-3.6" result="c"/><feGaussianBlur stdDeviation="0.45" result="d"/><feComposite in="SourceGraphic" in2="d" operator="in"/></filter><filter id="z2" x="0" y="0" width="1" height="1" color-interpolation-filters="sRGB"><feTurbulence type="fractalNoise" baseFrequency="0.9 0.3" numOctaves="2" seed="15" result="a"/><feTurbulence type="fractalNoise" baseFrequency="0.004 0.25" numOctaves="1" seed="31" result="b"/><feColorMatrix in="a" type="matrix" values="0 0 0 0 0 0 0 0 0 0 0 0 0 0 0 1 0 0 0 0" result="a1"/><feColorMatrix in="b" type="matrix" values="0 0 0 0 0 0 0 0 0 0 0 0 0 0 0 1 0 0 0 0" result="b1"/><feComposite in="a1" in2="b1" operator="arithmetic" k1="0" k2="6" k3="1.5" k4="-4.1" result="c"/><feGaussianBlur stdDeviation="0.45" result="d"/><feComposite in="SourceGraphic" in2="d" operator="in"/></filter><filter id="z3" x="0" y="0" width="1" height="1" color-interpolation-filters="sRGB"><feTurbulence type="fractalNoise" baseFrequency="0.9 0.3" numOctaves="2" seed="22" result="a"/><feTurbulence type="fractalNoise" baseFrequency="0.004 0.25" numOctaves="1" seed="44" result="b"/><feColorMatrix in="a" type="matrix" values="0 0 0 0 0 0 0 0 0 0 0 0 0 0 0 1 0 0 0 0" result="a1"/><feColorMatrix in="b" type="matrix" values="0 0 0 0 0 0 0 0 0 0 0 0 0 0 0 1 0 0 0 0" result="b1"/><feComposite in="a1" in2="b1" operator="arithmetic" k1="0" k2="6" k3="1.5" k4="-4.5" result="c"/><feGaussianBlur stdDeviation="0.45" result="d"/><feComposite in="SourceGraphic" in2="d" operator="in"/></filter><filter id="z4" x="0" y="0" width="1" height="1" color-interpolation-filters="sRGB"><feTurbulence type="fractalNoise" baseFrequency="0.9 0.3" numOctaves="2" seed="29" result="a"/><feTurbulence type="fractalNoise" baseFrequency="0.004 0.25" numOctaves="1" seed="57" result="b"/><feColorMatrix in="a" type="matrix" values="0 0 0 0 0 0 0 0 0 0 0 0 0 0 0 1 0 0 0 0" result="a1"/><feColorMatrix in="b" type="matrix" values="0 0 0 0 0 0 0 0 0 0 0 0 0 0 0 1 0 0 0 0" result="b1"/><feComposite in="a1" in2="b1" operator="arithmetic" k1="0" k2="6" k3="1.5" k4="-4.75" result="c"/><feGaussianBlur stdDeviation="0.45" result="d"/><feComposite in="SourceGraphic" in2="d" operator="in"/></filter><filter id="z5" x="0" y="0" width="1" height="1" color-interpolation-filters="sRGB"><feTurbulence type="fractalNoise" baseFrequency="0.9 0.3" numOctaves="2" seed="36" result="a"/><feTurbulence type="fractalNoise" baseFrequency="0.004 0.25" numOctaves="1" seed="70" result="b"/><feColorMatrix in="a" type="matrix" values="0 0 0 0 0 0 0 0 0 0 0 0 0 0 0 1 0 0 0 0" result="a1"/><feColorMatrix in="b" type="matrix" values="0 0 0 0 0 0 0 0 0 0 0 0 0 0 0 1 0 0 0 0" result="b1"/><feComposite in="a1" in2="b1" operator="arithmetic" k1="0" k2="6" k3="1.5" k4="-5.1" result="c"/><feGaussianBlur stdDeviation="0.45" result="d"/><feComposite in="SourceGraphic" in2="d" operator="in"/></filter><filter id="z6" x="0" y="0" width="1" height="1" color-interpolation-filters="sRGB"><feTurbulence type="fractalNoise" baseFrequency="0.9 0.3" numOctaves="2" seed="43" result="a"/><feTurbulence type="fractalNoise" baseFrequency="0.004 0.25" numOctaves="1" seed="83" result="b"/><feColorMatrix in="a" type="matrix" values="0 0 0 0 0 0 0 0 0 0 0 0 0 0 0 1 0 0 0 0" result="a1"/><feColorMatrix in="b" type="matrix" values="0 0 0 0 0 0 0 0 0 0 0 0 0 0 0 1 0 0 0 0" result="b1"/><feComposite in="a1" in2="b1" operator="arithmetic" k1="0" k2="6" k3="1.5" k4="-4.3" result="c"/><feGaussianBlur stdDeviation="0.45" result="d"/><feComposite in="SourceGraphic" in2="d" operator="in"/></filter><filter id="z7" x="0" y="0" width="1" height="1" color-interpolation-filters="sRGB"><feTurbulence type="fractalNoise" baseFrequency="0.9 0.3" numOctaves="2" seed="50" result="a"/><feTurbulence type="fractalNoise" baseFrequency="0.004 0.25" numOctaves="1" seed="96" result="b"/><feColorMatrix in="a" type="matrix" values="0 0 0 0 0 0 0 0 0 0 0 0 0 0 0 1 0 0 0 0" result="a1"/><feColorMatrix in="b" type="matrix" values="0 0 0 0 0 0 0 0 0 0 0 0 0 0 0 1 0 0 0 0" result="b1"/><feComposite in="a1" in2="b1" operator="arithmetic" k1="0" k2="6" k3="1.5" k4="-3.8" result="c"/><feGaussianBlur stdDeviation="0.45" result="d"/><feComposite in="SourceGraphic" in2="d" operator="in"/></filter><filter id="z8" x="0" y="0" width="1" height="1" color-interpolation-filters="sRGB"><feTurbulence type="fractalNoise" baseFrequency="0.9 0.3" numOctaves="2" seed="57" result="a"/><feTurbulence type="fractalNoise" baseFrequency="0.004 0.25" numOctaves="1" seed="109" result="b"/><feColorMatrix in="a" type="matrix" values="0 0 0 0 0 0 0 0 0 0 0 0 0 0 0 1 0 0 0 0" result="a1"/><feColorMatrix in="b" type="matrix" values="0 0 0 0 0 0 0 0 0 0 0 0 0 0 0 1 0 0 0 0" result="b1"/><feComposite in="a1" in2="b1" operator="arithmetic" k1="0" k2="6" k3="1.5" k4="-4.4" result="c"/><feGaussianBlur stdDeviation="0.45" result="d"/><feComposite in="SourceGraphic" in2="d" operator="in"/></filter><filter id="z9" x="0" y="0" width="1" height="1" color-interpolation-filters="sRGB"><feTurbulence type="fractalNoise" baseFrequency="0.9 0.3" numOctaves="2" seed="64" result="a"/><feTurbulence type="fractalNoise" baseFrequency="0.004 0.25" numOctaves="1" seed="122" result="b"/><feColorMatrix in="a" type="matrix" values="0 0 0 0 0 0 0 0 0 0 0 0 0 0 0 1 0 0 0 0" result="a1"/><feColorMatrix in="b" type="matrix" values="0 0 0 0 0 0 0 0 0 0 0 0 0 0 0 1 0 0 0 0" result="b1"/><feComposite in="a1" in2="b1" operator="arithmetic" k1="0" k2="6" k3="1.5" k4="-3.75" result="c"/><feGaussianBlur stdDeviation="0.45" result="d"/><feComposite in="SourceGraphic" in2="d" operator="in"/></filter><filter id="z10" x="0" y="0" width="1" height="1" color-interpolation-filters="sRGB"><feTurbulence type="fractalNoise" baseFrequency="0.9 0.3" numOctaves="2" seed="71" result="a"/><feTurbulence type="fractalNoise" baseFrequency="0.004 0.25" numOctaves="1" seed="135" result="b"/><feColorMatrix in="a" type="matrix" values="0 0 0 0 0 0 0 0 0 0 0 0 0 0 0 1 0 0 0 0" result="a1"/><feColorMatrix in="b" type="matrix" values="0 0 0 0 0 0 0 0 0 0 0 0 0 0 0 1 0 0 0 0" result="b1"/><feComposite in="a1" in2="b1" operator="arithmetic" k1="0" k2="6" k3="1.5" k4="-4.25" result="c"/><feGaussianBlur stdDeviation="0.45" result="d"/><feComposite in="SourceGraphic" in2="d" operator="in"/></filter><filter id="z11" x="0" y="0" width="1" height="1" color-interpolation-filters="sRGB"><feTurbulence type="fractalNoise" baseFrequency="0.9 0.3" numOctaves="2" seed="78" result="a"/><feTurbulence type="fractalNoise" baseFrequency="0.004 0.25" numOctaves="1" seed="148" result="b"/><feColorMatrix in="a" type="matrix" values="0 0 0 0 0 0 0 0 0 0 0 0 0 0 0 1 0 0 0 0" result="a1"/><feColorMatrix in="b" type="matrix" values="0 0 0 0 0 0 0 0 0 0 0 0 0 0 0 1 0 0 0 0" result="b1"/><feComposite in="a1" in2="b1" operator="arithmetic" k1="0" k2="6" k3="1.5" k4="-4.35" result="c"/><feGaussianBlur stdDeviation="0.45" result="d"/><feComposite in="SourceGraphic" in2="d" operator="in"/></filter><filter id="z12" x="0" y="0" width="1" height="1" color-interpolation-filters="sRGB"><feTurbulence type="fractalNoise" baseFrequency="0.9 0.3" numOctaves="2" seed="85" result="a"/><feTurbulence type="fractalNoise" baseFrequency="0.004 0.25" numOctaves="1" seed="161" result="b"/><feColorMatrix in="a" type="matrix" values="0 0 0 0 0 0 0 0 0 0 0 0 0 0 0 1 0 0 0 0" result="a1"/><feColorMatrix in="b" type="matrix" values="0 0 0 0 0 0 0 0 0 0 0 0 0 0 0 1 0 0 0 0" result="b1"/><feComposite in="a1" in2="b1" operator="arithmetic" k1="0" k2="6" k3="1.5" k4="-4.05" result="c"/><feGaussianBlur stdDeviation="0.45" result="d"/><feComposite in="SourceGraphic" in2="d" operator="in"/></filter><filter id="z13" x="0" y="0" width="1" height="1" color-interpolation-filters="sRGB"><feTurbulence type="fractalNoise" baseFrequency="0.9 0.3" numOctaves="2" seed="92" result="a"/><feTurbulence type="fractalNoise" baseFrequency="0.004 0.25" numOctaves="1" seed="174" result="b"/><feColorMatrix in="a" type="matrix" values="0 0 0 0 0 0 0 0 0 0 0 0 0 0 0 1 0 0 0 0" result="a1"/><feColorMatrix in="b" type="matrix" values="0 0 0 0 0 0 0 0 0 0 0 0 0 0 0 1 0 0 0 0" result="b1"/><feComposite in="a1" in2="b1" operator="arithmetic" k1="0" k2="6" k3="1.5" k4="-4.45" result="c"/><feGaussianBlur stdDeviation="0.45" result="d"/><feComposite in="SourceGraphic" in2="d" operator="in"/></filter><filter id="z14" x="0" y="0" width="1" height="1" color-interpolation-filters="sRGB"><feTurbulence type="fractalNoise" baseFrequency="0.9 0.3" numOctaves="2" seed="99" result="a"/><feTurbulence type="fractalNoise" baseFrequency="0.004 0.25" numOctaves="1" seed="187" result="b"/><feColorMatrix in="a" type="matrix" values="0 0 0 0 0 0 0 0 0 0 0 0 0 0 0 1 0 0 0 0" result="a1"/><feColorMatrix in="b" type="matrix" values="0 0 0 0 0 0 0 0 0 0 0 0 0 0 0 1 0 0 0 0" result="b1"/><feComposite in="a1" in2="b1" operator="arithmetic" k1="0" k2="6" k3="1.5" k4="-3.85" result="c"/><feGaussianBlur stdDeviation="0.45" result="d"/><feComposite in="SourceGraphic" in2="d" operator="in"/></filter><filter id="z15" x="0" y="0" width="1" height="1" color-interpolation-filters="sRGB"><feTurbulence type="fractalNoise" baseFrequency="0.9 0.3" numOctaves="2" seed="106" result="a"/><feTurbulence type="fractalNoise" baseFrequency="0.004 0.25" numOctaves="1" seed="200" result="b"/><feColorMatrix in="a" type="matrix" values="0 0 0 0 0 0 0 0 0 0 0 0 0 0 0 1 0 0 0 0" result="a1"/><feColorMatrix in="b" type="matrix" values="0 0 0 0 0 0 0 0 0 0 0 0 0 0 0 1 0 0 0 0" result="b1"/><feComposite in="a1" in2="b1" operator="arithmetic" k1="0" k2="6" k3="1.5" k4="-3.95" result="c"/><feGaussianBlur stdDeviation="0.45" result="d"/><feComposite in="SourceGraphic" in2="d" operator="in"/></filter><filter id="z16" x="0" y="0" width="1" height="1" color-interpolation-filters="sRGB"><feTurbulence type="fractalNoise" baseFrequency="0.9 0.3" numOctaves="2" seed="113" result="a"/><feTurbulence type="fractalNoise" baseFrequency="0.004 0.25" numOctaves="1" seed="213" result="b"/><feColorMatrix in="a" type="matrix" values="0 0 0 0 0 0 0 0 0 0 0 0 0 0 0 1 0 0 0 0" result="a1"/><feColorMatrix in="b" type="matrix" values="0 0 0 0 0 0 0 0 0 0 0 0 0 0 0 1 0 0 0 0" result="b1"/><feComposite in="a1" in2="b1" operator="arithmetic" k1="0" k2="6" k3="1.5" k4="-5.2" result="c"/><feGaussianBlur stdDeviation="0.45" result="d"/><feComposite in="SourceGraphic" in2="d" operator="in"/></filter><filter id="z17" x="0" y="0" width="1" height="1" color-interpolation-filters="sRGB"><feTurbulence type="fractalNoise" baseFrequency="0.9 0.3" numOctaves="2" seed="120" result="a"/><feTurbulence type="fractalNoise" baseFrequency="0.004 0.25" numOctaves="1" seed="226" result="b"/><feColorMatrix in="a" type="matrix" values="0 0 0 0 0 0 0 0 0 0 0 0 0 0 0 1 0 0 0 0" result="a1"/><feColorMatrix in="b" type="matrix" values="0 0 0 0 0 0 0 0 0 0 0 0 0 0 0 1 0 0 0 0" result="b1"/><feComposite in="a1" in2="b1" operator="arithmetic" k1="0" k2="6" k3="1.5" k4="-4.8" result="c"/><feGaussianBlur stdDeviation="0.45" result="d"/><feComposite in="SourceGraphic" in2="d" operator="in"/></filter><filter id="z18" x="0" y="0" width="1" height="1" color-interpolation-filters="sRGB"><feTurbulence type="fractalNoise" baseFrequency="0.9 0.3" numOctaves="2" seed="127" result="a"/><feTurbulence type="fractalNoise" baseFrequency="0.004 0.25" numOctaves="1" seed="239" result="b"/><feColorMatrix in="a" type="matrix" values="0 0 0 0 0 0 0 0 0 0 0 0 0 0 0 1 0 0 0 0" result="a1"/><feColorMatrix in="b" type="matrix" values="0 0 0 0 0 0 0 0 0 0 0 0 0 0 0 1 0 0 0 0" result="b1"/><feComposite in="a1" in2="b1" operator="arithmetic" k1="0" k2="6" k3="1.5" k4="-4.0" result="c"/><feGaussianBlur stdDeviation="0.45" result="d"/><feComposite in="SourceGraphic" in2="d" operator="in"/></filter><filter id="z19" x="0" y="0" width="1" height="1" color-interpolation-filters="sRGB"><feTurbulence type="fractalNoise" baseFrequency="0.9 0.3" numOctaves="2" seed="134" result="a"/><feTurbulence type="fractalNoise" baseFrequency="0.004 0.25" numOctaves="1" seed="252" result="b"/><feColorMatrix in="a" type="matrix" values="0 0 0 0 0 0 0 0 0 0 0 0 0 0 0 1 0 0 0 0" result="a1"/><feColorMatrix in="b" type="matrix" values="0 0 0 0 0 0 0 0 0 0 0 0 0 0 0 1 0 0 0 0" result="b1"/><feComposite in="a1" in2="b1" operator="arithmetic" k1="0" k2="6" k3="1.5" k4="-5.15" result="c"/><feGaussianBlur stdDeviation="0.45" result="d"/><feComposite in="SourceGraphic" in2="d" operator="in"/></filter><filter id="z20" x="0" y="0" width="1" height="1" color-interpolation-filters="sRGB"><feTurbulence type="fractalNoise" baseFrequency="0.9 0.3" numOctaves="2" seed="141" result="a"/><feTurbulence type="fractalNoise" baseFrequency="0.004 0.25" numOctaves="1" seed="265" result="b"/><feColorMatrix in="a" type="matrix" values="0 0 0 0 0 0 0 0 0 0 0 0 0 0 0 1 0 0 0 0" result="a1"/><feColorMatrix in="b" type="matrix" values="0 0 0 0 0 0 0 0 0 0 0 0 0 0 0 1 0 0 0 0" result="b1"/><feComposite in="a1" in2="b1" operator="arithmetic" k1="0" k2="6" k3="1.5" k4="-4.1" result="c"/><feGaussianBlur stdDeviation="0.45" result="d"/><feComposite in="SourceGraphic" in2="d" operator="in"/></filter><filter id="z21" x="0" y="0" width="1" height="1" color-interpolation-filters="sRGB"><feTurbulence type="fractalNoise" baseFrequency="0.9 0.3" numOctaves="2" seed="148" result="a"/><feTurbulence type="fractalNoise" baseFrequency="0.004 0.25" numOctaves="1" seed="278" result="b"/><feColorMatrix in="a" type="matrix" values="0 0 0 0 0 0 0 0 0 0 0 0 0 0 0 1 0 0 0 0" result="a1"/><feColorMatrix in="b" type="matrix" values="0 0 0 0 0 0 0 0 0 0 0 0 0 0 0 1 0 0 0 0" result="b1"/><feComposite in="a1" in2="b1" operator="arithmetic" k1="0" k2="6" k3="1.5" k4="-4.2" result="c"/><feGaussianBlur stdDeviation="0.45" result="d"/><feComposite in="SourceGraphic" in2="d" operator="in"/></filter><filter id="z22" x="0" y="0" width="1" height="1" color-interpolation-filters="sRGB"><feTurbulence type="fractalNoise" baseFrequency="0.9 0.3" numOctaves="2" seed="155" result="a"/><feTurbulence type="fractalNoise" baseFrequency="0.004 0.25" numOctaves="1" seed="291" result="b"/><feColorMatrix in="a" type="matrix" values="0 0 0 0 0 0 0 0 0 0 0 0 0 0 0 1 0 0 0 0" result="a1"/><feColorMatrix in="b" type="matrix" values="0 0 0 0 0 0 0 0 0 0 0 0 0 0 0 1 0 0 0 0" result="b1"/><feComposite in="a1" in2="b1" operator="arithmetic" k1="0" k2="6" k3="1.5" k4="-3.9" result="c"/><feGaussianBlur stdDeviation="0.45" result="d"/><feComposite in="SourceGraphic" in2="d" operator="in"/></filter><filter id="z23" x="0" y="0" width="1" height="1" color-interpolation-filters="sRGB"><feTurbulence type="fractalNoise" baseFrequency="0.9 0.3" numOctaves="2" seed="162" result="a"/><feTurbulence type="fractalNoise" baseFrequency="0.004 0.25" numOctaves="1" seed="304" result="b"/><feColorMatrix in="a" type="matrix" values="0 0 0 0 0 0 0 0 0 0 0 0 0 0 0 1 0 0 0 0" result="a1"/><feColorMatrix in="b" type="matrix" values="0 0 0 0 0 0 0 0 0 0 0 0 0 0 0 1 0 0 0 0" result="b1"/><feComposite in="a1" in2="b1" operator="arithmetic" k1="0" k2="6" k3="1.5" k4="-3.4" result="c"/><feGaussianBlur stdDeviation="0.45" result="d"/><feComposite in="SourceGraphic" in2="d" operator="in"/></filter><filter id="z24" x="0" y="0" width="1" height="1" color-interpolation-filters="sRGB"><feTurbulence type="fractalNoise" baseFrequency="0.9 0.3" numOctaves="2" seed="169" result="a"/><feTurbulence type="fractalNoise" baseFrequency="0.004 0.25" numOctaves="1" seed="317" result="b"/><feColorMatrix in="a" type="matrix" values="0 0 0 0 0 0 0 0 0 0 0 0 0 0 0 1 0 0 0 0" result="a1"/><feColorMatrix in="b" type="matrix" values="0 0 0 0 0 0 0 0 0 0 0 0 0 0 0 1 0 0 0 0" result="b1"/><feComposite in="a1" in2="b1" operator="arithmetic" k1="0" k2="6" k3="1.5" k4="-4.6" result="c"/><feGaussianBlur stdDeviation="0.45" result="d"/><feComposite in="SourceGraphic" in2="d" operator="in"/></filter><filter id="z25" x="0" y="0" width="1" height="1" color-interpolation-filters="sRGB"><feTurbulence type="fractalNoise" baseFrequency="0.9 0.3" numOctaves="2" seed="176" result="a"/><feTurbulence type="fractalNoise" baseFrequency="0.004 0.25" numOctaves="1" seed="330" result="b"/><feColorMatrix in="a" type="matrix" values="0 0 0 0 0 0 0 0 0 0 0 0 0 0 0 1 0 0 0 0" result="a1"/><feColorMatrix in="b" type="matrix" values="0 0 0 0 0 0 0 0 0 0 0 0 0 0 0 1 0 0 0 0" result="b1"/><feComposite in="a1" in2="b1" operator="arithmetic" k1="0" k2="6" k3="1.5" k4="-3.9" result="c"/><feGaussianBlur stdDeviation="0.45" result="d"/><feComposite in="SourceGraphic" in2="d" operator="in"/></filter><filter id="z26" x="0" y="0" width="1" height="1" color-interpolation-filters="sRGB"><feTurbulence type="fractalNoise" baseFrequency="0.9 0.3" numOctaves="2" seed="183" result="a"/><feTurbulence type="fractalNoise" baseFrequency="0.004 0.25" numOctaves="1" seed="343" result="b"/><feColorMatrix in="a" type="matrix" values="0 0 0 0 0 0 0 0 0 0 0 0 0 0 0 1 0 0 0 0" result="a1"/><feColorMatrix in="b" type="matrix" values="0 0 0 0 0 0 0 0 0 0 0 0 0 0 0 1 0 0 0 0" result="b1"/><feComposite in="a1" in2="b1" operator="arithmetic" k1="0" k2="6" k3="1.5" k4="-3.85" result="c"/><feGaussianBlur stdDeviation="0.45" result="d"/><feComposite in="SourceGraphic" in2="d" operator="in"/></filter><filter id="z27" x="0" y="0" width="1" height="1" color-interpolation-filters="sRGB"><feTurbulence type="fractalNoise" baseFrequency="0.9 0.3" numOctaves="2" seed="190" result="a"/><feTurbulence type="fractalNoise" baseFrequency="0.004 0.25" numOctaves="1" seed="356" result="b"/><feColorMatrix in="a" type="matrix" values="0 0 0 0 0 0 0 0 0 0 0 0 0 0 0 1 0 0 0 0" result="a1"/><feColorMatrix in="b" type="matrix" values="0 0 0 0 0 0 0 0 0 0 0 0 0 0 0 1 0 0 0 0" result="b1"/><feComposite in="a1" in2="b1" operator="arithmetic" k1="0" k2="6" k3="1.5" k4="-3.82" result="c"/><feGaussianBlur stdDeviation="0.45" result="d"/><feComposite in="SourceGraphic" in2="d" operator="in"/></filter><filter id="z28" x="0" y="0" width="1" height="1" color-interpolation-filters="sRGB"><feTurbulence type="fractalNoise" baseFrequency="0.9 0.3" numOctaves="2" seed="197" result="a"/><feTurbulence type="fractalNoise" baseFrequency="0.004 0.25" numOctaves="1" seed="369" result="b"/><feColorMatrix in="a" type="matrix" values="0 0 0 0 0 0 0 0 0 0 0 0 0 0 0 1 0 0 0 0" result="a1"/><feColorMatrix in="b" type="matrix" values="0 0 0 0 0 0 0 0 0 0 0 0 0 0 0 1 0 0 0 0" result="b1"/><feComposite in="a1" in2="b1" operator="arithmetic" k1="0" k2="6" k3="1.5" k4="-4.02" result="c"/><feGaussianBlur stdDeviation="0.45" result="d"/><feComposite in="SourceGraphic" in2="d" operator="in"/></filter><filter id="z29" x="0" y="0" width="1" height="1" color-interpolation-filters="sRGB"><feTurbulence type="fractalNoise" baseFrequency="0.9 0.3" numOctaves="2" seed="204" result="a"/><feTurbulence type="fractalNoise" baseFrequency="0.004 0.25" numOctaves="1" seed="382" result="b"/><feColorMatrix in="a" type="matrix" values="0 0 0 0 0 0 0 0 0 0 0 0 0 0 0 1 0 0 0 0" result="a1"/><feColorMatrix in="b" type="matrix" values="0 0 0 0 0 0 0 0 0 0 0 0 0 0 0 1 0 0 0 0" result="b1"/><feComposite in="a1" in2="b1" operator="arithmetic" k1="0" k2="6" k3="1.5" k4="-3.77" result="c"/><feGaussianBlur stdDeviation="0.45" result="d"/><feComposite in="SourceGraphic" in2="d" operator="in"/></filter><filter id="z30" x="0" y="0" width="1" height="1" color-interpolation-filters="sRGB"><feTurbulence type="fractalNoise" baseFrequency="0.9 0.3" numOctaves="2" seed="211" result="a"/><feTurbulence type="fractalNoise" baseFrequency="0.004 0.25" numOctaves="1" seed="395" result="b"/><feColorMatrix in="a" type="matrix" values="0 0 0 0 0 0 0 0 0 0 0 0 0 0 0 1 0 0 0 0" result="a1"/><feColorMatrix in="b" type="matrix" values="0 0 0 0 0 0 0 0 0 0 0 0 0 0 0 1 0 0 0 0" result="b1"/><feComposite in="a1" in2="b1" operator="arithmetic" k1="0" k2="6" k3="1.5" k4="-4.07" result="c"/><feGaussianBlur stdDeviation="0.45" result="d"/><feComposite in="SourceGraphic" in2="d" operator="in"/></filter></defs><rect x="255.9" y="1751" width="454.1" height="10.5" fill="#9a9a9a"/><rect x="255.9" y="1751" width="454.1" height="10.5" fill="#5a5a5a" filter="url(#z1)"/><rect x="255.9" y="1751" width="454.1" height="10.5" fill="#d8d8d8" filter="url(#z2)"/><rect x="255.9" y="1761.5" width="454.1" height="38.5" fill="#bdbdbd" filter="url(#z3)"/><rect x="255.9" y="1800" width="454.1" height="70.0" fill="#bdbdbd" filter="url(#z4)"/><rect x="255.9" y="1870" width="454.1" height="35.0" fill="#bdbdbd" filter="url(#z5)"/><rect x="255.9" y="1905" width="454.1" height="14.0" fill="#bdbdbd" filter="url(#z6)"/><rect x="255.9" y="1919" width="454.1" height="9.0" fill="#bdbdbd" filter="url(#z7)"/><rect x="255.9" y="1928" width="454.1" height="15.0" fill="#bdbdbd" filter="url(#z8)"/><rect x="255.9" y="1943" width="454.1" height="10.0" fill="#bdbdbd" filter="url(#z9)"/><rect x="255.9" y="1953" width="454.1" height="6.0" fill="#bdbdbd" filter="url(#z10)"/><rect x="255.9" y="1959" width="454.1" height="7.0" fill="#bdbdbd" filter="url(#z7)"/><rect x="255.9" y="1966" width="454.1" height="24.0" fill="#bdbdbd" filter="url(#z11)"/><rect x="255.9" y="1990" width="454.1" height="4.0" fill="#bdbdbd" filter="url(#z12)"/><rect x="255.9" y="1994" width="454.1" height="17.0" fill="#bdbdbd" filter="url(#z13)"/><rect x="255.9" y="2011" width="454.1" height="8.0" fill="#bdbdbd" filter="url(#z14)"/><rect x="255.9" y="2019" width="454.1" height="10.0" fill="#bdbdbd" filter="url(#z11)"/><rect x="255.9" y="2029" width="454.1" height="9.0" fill="#bdbdbd" filter="url(#z15)"/><rect x="255.9" y="2038" width="454.1" height="28.0" fill="#bdbdbd" filter="url(#z8)"/><rect x="255.9" y="2066" width="454.1" height="245.8" fill="#bdbdbd" filter="url(#z16)"/><rect x="710" y="1756" width="377.0" height="5.0" fill="#a0a0a0" filter="url(#z1)"/><rect x="710" y="1761" width="377.0" height="39.0" fill="#bdbdbd" filter="url(#z17)"/><rect x="710" y="1800" width="377.0" height="146.0" fill="#bdbdbd" filter="url(#z5)"/><rect x="710" y="1946" width="377.0" height="10.0" fill="#bdbdbd" filter="url(#z18)"/><rect x="710" y="1956" width="377.0" height="24.0" fill="#bdbdbd" filter="url(#z8)"/><rect x="710" y="1980" width="377.0" height="87.0" fill="#bdbdbd" filter="url(#z19)"/><rect x="710" y="2067" width="377.0" height="8.0" fill="#bdbdbd" filter="url(#z20)"/><rect x="710" y="2075" width="377.0" height="7.0" fill="#bdbdbd" filter="url(#z1)"/><rect x="710" y="2082" width="377.0" height="6.0" fill="#bdbdbd" filter="url(#z18)"/><rect x="710" y="2088" width="377.0" height="8.0" fill="#bdbdbd" filter="url(#z1)"/><rect x="710" y="2096" width="377.0" height="14.0" fill="#bdbdbd" filter="url(#z21)"/><rect x="710" y="2110" width="377.0" height="15.0" fill="#bdbdbd" filter="url(#z22)"/><rect x="710" y="2125" width="377.0" height="7.0" fill="#bdbdbd" filter="url(#z6)"/><rect x="710" y="2132" width="377.0" height="179.8" fill="#bdbdbd" filter="url(#z16)"/><rect x="1087" y="1751.5" width="412.4" height="3.0" fill="#a0a0a0" filter="url(#z23)"/><rect x="1087" y="1754.5" width="412.4" height="6.5" fill="#b8b8b8" filter="url(#z24)"/><rect x="1087" y="1761.0" width="412.4" height="4.0" fill="#a8a8a8"/><rect x="1087" y="1761.0" width="412.4" height="4.0" fill="#555555" filter="url(#z14)"/><rect x="1087" y="1761.0" width="412.4" height="4.0" fill="#dadada" filter="url(#z25)"/><rect x="1087" y="1765.0" width="412.4" height="3.0" fill="#b2b2b2"/><rect x="1087" y="1765.0" width="412.4" height="3.0" fill="#555555" filter="url(#z14)"/><rect x="1087" y="1765.0" width="412.4" height="3.0" fill="#dadada" filter="url(#z25)"/><rect x="1087" y="1768.0" width="412.4" height="5.0" fill="#9e9e9e"/><rect x="1087" y="1768.0" width="412.4" height="5.0" fill="#555555" filter="url(#z14)"/><rect x="1087" y="1768.0" width="412.4" height="5.0" fill="#dadada" filter="url(#z25)"/><rect x="1087" y="1773.0" width="412.4" height="3.0" fill="#969696"/><rect x="1087" y="1773.0" width="412.4" height="3.0" fill="#555555" filter="url(#z14)"/><rect x="1087" y="1773.0" width="412.4" height="3.0" fill="#dadada" filter="url(#z25)"/><rect x="1087" y="1776.0" width="412.4" height="3.0" fill="#b2b2b2"/><rect x="1087" y="1776.0" width="412.4" height="3.0" fill="#555555" filter="url(#z14)"/><rect x="1087" y="1776.0" width="412.4" height="3.0" fill="#dadada" filter="url(#z25)"/><rect x="1087" y="1779.0" width="412.4" height="4.5" fill="#969696"/><rect x="1087" y="1779.0" width="412.4" height="4.5" fill="#555555" filter="url(#z14)"/><rect x="1087" y="1779.0" width="412.4" height="4.5" fill="#dadada" filter="url(#z25)"/><rect x="1087" y="1783.5" width="412.4" height="4.0" fill="#bebebe"/><rect x="1087" y="1783.5" width="412.4" height="4.0" fill="#555555" filter="url(#z14)"/><rect x="1087" y="1783.5" width="412.4" height="4.0" fill="#dadada" filter="url(#z25)"/><rect x="1087" y="1787.5" width="412.4" height="4.5" fill="#a8a8a8"/><rect x="1087" y="1787.5" width="412.4" height="4.5" fill="#555555" filter="url(#z14)"/><rect x="1087" y="1787.5" width="412.4" height="4.5" fill="#dadada" filter="url(#z25)"/><rect x="1087" y="1792.0" width="412.4" height="4.0" fill="#969696"/><rect x="1087" y="1792.0" width="412.4" height="4.0" fill="#555555" filter="url(#z14)"/><rect x="1087" y="1792.0" width="412.4" height="4.0" fill="#dadada" filter="url(#z25)"/><rect x="1087" y="1796.0" width="412.4" height="4.5" fill="#9e9e9e"/><rect x="1087" y="1796.0" width="412.4" height="4.5" fill="#555555" filter="url(#z14)"/><rect x="1087" y="1796.0" width="412.4" height="4.5" fill="#dadada" filter="url(#z25)"/><rect x="1087" y="1800.5" width="412.4" height="3.0" fill="#a8a8a8"/><rect x="1087" y="1800.5" width="412.4" height="3.0" fill="#555555" filter="url(#z14)"/><rect x="1087" y="1800.5" width="412.4" height="3.0" fill="#dadada" filter="url(#z25)"/><rect x="1087" y="1803.5" width="412.4" height="4.5" fill="#9e9e9e"/><rect x="1087" y="1803.5" width="412.4" height="4.5" fill="#555555" filter="url(#z14)"/><rect x="1087" y="1803.5" width="412.4" height="4.5" fill="#dadada" filter="url(#z25)"/><rect x="1087" y="1808.0" width="412.4" height="4.0" fill="#a8a8a8"/><rect x="1087" y="1808.0" width="412.4" height="4.0" fill="#555555" filter="url(#z14)"/><rect x="1087" y="1808.0" width="412.4" height="4.0" fill="#dadada" filter="url(#z25)"/><rect x="1087" y="1812" width="412.4" height="10.0" fill="#d2d2d2"/><rect x="1087" y="1812" width="412.4" height="10.0" fill="#8a8a8a" filter="url(#z22)"/><rect x="1087" y="1822.0" width="412.4" height="5.0" fill="#d4d4d4"/><rect x="1087" y="1822.0" width="412.4" height="5.0" fill="#7a7a7a" filter="url(#z18)"/><rect x="1087" y="1822.0" width="412.4" height="5.0" fill="#ececec" filter="url(#z26)"/><rect x="1087" y="1827.0" width="412.4" height="3.0" fill="#d4d4d4"/><rect x="1087" y="1827.0" width="412.4" height="3.0" fill="#7a7a7a" filter="url(#z18)"/><rect x="1087" y="1827.0" width="412.4" height="3.0" fill="#ececec" filter="url(#z26)"/><rect x="1087" y="1830.0" width="412.4" height="6.0" fill="#cccccc"/><rect x="1087" y="1830.0" width="412.4" height="6.0" fill="#7a7a7a" filter="url(#z18)"/><rect x="1087" y="1830.0" width="412.4" height="6.0" fill="#ececec" filter="url(#z26)"/><rect x="1087" y="1836.0" width="412.4" height="4.0" fill="#cccccc"/><rect x="1087" y="1836.0" width="412.4" height="4.0" fill="#7a7a7a" filter="url(#z18)"/><rect x="1087" y="1836.0" width="412.4" height="4.0" fill="#ececec" filter="url(#z26)"/><rect x="1087" y="1840.0" width="412.4" height="6.0" fill="#d4d4d4"/><rect x="1087" y="1840.0" width="412.4" height="6.0" fill="#7a7a7a" filter="url(#z18)"/><rect x="1087" y="1840.0" width="412.4" height="6.0" fill="#ececec" filter="url(#z26)"/><rect x="1087" y="1846.0" width="412.4" height="3.0" fill="#d4d4d4"/><rect x="1087" y="1846.0" width="412.4" height="3.0" fill="#7a7a7a" filter="url(#z18)"/><rect x="1087" y="1846.0" width="412.4" height="3.0" fill="#ececec" filter="url(#z26)"/><rect x="1087" y="1849.0" width="412.4" height="3.0" fill="#d4d4d4"/><rect x="1087" y="1849.0" width="412.4" height="3.0" fill="#7a7a7a" filter="url(#z18)"/><rect x="1087" y="1849.0" width="412.4" height="3.0" fill="#ececec" filter="url(#z26)"/><rect x="1087" y="1852.0" width="412.4" height="5.0" fill="#cccccc"/><rect x="1087" y="1852.0" width="412.4" height="5.0" fill="#7a7a7a" filter="url(#z18)"/><rect x="1087" y="1852.0" width="412.4" height="5.0" fill="#ececec" filter="url(#z26)"/><rect x="1087" y="1857.0" width="412.4" height="6.0" fill="#bcbcbc"/><rect x="1087" y="1857.0" width="412.4" height="6.0" fill="#7a7a7a" filter="url(#z18)"/><rect x="1087" y="1857.0" width="412.4" height="6.0" fill="#ececec" filter="url(#z26)"/><rect x="1087" y="1863.0" width="412.4" height="5.0" fill="#bcbcbc"/><rect x="1087" y="1863.0" width="412.4" height="5.0" fill="#7a7a7a" filter="url(#z18)"/><rect x="1087" y="1863.0" width="412.4" height="5.0" fill="#ececec" filter="url(#z26)"/><rect x="1087" y="1868.0" width="412.4" height="6.0" fill="#cccccc"/><rect x="1087" y="1868.0" width="412.4" height="6.0" fill="#7a7a7a" filter="url(#z18)"/><rect x="1087" y="1868.0" width="412.4" height="6.0" fill="#ececec" filter="url(#z26)"/><rect x="1087" y="1874.0" width="412.4" height="3.0" fill="#d4d4d4"/><rect x="1087" y="1874.0" width="412.4" height="3.0" fill="#7a7a7a" filter="url(#z18)"/><rect x="1087" y="1874.0" width="412.4" height="3.0" fill="#ececec" filter="url(#z26)"/><rect x="1087" y="1877" width="412.4" height="27.0" fill="#bdbdbd" filter="url(#z5)"/><rect x="1087" y="1904" width="412.4" height="8.0" fill="#bdbdbd" filter="url(#z7)"/><rect x="1087" y="1912" width="412.4" height="9.0" fill="#bdbdbd" filter="url(#z21)"/><rect x="1087" y="1921" width="412.4" height="211.0" fill="#bdbdbd" filter="url(#z5)"/><rect x="1087" y="2132" width="412.4" height="18.0" fill="#bdbdbd" filter="url(#z27)"/><rect x="1087" y="2150" width="412.4" height="20.0" fill="#bdbdbd" filter="url(#z28)"/><rect x="1087" y="2170" width="412.4" height="15.0" fill="#bdbdbd" filter="url(#z29)"/><rect x="1087" y="2185" width="412.4" height="15.0" fill="#bdbdbd" filter="url(#z28)"/><rect x="1087" y="2200" width="412.4" height="112.5" fill="#bdbdbd" filter="url(#z30)"/><line x1="322.5" y1="1762" x2="322.5" y2="1872" stroke="#c4c4c4" stroke-width="1"/>
</svg>
</body></html>
